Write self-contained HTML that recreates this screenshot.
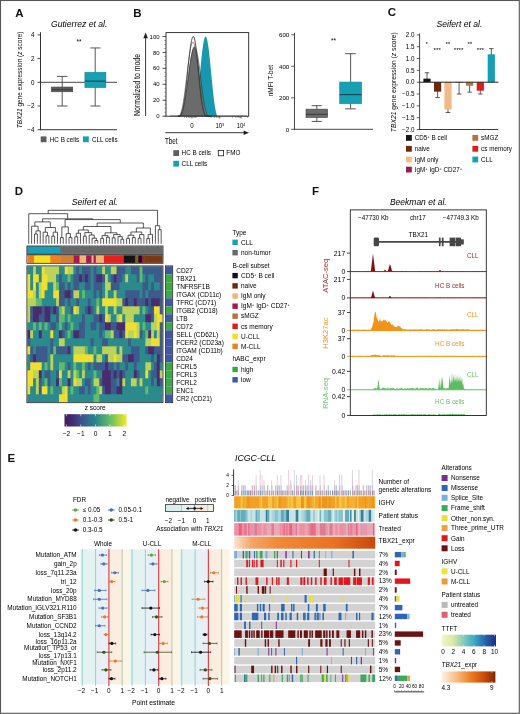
<!DOCTYPE html>
<html><head><meta charset="utf-8"><style>
html,body{margin:0;padding:0;background:#fff;}
body{width:520px;height:714px;overflow:hidden;}
svg{display:block;font-family:"Liberation Sans", sans-serif;will-change:transform;}
</style></head><body>
<svg width="520" height="714" viewBox="0 0 520 714">
<rect x="0" y="0" width="520" height="714" fill="#fff"/>
<text x="15.2" y="16.6" font-size="11.5" font-weight="bold" fill="#111">A</text>
<text x="79.2" y="27.1" font-size="8.6" text-anchor="middle" font-style="italic">Gutierrez et al.</text>
<line x1="40.5" y1="32.3" x2="40.5" y2="130.2" stroke="#333" stroke-width="1"/>
<line x1="40" y1="129.7" x2="117" y2="129.7" stroke="#333" stroke-width="1"/>
<line x1="37.6" y1="34.9" x2="40.5" y2="34.9" stroke="#333" stroke-width="0.9"/>
<text x="34.4" y="37.1" font-size="6.3" text-anchor="end">4</text>
<line x1="37.6" y1="58.6" x2="40.5" y2="58.6" stroke="#333" stroke-width="0.9"/>
<text x="34.4" y="60.8" font-size="6.3" text-anchor="end">2</text>
<line x1="37.6" y1="82.3" x2="40.5" y2="82.3" stroke="#333" stroke-width="0.9"/>
<text x="34.4" y="84.5" font-size="6.3" text-anchor="end">0</text>
<line x1="37.6" y1="106" x2="40.5" y2="106" stroke="#333" stroke-width="0.9"/>
<text x="34.4" y="108.2" font-size="6.3" text-anchor="end">−2</text>
<line x1="37.6" y1="129.7" x2="40.5" y2="129.7" stroke="#333" stroke-width="0.9"/>
<text x="34.4" y="131.9" font-size="6.3" text-anchor="end">−4</text>
<line x1="40.5" y1="82.3" x2="117" y2="82.3" stroke="#333" stroke-width="0.9"/>
<line x1="62.2" y1="76.38" x2="62.2" y2="106" stroke="#444" stroke-width="0.9"/>
<line x1="57" y1="76.38" x2="67.5" y2="76.38" stroke="#444" stroke-width="0.9"/>
<line x1="57" y1="106" x2="67.5" y2="106" stroke="#444" stroke-width="0.9"/>
<rect x="51.5" y="87.04" width="21.2" height="4.74" fill="#5e5e5e" stroke="#444" stroke-width="0.6"/>
<line x1="51.5" y1="89.65" x2="72.7" y2="89.65" stroke="#333" stroke-width="0.8"/>
<line x1="95.2" y1="47.94" x2="95.2" y2="106" stroke="#444" stroke-width="0.9"/>
<line x1="90.4" y1="47.94" x2="100.5" y2="47.94" stroke="#444" stroke-width="0.9"/>
<line x1="90.4" y1="106" x2="100.5" y2="106" stroke="#444" stroke-width="0.9"/>
<rect x="84.9" y="72.23" width="21" height="15.41" fill="#17a0b4" stroke="#148c9c" stroke-width="0.6"/>
<line x1="84.9" y1="81.11" x2="105.9" y2="81.11" stroke="#163c44" stroke-width="1"/>
<text x="79" y="43.5" font-size="6.5" text-anchor="middle">**</text>
<text x="22.5" y="79.9" font-size="6.9" text-anchor="middle" transform="rotate(-90 22.5 79.9)" textLength="96.7" lengthAdjust="spacingAndGlyphs"><tspan font-style="italic">TBX21</tspan> gene expression (<tspan font-style="italic">z</tspan> score)</text>
<rect x="40.7" y="136.4" width="5.8" height="5.8" fill="#5e5e5e"/>
<text x="49.8" y="141.6" font-size="6.3">HC B cells</text>
<rect x="83" y="136.4" width="5.8" height="5.8" fill="#17a0b4"/>
<text x="92" y="141.6" font-size="6.3">CLL cells</text>
<text x="133.2" y="16.6" font-size="11.5" font-weight="bold" fill="#111">B</text>
<path d="M188,116.2 L188.3,116.2 L188.6,116.2 L188.9,116.2 L189.2,116.2 L189.5,116.2 L189.8,116.2 L190.1,116.2 L190.4,116.2 L190.7,116.2 L191,116.2 L191.3,116.2 L191.6,116.2 L191.9,116.2 L192.2,116.2 L192.5,116.2 L192.8,116.2 L193.1,116.2 L193.4,116.2 L193.7,116.2 L194,116.2 L194.3,115.64 L194.6,114.69 L194.9,113.6 L195.2,112.35 L195.5,110.95 L195.8,109.38 L196.1,107.66 L196.4,105.77 L196.7,103.72 L197,101.52 L197.3,99.16 L197.6,96.66 L197.9,94.03 L198.2,91.29 L198.5,88.43 L198.8,85.48 L199.1,82.46 L199.4,79.39 L199.7,76.28 L200,73.16 L200.3,70.04 L200.6,66.95 L200.9,63.91 L201.2,60.94 L201.5,58.07 L201.8,55.3 L202.1,52.66 L202.4,50.18 L202.7,47.86 L203,45.72 L203.3,43.78 L203.6,42.05 L203.9,40.53 L204.2,39.25 L204.5,38.2 L204.8,37.4 L205.1,36.85 L205.4,36.56 L205.7,36.51 L206,36.73 L206.3,37.19 L206.6,37.91 L206.9,38.87 L207.2,40.08 L207.5,41.52 L207.8,43.18 L208.1,45.05 L208.4,47.12 L208.7,49.39 L209,51.82 L209.3,54.41 L209.6,57.13 L209.9,59.97 L210.2,62.91 L210.5,65.93 L210.8,69.01 L211.1,72.12 L211.4,75.24 L211.7,78.36 L212,81.44 L212.3,84.48 L212.6,87.46 L212.9,90.34 L213.2,93.13 L213.5,95.8 L213.8,98.34 L214.1,100.75 L214.4,103 L214.7,105.1 L215,107.05 L215.3,108.83 L215.6,110.44 L215.9,111.9 L216.2,113.2 L216.5,114.34 L216.8,115.34 L217.1,116.2 L217.4,116.2 L217.7,116.2 L218,116.2 L218.3,116.2 L218.6,116.2 L218.9,116.2 L219.2,116.2 L219.5,116.2 L219.8,116.2 L220.1,116.2 L220.4,116.2 L220.7,116.2 L221,116.2 L221.3,116.2 L221.6,116.2 L221.9,116.2 L222.2,116.2 L222.5,116.2 L222.8,116.2 L223.1,116.2 L223.4,116.2 L223.7,116.2 L224,116.2 L224,116.2 L188,116.2 Z" fill="#1798ae"/>
<path d="M176,116.2 L176.3,116.2 L176.6,116.2 L176.9,116.2 L177.2,116.2 L177.5,116.2 L177.8,116.2 L178.1,116.2 L178.4,116.2 L178.7,116.2 L179,116.2 L179.3,116.2 L179.6,116.04 L179.9,115.68 L180.2,115.25 L180.5,114.77 L180.8,114.21 L181.1,113.58 L181.4,112.87 L181.7,112.08 L182,111.2 L182.3,110.24 L182.6,109.18 L182.9,108.03 L183.2,106.79 L183.5,105.46 L183.8,104.03 L184.1,102.51 L184.4,100.91 L184.7,99.21 L185,97.43 L185.3,95.57 L185.6,93.64 L185.9,91.64 L186.2,89.58 L186.5,87.46 L186.8,85.31 L187.1,83.12 L187.4,80.9 L187.7,78.67 L188,76.43 L188.3,74.2 L188.6,71.99 L188.9,69.81 L189.2,67.67 L189.5,65.58 L189.8,63.55 L190.1,61.59 L190.4,59.72 L190.7,57.95 L191,56.28 L191.3,54.72 L191.6,53.28 L191.9,51.97 L192.2,50.8 L192.5,49.77 L192.8,48.89 L193.1,48.17 L193.4,47.6 L193.7,47.19 L194,46.94 L194.3,46.86 L194.6,46.96 L194.9,47.26 L195.2,47.75 L195.5,48.44 L195.8,49.31 L196.1,50.37 L196.4,51.61 L196.7,53.01 L197,54.57 L197.3,56.28 L197.6,58.12 L197.9,60.09 L198.2,62.17 L198.5,64.35 L198.8,66.61 L199.1,68.95 L199.4,71.33 L199.7,73.76 L200,76.21 L200.3,78.67 L200.6,81.12 L200.9,83.56 L201.2,85.96 L201.5,88.31 L201.8,90.61 L202.1,92.84 L202.4,95 L202.7,97.06 L203,99.03 L203.3,100.91 L203.6,102.67 L203.9,104.33 L204.2,105.87 L204.5,107.3 L204.8,108.62 L205.1,109.83 L205.4,110.92 L205.7,111.91 L206,112.79 L206.3,113.58 L206.6,114.27 L206.9,114.87 L207.2,115.39 L207.5,115.83 L207.8,116.2 L208.1,116.2 L208.4,116.2 L208.7,116.2 L209,116.2 L209.3,116.2 L209.6,116.2 L209.9,116.2 L210.2,116.2 L210.5,116.2 L210.8,116.2 L211.1,116.2 L211.4,116.2 L211.7,116.2 L212,116.2 L212,116.2 L176,116.2 Z" fill="#6b6b6b"/>
<path d="M178,116.2 L178.27,116.2 L178.53,116.2 L178.8,116.2 L179.07,116.2 L179.33,116.2 L179.6,116.15 L179.87,115.88 L180.13,115.56 L180.4,115.18 L180.67,114.73 L180.93,114.22 L181.2,113.63 L181.47,112.97 L181.73,112.22 L182,111.39 L182.27,110.46 L182.53,109.44 L182.8,108.31 L183.07,107.09 L183.33,105.76 L183.6,104.33 L183.87,102.79 L184.13,101.14 L184.4,99.39 L184.67,97.54 L184.93,95.58 L185.2,93.54 L185.47,91.4 L185.73,89.18 L186,86.88 L186.27,84.51 L186.53,82.08 L186.8,79.61 L187.07,77.09 L187.33,74.54 L187.6,71.98 L187.87,69.42 L188.13,66.86 L188.4,64.33 L188.67,61.83 L188.93,59.38 L189.2,56.99 L189.47,54.68 L189.73,52.46 L190,50.34 L190.27,48.33 L190.53,46.45 L190.8,44.71 L191.07,43.11 L191.33,41.66 L191.6,40.38 L191.87,39.28 L192.13,38.35 L192.4,37.6 L192.67,37.05 L192.93,36.68 L193.2,36.51 L193.47,36.55 L193.73,36.81 L194,37.31 L194.27,38.04 L194.53,38.99 L194.8,40.16 L195.07,41.55 L195.33,43.13 L195.6,44.9 L195.87,46.84 L196.13,48.95 L196.4,51.2 L196.67,53.59 L196.93,56.09 L197.2,58.69 L197.47,61.37 L197.73,64.11 L198,66.89 L198.27,69.71 L198.53,72.53 L198.8,75.34 L199.07,78.13 L199.33,80.88 L199.6,83.58 L199.87,86.2 L200.13,88.75 L200.4,91.21 L200.67,93.56 L200.93,95.81 L201.2,97.94 L201.47,99.95 L201.73,101.83 L202,103.59 L202.27,105.22 L202.53,106.72 L202.8,108.09 L203.07,109.34 L203.33,110.47 L203.6,111.48 L203.87,112.39 L204.13,113.18 L204.4,113.88 L204.67,114.49 L204.93,115.01 L205.2,115.45 L205.47,115.83 L205.73,116.13 L206,116.2 L206.27,116.2 L206.53,116.2 L206.8,116.2 L207.07,116.2 L207.33,116.2 L207.6,116.2 L207.87,116.2 L208.13,116.2 L208.4,116.2 L208.67,116.2 L208.93,116.2 L209.2,116.2 L209.47,116.2 L209.73,116.2 L210,116.2" fill="none" stroke="#2a2a2a" stroke-width="0.85"/>
<path d="M177,116.2 L177.29,116.2 L177.58,116.2 L177.88,116.2 L178.17,116.2 L178.46,116.2 L178.75,116.2 L179.04,116.2 L179.33,116.2 L179.62,116.2 L179.92,116.2 L180.21,116.2 L180.5,116.1 L180.79,115.67 L181.08,115.18 L181.38,114.61 L181.67,113.97 L181.96,113.25 L182.25,112.44 L182.54,111.55 L182.83,110.57 L183.12,109.5 L183.42,108.33 L183.71,107.07 L184,105.72 L184.29,104.28 L184.58,102.74 L184.88,101.12 L185.17,99.41 L185.46,97.61 L185.75,95.74 L186.04,93.8 L186.33,91.79 L186.62,89.73 L186.92,87.62 L187.21,85.46 L187.5,83.27 L187.79,81.06 L188.08,78.83 L188.38,76.61 L188.67,74.39 L188.96,72.19 L189.25,70.02 L189.54,67.89 L189.83,65.81 L190.12,63.79 L190.42,61.85 L190.71,59.99 L191,58.22 L191.29,56.55 L191.58,54.99 L191.88,53.55 L192.17,52.24 L192.46,51.05 L192.75,50.01 L193.04,49.1 L193.33,48.35 L193.62,47.75 L193.92,47.3 L194.21,47 L194.5,46.87 L194.79,46.9 L195.08,47.1 L195.38,47.48 L195.67,48.03 L195.96,48.74 L196.25,49.63 L196.54,50.67 L196.83,51.86 L197.12,53.21 L197.42,54.69 L197.71,56.31 L198,58.04 L198.29,59.89 L198.58,61.84 L198.88,63.89 L199.17,66.01 L199.46,68.2 L199.75,70.44 L200.04,72.73 L200.33,75.04 L200.62,77.38 L200.92,79.72 L201.21,82.05 L201.5,84.36 L201.79,86.64 L202.08,88.88 L202.38,91.07 L202.67,93.2 L202.96,95.26 L203.25,97.24 L203.54,99.14 L203.83,100.95 L204.12,102.66 L204.42,104.27 L204.71,105.79 L205,107.2 L205.29,108.51 L205.58,109.71 L205.88,110.82 L206.17,111.82 L206.46,112.73 L206.75,113.54 L207.04,114.26 L207.33,114.9 L207.62,115.46 L207.92,115.94 L208.21,116.2 L208.5,116.2 L208.79,116.2 L209.08,116.2 L209.38,116.2 L209.67,116.2 L209.96,116.2 L210.25,116.2 L210.54,116.2 L210.83,116.2 L211.12,116.2 L211.42,116.2 L211.71,116.2 L212,116.2" fill="none" stroke="#3c3c3c" stroke-width="0.7"/>
<path d="M178,116.2 L178.27,116.2 L178.53,116.2 L178.8,116.2 L179.07,116.2 L179.33,116.09 L179.6,115.68 L179.87,115.22 L180.13,114.69 L180.4,114.09 L180.67,113.41 L180.93,112.66 L181.2,111.83 L181.47,110.91 L181.73,109.91 L182,108.82 L182.27,107.64 L182.53,106.37 L182.8,105.02 L183.07,103.57 L183.33,102.03 L183.6,100.41 L183.87,98.7 L184.13,96.91 L184.4,95.05 L184.67,93.11 L184.93,91.11 L185.2,89.05 L185.47,86.93 L185.73,84.77 L186,82.57 L186.27,80.34 L186.53,78.09 L186.8,75.83 L187.07,73.57 L187.33,71.32 L187.6,69.08 L187.87,66.87 L188.13,64.71 L188.4,62.59 L188.67,60.52 L188.93,58.53 L189.2,56.61 L189.47,54.78 L189.73,53.05 L190,51.42 L190.27,49.9 L190.53,48.5 L190.8,47.22 L191.07,46.07 L191.33,45.06 L191.6,44.19 L191.87,43.47 L192.13,42.89 L192.4,42.47 L192.67,42.2 L192.93,42.08 L193.2,42.13 L193.47,42.37 L193.73,42.79 L194,43.39 L194.27,44.17 L194.53,45.13 L194.8,46.26 L195.07,47.56 L195.33,49.01 L195.6,50.61 L195.87,52.34 L196.13,54.21 L196.4,56.19 L196.67,58.29 L196.93,60.47 L197.2,62.74 L197.47,65.08 L197.73,67.48 L198,69.92 L198.27,72.39 L198.53,74.87 L198.8,77.36 L199.07,79.84 L199.33,82.3 L199.6,84.72 L199.87,87.09 L200.13,89.41 L200.4,91.67 L200.67,93.85 L200.93,95.95 L201.2,97.95 L201.47,99.86 L201.73,101.67 L202,103.38 L202.27,104.98 L202.53,106.47 L202.8,107.85 L203.07,109.13 L203.33,110.29 L203.6,111.36 L203.87,112.31 L204.13,113.17 L204.4,113.94 L204.67,114.61 L204.93,115.2 L205.2,115.71 L205.47,116.15 L205.73,116.2 L206,116.2 L206.27,116.2 L206.53,116.2 L206.8,116.2 L207.07,116.2 L207.33,116.2 L207.6,116.2 L207.87,116.2 L208.13,116.2 L208.4,116.2 L208.67,116.2 L208.93,116.2 L209.2,116.2 L209.47,116.2 L209.73,116.2 L210,116.2" fill="none" stroke="#4a4a4a" stroke-width="0.6"/>
<line x1="170" y1="115.9" x2="247" y2="115.9" stroke="#444" stroke-width="0.6"/>
<rect x="166" y="32.6" width="82.7" height="83.6" fill="none" stroke="#222" stroke-width="0.9"/>
<line x1="162.4" y1="116.2" x2="166" y2="116.2" stroke="#333" stroke-width="0.8"/>
<text x="159.6" y="118.3" font-size="6" text-anchor="end">0</text>
<line x1="162.4" y1="100.26" x2="166" y2="100.26" stroke="#333" stroke-width="0.8"/>
<text x="159.6" y="102.36" font-size="6" text-anchor="end">20</text>
<line x1="162.4" y1="84.32" x2="166" y2="84.32" stroke="#333" stroke-width="0.8"/>
<text x="159.6" y="86.42" font-size="6" text-anchor="end">40</text>
<line x1="162.4" y1="68.38" x2="166" y2="68.38" stroke="#333" stroke-width="0.8"/>
<text x="159.6" y="70.48" font-size="6" text-anchor="end">60</text>
<line x1="162.4" y1="52.44" x2="166" y2="52.44" stroke="#333" stroke-width="0.8"/>
<text x="159.6" y="54.54" font-size="6" text-anchor="end">80</text>
<line x1="162.4" y1="36.5" x2="166" y2="36.5" stroke="#333" stroke-width="0.8"/>
<text x="159.6" y="38.6" font-size="6" text-anchor="end">100</text>
<line x1="164.4" y1="116.2" x2="166" y2="116.2" stroke="#333" stroke-width="0.5"/>
<line x1="164.4" y1="112.22" x2="166" y2="112.22" stroke="#333" stroke-width="0.5"/>
<line x1="164.4" y1="108.23" x2="166" y2="108.23" stroke="#333" stroke-width="0.5"/>
<line x1="164.4" y1="104.25" x2="166" y2="104.25" stroke="#333" stroke-width="0.5"/>
<line x1="164.4" y1="100.26" x2="166" y2="100.26" stroke="#333" stroke-width="0.5"/>
<line x1="164.4" y1="96.28" x2="166" y2="96.28" stroke="#333" stroke-width="0.5"/>
<line x1="164.4" y1="92.29" x2="166" y2="92.29" stroke="#333" stroke-width="0.5"/>
<line x1="164.4" y1="88.31" x2="166" y2="88.31" stroke="#333" stroke-width="0.5"/>
<line x1="164.4" y1="84.32" x2="166" y2="84.32" stroke="#333" stroke-width="0.5"/>
<line x1="164.4" y1="80.34" x2="166" y2="80.34" stroke="#333" stroke-width="0.5"/>
<line x1="164.4" y1="76.35" x2="166" y2="76.35" stroke="#333" stroke-width="0.5"/>
<line x1="164.4" y1="72.37" x2="166" y2="72.37" stroke="#333" stroke-width="0.5"/>
<line x1="164.4" y1="68.38" x2="166" y2="68.38" stroke="#333" stroke-width="0.5"/>
<line x1="164.4" y1="64.4" x2="166" y2="64.4" stroke="#333" stroke-width="0.5"/>
<line x1="164.4" y1="60.41" x2="166" y2="60.41" stroke="#333" stroke-width="0.5"/>
<line x1="164.4" y1="56.42" x2="166" y2="56.42" stroke="#333" stroke-width="0.5"/>
<line x1="164.4" y1="52.44" x2="166" y2="52.44" stroke="#333" stroke-width="0.5"/>
<line x1="164.4" y1="48.45" x2="166" y2="48.45" stroke="#333" stroke-width="0.5"/>
<line x1="164.4" y1="44.47" x2="166" y2="44.47" stroke="#333" stroke-width="0.5"/>
<line x1="164.4" y1="40.48" x2="166" y2="40.48" stroke="#333" stroke-width="0.5"/>
<line x1="164.4" y1="36.5" x2="166" y2="36.5" stroke="#333" stroke-width="0.5"/>
<line x1="191.9" y1="116.2" x2="191.9" y2="118.5" stroke="#333" stroke-width="0.7"/>
<line x1="219.8" y1="116.2" x2="219.8" y2="118.5" stroke="#333" stroke-width="0.7"/>
<line x1="241" y1="116.2" x2="241" y2="118.5" stroke="#333" stroke-width="0.7"/>
<line x1="184.3" y1="116.2" x2="184.3" y2="117.8" stroke="#333" stroke-width="0.5"/>
<line x1="186.5" y1="116.2" x2="186.5" y2="117.8" stroke="#333" stroke-width="0.5"/>
<line x1="188.2" y1="116.2" x2="188.2" y2="117.8" stroke="#333" stroke-width="0.5"/>
<line x1="189.6" y1="116.2" x2="189.6" y2="117.8" stroke="#333" stroke-width="0.5"/>
<line x1="190.8" y1="116.2" x2="190.8" y2="117.8" stroke="#333" stroke-width="0.5"/>
<line x1="193" y1="116.2" x2="193" y2="117.8" stroke="#333" stroke-width="0.5"/>
<line x1="194.3" y1="116.2" x2="194.3" y2="117.8" stroke="#333" stroke-width="0.5"/>
<line x1="195.4" y1="116.2" x2="195.4" y2="117.8" stroke="#333" stroke-width="0.5"/>
<line x1="196.2" y1="116.2" x2="196.2" y2="117.8" stroke="#333" stroke-width="0.5"/>
<line x1="211" y1="116.2" x2="211" y2="117.8" stroke="#333" stroke-width="0.5"/>
<line x1="214.6" y1="116.2" x2="214.6" y2="117.8" stroke="#333" stroke-width="0.5"/>
<line x1="216.7" y1="116.2" x2="216.7" y2="117.8" stroke="#333" stroke-width="0.5"/>
<line x1="218.2" y1="116.2" x2="218.2" y2="117.8" stroke="#333" stroke-width="0.5"/>
<line x1="219" y1="116.2" x2="219" y2="117.8" stroke="#333" stroke-width="0.5"/>
<line x1="232.4" y1="116.2" x2="232.4" y2="117.8" stroke="#333" stroke-width="0.5"/>
<line x1="235.8" y1="116.2" x2="235.8" y2="117.8" stroke="#333" stroke-width="0.5"/>
<line x1="237.8" y1="116.2" x2="237.8" y2="117.8" stroke="#333" stroke-width="0.5"/>
<line x1="239.2" y1="116.2" x2="239.2" y2="117.8" stroke="#333" stroke-width="0.5"/>
<line x1="240.2" y1="116.2" x2="240.2" y2="117.8" stroke="#333" stroke-width="0.5"/>
<line x1="247.5" y1="116.2" x2="247.5" y2="117.8" stroke="#333" stroke-width="0.5"/>
<text x="191.9" y="128.2" font-size="7" text-anchor="middle" textLength="3.4" lengthAdjust="spacingAndGlyphs">0</text>
<text x="219.8" y="128.2" font-size="7" text-anchor="middle" textLength="8.6" lengthAdjust="spacingAndGlyphs">10<tspan font-size="4.4" dy="-2.6">3</tspan></text>
<text x="241" y="128.2" font-size="7" text-anchor="middle" textLength="8.6" lengthAdjust="spacingAndGlyphs">10<tspan font-size="4.4" dy="-2.6">4</tspan></text>
<line x1="145.6" y1="116" x2="145.6" y2="36" stroke="#222" stroke-width="0.9"/>
<path d="M145.6,32.6 L143.3,38.2 L147.9,38.2 Z" fill="#222"/>
<line x1="165.3" y1="132.7" x2="245" y2="132.7" stroke="#222" stroke-width="0.9"/>
<path d="M249.0,132.7 L243.6,130.5 L243.6,134.9 Z" fill="#222"/>
<text x="140.4" y="85" font-size="8.6" text-anchor="middle" transform="rotate(-90 140.4 85)" textLength="62" lengthAdjust="spacingAndGlyphs">Normalized to mode</text>
<text x="165" y="143.7" font-size="8.6" textLength="12.6" lengthAdjust="spacingAndGlyphs">Tbet</text>
<rect x="173.3" y="150.2" width="5.8" height="5.8" fill="#5e5e5e"/>
<text x="181.6" y="155.4" font-size="6.3">HC B cells</text>
<rect x="218.3" y="150.5" width="5.3" height="5.3" fill="#fff" stroke="#222" stroke-width="0.8"/>
<text x="226.3" y="155.4" font-size="6.3">FMO</text>
<rect x="173.3" y="160.8" width="5.8" height="5.8" fill="#17a0b4"/>
<text x="181.6" y="166" font-size="6.3">CLL cells</text>
<line x1="294.5" y1="32.8" x2="294.5" y2="129.8" stroke="#333" stroke-width="0.9"/>
<line x1="294" y1="129.3" x2="373" y2="129.3" stroke="#333" stroke-width="0.9"/>
<line x1="291.2" y1="129.3" x2="294.5" y2="129.3" stroke="#333" stroke-width="0.8"/>
<text x="289.3" y="131.5" font-size="6.2" text-anchor="end">0</text>
<line x1="291.2" y1="97.8" x2="294.5" y2="97.8" stroke="#333" stroke-width="0.8"/>
<text x="289.3" y="100" font-size="6.2" text-anchor="end">200</text>
<line x1="291.2" y1="66.3" x2="294.5" y2="66.3" stroke="#333" stroke-width="0.8"/>
<text x="289.3" y="68.5" font-size="6.2" text-anchor="end">400</text>
<line x1="291.2" y1="34.8" x2="294.5" y2="34.8" stroke="#333" stroke-width="0.8"/>
<text x="289.3" y="37" font-size="6.2" text-anchor="end">600</text>
<line x1="316.8" y1="105.68" x2="316.8" y2="121.43" stroke="#444" stroke-width="0.9"/>
<line x1="311.7" y1="105.68" x2="321.8" y2="105.68" stroke="#444" stroke-width="0.9"/>
<line x1="311.7" y1="121.43" x2="321.8" y2="121.43" stroke="#444" stroke-width="0.9"/>
<rect x="306" y="109.14" width="21.6" height="8.35" fill="#6b6b6b" stroke="#444" stroke-width="0.6"/>
<line x1="306" y1="114.34" x2="327.6" y2="114.34" stroke="#333" stroke-width="0.9"/>
<line x1="350.6" y1="53.7" x2="350.6" y2="108.83" stroke="#444" stroke-width="0.9"/>
<line x1="345.2" y1="53.7" x2="355.8" y2="53.7" stroke="#444" stroke-width="0.9"/>
<line x1="345.2" y1="108.83" x2="355.8" y2="108.83" stroke="#444" stroke-width="0.9"/>
<rect x="339.7" y="82.05" width="21.9" height="21.73" fill="#17a0b4" stroke="#148c9c" stroke-width="0.6"/>
<line x1="339.7" y1="94.65" x2="361.6" y2="94.65" stroke="#163c44" stroke-width="1"/>
<text x="333.6" y="42.5" font-size="6.5" text-anchor="middle">**</text>
<text x="273.3" y="80.6" font-size="6.5" text-anchor="middle" transform="rotate(-90 273.3 80.6)">nMFI T-bet</text>
<text x="387.8" y="16.4" font-size="11.5" font-weight="bold" fill="#111">C</text>
<text x="459.4" y="27.3" font-size="8.6" text-anchor="middle" font-style="italic">Seifert et al.</text>
<line x1="419.6" y1="33.5" x2="419.6" y2="129.9" stroke="#333" stroke-width="0.9"/>
<line x1="416.8" y1="34.9" x2="419.6" y2="34.9" stroke="#333" stroke-width="0.8"/>
<text x="414.4" y="37.1" font-size="6.3" text-anchor="end">2.0</text>
<line x1="416.8" y1="46.73" x2="419.6" y2="46.73" stroke="#333" stroke-width="0.8"/>
<text x="414.4" y="48.93" font-size="6.3" text-anchor="end">1.5</text>
<line x1="416.8" y1="58.55" x2="419.6" y2="58.55" stroke="#333" stroke-width="0.8"/>
<text x="414.4" y="60.75" font-size="6.3" text-anchor="end">1.0</text>
<line x1="416.8" y1="70.38" x2="419.6" y2="70.38" stroke="#333" stroke-width="0.8"/>
<text x="414.4" y="72.58" font-size="6.3" text-anchor="end">0.5</text>
<line x1="416.8" y1="82.2" x2="419.6" y2="82.2" stroke="#333" stroke-width="0.8"/>
<text x="414.4" y="84.4" font-size="6.3" text-anchor="end">0.0</text>
<line x1="416.8" y1="94.03" x2="419.6" y2="94.03" stroke="#333" stroke-width="0.8"/>
<text x="414.4" y="96.23" font-size="6.3" text-anchor="end">−0.5</text>
<line x1="416.8" y1="105.85" x2="419.6" y2="105.85" stroke="#333" stroke-width="0.8"/>
<text x="414.4" y="108.05" font-size="6.3" text-anchor="end">−1.0</text>
<line x1="416.8" y1="117.67" x2="419.6" y2="117.67" stroke="#333" stroke-width="0.8"/>
<text x="414.4" y="119.88" font-size="6.3" text-anchor="end">−1.5</text>
<line x1="416.8" y1="129.5" x2="419.6" y2="129.5" stroke="#333" stroke-width="0.8"/>
<text x="414.4" y="131.7" font-size="6.3" text-anchor="end">−2.0</text>
<line x1="427" y1="82.2" x2="427" y2="72.74" stroke="#333" stroke-width="0.8"/>
<line x1="424.7" y1="72.74" x2="429.3" y2="72.74" stroke="#333" stroke-width="0.8"/>
<rect x="423.4" y="78.65" width="7.2" height="3.55" fill="#151515"/>
<line x1="437.6" y1="82.2" x2="437.6" y2="97.57" stroke="#333" stroke-width="0.8"/>
<line x1="435.3" y1="97.57" x2="439.9" y2="97.57" stroke="#333" stroke-width="0.8"/>
<rect x="434" y="82.2" width="7.2" height="9.46" fill="#6b2a0c"/>
<line x1="448" y1="82.2" x2="448" y2="112.47" stroke="#333" stroke-width="0.8"/>
<line x1="445.7" y1="112.47" x2="450.3" y2="112.47" stroke="#333" stroke-width="0.8"/>
<rect x="444.4" y="82.2" width="7.2" height="27.2" fill="#f4b984"/>
<line x1="459.1" y1="82.2" x2="459.1" y2="94.03" stroke="#333" stroke-width="0.8"/>
<line x1="456.8" y1="94.03" x2="461.4" y2="94.03" stroke="#333" stroke-width="0.8"/>
<rect x="455.5" y="82.2" width="7.2" height="0.47" fill="#9b1b4b"/>
<line x1="469.6" y1="82.2" x2="469.6" y2="92.13" stroke="#333" stroke-width="0.8"/>
<line x1="467.3" y1="92.13" x2="471.9" y2="92.13" stroke="#333" stroke-width="0.8"/>
<rect x="466" y="82.2" width="7.2" height="3.55" fill="#b8733c"/>
<line x1="480.3" y1="82.2" x2="480.3" y2="94.03" stroke="#333" stroke-width="0.8"/>
<line x1="478" y1="94.03" x2="482.6" y2="94.03" stroke="#333" stroke-width="0.8"/>
<rect x="476.7" y="82.2" width="7.2" height="8.51" fill="#e31a1c"/>
<line x1="491.3" y1="82.2" x2="491.3" y2="48.62" stroke="#333" stroke-width="0.8"/>
<line x1="489" y1="48.62" x2="493.6" y2="48.62" stroke="#333" stroke-width="0.8"/>
<rect x="487.7" y="54.29" width="7.2" height="27.91" fill="#17a0b4"/>
<line x1="419.6" y1="82.2" x2="498.4" y2="82.2" stroke="#222" stroke-width="1"/>
<line x1="419.1" y1="129.5" x2="498.2" y2="129.5" stroke="#222" stroke-width="0.9"/>
<text x="426.8" y="46" font-size="6.2" text-anchor="middle">*</text>
<text x="437.2" y="52" font-size="6.2" text-anchor="middle">***</text>
<text x="447.8" y="46" font-size="6.2" text-anchor="middle">**</text>
<text x="458.6" y="52" font-size="6.2" text-anchor="middle">****</text>
<text x="469.8" y="46" font-size="6.2" text-anchor="middle">**</text>
<text x="480.4" y="52" font-size="6.2" text-anchor="middle">***</text>
<text x="396" y="82.2" font-size="7" text-anchor="middle" transform="rotate(-90 396 82.2)" textLength="100" lengthAdjust="spacingAndGlyphs"><tspan font-style="italic">TBX21</tspan> gene expression (<tspan font-style="italic">z</tspan> score)</text>
<rect x="406" y="135" width="5.8" height="5.8" fill="#151515"/>
<text x="414.7" y="140.1" font-size="6.3">CD5<tspan font-size="4.3" dy="-2.3">+</tspan><tspan dy="2.3"> B cell</tspan></text>
<rect x="406" y="145.9" width="5.8" height="5.8" fill="#6b2a0c"/>
<text x="414.7" y="151" font-size="6.3">naive</text>
<rect x="406" y="156.6" width="5.8" height="5.8" fill="#f4b984"/>
<text x="414.7" y="161.7" font-size="6.3">IgM only</text>
<rect x="406" y="166.7" width="5.8" height="5.8" fill="#9b1b4b"/>
<text x="414.7" y="171.8" font-size="6.3">IgM<tspan font-size="4.3" dy="-2.3">+</tspan><tspan dy="2.3"> IgD</tspan><tspan font-size="4.3" dy="-2.3">+</tspan><tspan dy="2.3"> CD27</tspan><tspan font-size="4.3" dy="-2.3">+</tspan></text>
<rect x="472.4" y="135" width="5.8" height="5.8" fill="#b8733c"/>
<text x="481.1" y="140.1" font-size="6.3">sMGZ</text>
<rect x="472.4" y="145.9" width="5.8" height="5.8" fill="#e31a1c"/>
<text x="481.1" y="151" font-size="6.3">cs memory</text>
<rect x="472.4" y="156.6" width="5.8" height="5.8" fill="#17a0b4"/>
<text x="481.1" y="161.7" font-size="6.3">CLL</text>
<text x="14.8" y="195.2" font-size="11.5" font-weight="bold" fill="#111">D</text>
<text x="94.8" y="204.8" font-size="8.6" text-anchor="middle" font-style="italic">Seifert et al.</text>
<path d="M34.5,243.8V234H37.38V243.8M35.94,234V230.9H40.25V243.8M31.62,243.8V226.2H38.1V230.9M46.01,243.8V235.8H48.89V243.8M43.13,243.8V232.2H47.45V235.8M51.77,243.8V236.2H54.65V243.8M53.21,236.2V232.2H57.53V243.8M45.29,232.2V227.5H55.37V232.2M34.86,226.2V221.9H50.33V227.5M60.41,243.8V237.6H63.28V243.8M69.04,243.8V237.4H71.92V243.8M66.16,243.8V233.6H70.48V237.4M61.84,237.6V226.9H68.32V233.6M74.8,243.8V236.8H77.68V243.8M76.24,236.8V233.2H80.56V243.8M83.44,243.8V236.2H86.31V243.8M94.95,243.8V240.5H97.83V243.8M92.07,243.8V238.2H96.39V240.5M89.19,243.8V235H94.23V238.2M84.87,236.2V232.6H91.71V235M78.4,233.2V230H88.29V232.6M100.71,243.8V238.4H103.59V243.8M106.46,243.8V237.2H109.34V243.8M102.15,238.4V235.6H107.9V237.2M112.22,243.8V237.8H115.1V243.8M120.86,243.8V239.2H123.74V243.8M117.98,243.8V236.6H122.3V239.2M113.66,237.8V234.6H120.14V236.6M105.03,235.6V232.8H116.9V234.6M83.35,230V226.5H110.96V232.8M126.62,243.8V238.4H129.49V243.8M132.37,243.8V237.6H135.25V243.8M128.06,238.4V235.2H133.81V237.6M138.13,243.8V238.2H141.01V243.8M139.57,238.2V234.6H143.89V243.8M130.93,235.2V232H141.73V234.6M146.77,243.8V238.6H149.65V243.8M148.21,238.6V234.4H152.52V243.8M136.33,232V228H150.37V234.4M97.15,226.5V223H143.35V228M65.08,226.9V219.6H120.25V223M42.59,221.9V218.8H92.67V219.6M28.74,243.8V213.7H67.63V218.8M158.28,243.8V229.7H161.16V243.8M155.4,243.8V225.7H159.72V229.7M48.18,213.7V210.3H157.56V225.7" fill="none" stroke="#222" stroke-width="0.75"/>
<rect x="27.3" y="246.4" width="135.3" height="7.4" fill="#686868"/>
<rect x="27.3" y="246.4" width="33" height="7.4" fill="#1aa0b6"/>
<rect x="26.9" y="246" width="136.1" height="8.2" fill="none" stroke="#222" stroke-width="0.8"/>
<rect x="27.7" y="255.3" width="7" height="7.6" fill="#f07a20"/>
<rect x="34.2" y="255.3" width="16.6" height="7.6" fill="#f4e01e"/>
<rect x="50.3" y="255.3" width="10.5" height="7.6" fill="#f2801a"/>
<rect x="60.3" y="255.3" width="13.9" height="7.6" fill="#d37f32"/>
<rect x="73.7" y="255.3" width="6.3" height="7.6" fill="#a8174e"/>
<rect x="79.5" y="255.3" width="7.1" height="7.6" fill="#f6b374"/>
<rect x="86.1" y="255.3" width="5.9" height="7.6" fill="#a8174e"/>
<rect x="91.5" y="255.3" width="2.6" height="7.6" fill="#f6b374"/>
<rect x="93.6" y="255.3" width="2.7" height="7.6" fill="#a8174e"/>
<rect x="95.8" y="255.3" width="8.6" height="7.6" fill="#f6b374"/>
<rect x="103.9" y="255.3" width="20.5" height="7.6" fill="#e6211c"/>
<rect x="123.9" y="255.3" width="11.9" height="7.6" fill="#141414"/>
<rect x="135.3" y="255.3" width="3.4" height="7.6" fill="#8a5a22"/>
<rect x="138.2" y="255.3" width="4.2" height="7.6" fill="#141414"/>
<rect x="141.9" y="255.3" width="2.7" height="7.6" fill="#a8174e"/>
<rect x="144.1" y="255.3" width="18.5" height="7.6" fill="#7b3a12"/>
<rect x="26.9" y="254.9" width="136.1" height="8.4" fill="none" stroke="#222" stroke-width="0.8"/>
<rect x="27.3" y="266.3" width="6.76" height="9" fill="#2b8b8c"/>
<rect x="33.06" y="266.3" width="3.88" height="9" fill="#bad35a"/>
<rect x="35.94" y="266.3" width="6.76" height="9" fill="#2b8b8c"/>
<rect x="41.69" y="266.3" width="3.88" height="9" fill="#efdf30"/>
<rect x="44.57" y="266.3" width="15.39" height="9" fill="#bad35a"/>
<rect x="58.97" y="266.3" width="6.76" height="9" fill="#2b8b8c"/>
<rect x="64.72" y="266.3" width="3.88" height="9" fill="#efdf30"/>
<rect x="67.6" y="266.3" width="6.76" height="9" fill="#bad35a"/>
<rect x="73.36" y="266.3" width="3.88" height="9" fill="#2b8b8c"/>
<rect x="76.24" y="266.3" width="3.88" height="9" fill="#3d5a8c"/>
<rect x="79.12" y="266.3" width="3.88" height="9" fill="#2b8b8c"/>
<rect x="82" y="266.3" width="9.64" height="9" fill="#3d5a8c"/>
<rect x="90.63" y="266.3" width="3.88" height="9" fill="#2b8b8c"/>
<rect x="93.51" y="266.3" width="3.88" height="9" fill="#3d5a8c"/>
<rect x="96.39" y="266.3" width="6.76" height="9" fill="#2b8b8c"/>
<rect x="102.15" y="266.3" width="3.88" height="9" fill="#bad35a"/>
<rect x="105.03" y="266.3" width="6.76" height="9" fill="#2b8b8c"/>
<rect x="110.78" y="266.3" width="6.76" height="9" fill="#bad35a"/>
<rect x="116.54" y="266.3" width="9.64" height="9" fill="#3d5a8c"/>
<rect x="125.18" y="266.3" width="6.76" height="9" fill="#2b8b8c"/>
<rect x="130.93" y="266.3" width="9.64" height="9" fill="#3d5a8c"/>
<rect x="139.57" y="266.3" width="3.88" height="9" fill="#62bb6c"/>
<rect x="142.45" y="266.3" width="20.15" height="9" fill="#3d5a8c"/>
<rect x="27.3" y="274.3" width="3.88" height="9" fill="#efdf30"/>
<rect x="30.18" y="274.3" width="3.88" height="9" fill="#2b8b8c"/>
<rect x="33.06" y="274.3" width="6.76" height="9" fill="#efdf30"/>
<rect x="38.81" y="274.3" width="3.88" height="9" fill="#2b8b8c"/>
<rect x="41.69" y="274.3" width="6.76" height="9" fill="#efdf30"/>
<rect x="47.45" y="274.3" width="9.64" height="9" fill="#bad35a"/>
<rect x="56.09" y="274.3" width="3.88" height="9" fill="#2b8b8c"/>
<rect x="58.97" y="274.3" width="3.88" height="9" fill="#3d5a8c"/>
<rect x="61.84" y="274.3" width="6.76" height="9" fill="#2b8b8c"/>
<rect x="67.6" y="274.3" width="3.88" height="9" fill="#62bb6c"/>
<rect x="70.48" y="274.3" width="3.88" height="9" fill="#2b8b8c"/>
<rect x="73.36" y="274.3" width="6.76" height="9" fill="#3d5a8c"/>
<rect x="79.12" y="274.3" width="3.88" height="9" fill="#472d6e"/>
<rect x="82" y="274.3" width="3.88" height="9" fill="#3d5a8c"/>
<rect x="84.87" y="274.3" width="3.88" height="9" fill="#472d6e"/>
<rect x="87.75" y="274.3" width="3.88" height="9" fill="#3d5a8c"/>
<rect x="90.63" y="274.3" width="3.88" height="9" fill="#2b8b8c"/>
<rect x="93.51" y="274.3" width="3.88" height="9" fill="#3d5a8c"/>
<rect x="96.39" y="274.3" width="6.76" height="9" fill="#472d6e"/>
<rect x="102.15" y="274.3" width="3.88" height="9" fill="#3d5a8c"/>
<rect x="105.03" y="274.3" width="3.88" height="9" fill="#bad35a"/>
<rect x="107.9" y="274.3" width="3.88" height="9" fill="#2b8b8c"/>
<rect x="110.78" y="274.3" width="3.88" height="9" fill="#3d5a8c"/>
<rect x="113.66" y="274.3" width="3.88" height="9" fill="#472d6e"/>
<rect x="116.54" y="274.3" width="6.76" height="9" fill="#3d5a8c"/>
<rect x="122.3" y="274.3" width="3.88" height="9" fill="#2b8b8c"/>
<rect x="125.18" y="274.3" width="3.88" height="9" fill="#bad35a"/>
<rect x="128.06" y="274.3" width="9.64" height="9" fill="#2b8b8c"/>
<rect x="136.69" y="274.3" width="3.88" height="9" fill="#3d5a8c"/>
<rect x="139.57" y="274.3" width="3.88" height="9" fill="#62bb6c"/>
<rect x="142.45" y="274.3" width="3.88" height="9" fill="#2b8b8c"/>
<rect x="145.33" y="274.3" width="3.88" height="9" fill="#3d5a8c"/>
<rect x="148.21" y="274.3" width="6.76" height="9" fill="#2b8b8c"/>
<rect x="153.96" y="274.3" width="8.64" height="9" fill="#3d5a8c"/>
<rect x="27.3" y="282.3" width="3.88" height="9" fill="#efdf30"/>
<rect x="30.18" y="282.3" width="3.88" height="9" fill="#2b8b8c"/>
<rect x="33.06" y="282.3" width="3.88" height="9" fill="#efdf30"/>
<rect x="35.94" y="282.3" width="3.88" height="9" fill="#2b8b8c"/>
<rect x="38.81" y="282.3" width="3.88" height="9" fill="#bad35a"/>
<rect x="41.69" y="282.3" width="6.76" height="9" fill="#efdf30"/>
<rect x="47.45" y="282.3" width="6.76" height="9" fill="#2b8b8c"/>
<rect x="53.21" y="282.3" width="3.88" height="9" fill="#bad35a"/>
<rect x="56.09" y="282.3" width="3.88" height="9" fill="#62bb6c"/>
<rect x="58.97" y="282.3" width="6.76" height="9" fill="#3d5a8c"/>
<rect x="64.72" y="282.3" width="3.88" height="9" fill="#2b8b8c"/>
<rect x="67.6" y="282.3" width="3.88" height="9" fill="#3d5a8c"/>
<rect x="70.48" y="282.3" width="3.88" height="9" fill="#2b8b8c"/>
<rect x="73.36" y="282.3" width="6.76" height="9" fill="#3d5a8c"/>
<rect x="79.12" y="282.3" width="6.76" height="9" fill="#2b8b8c"/>
<rect x="84.87" y="282.3" width="6.76" height="9" fill="#3d5a8c"/>
<rect x="90.63" y="282.3" width="3.88" height="9" fill="#2b8b8c"/>
<rect x="93.51" y="282.3" width="9.64" height="9" fill="#3d5a8c"/>
<rect x="102.15" y="282.3" width="3.88" height="9" fill="#2b8b8c"/>
<rect x="105.03" y="282.3" width="6.76" height="9" fill="#bad35a"/>
<rect x="110.78" y="282.3" width="9.64" height="9" fill="#3d5a8c"/>
<rect x="119.42" y="282.3" width="24.03" height="9" fill="#2b8b8c"/>
<rect x="142.45" y="282.3" width="6.76" height="9" fill="#3d5a8c"/>
<rect x="148.21" y="282.3" width="3.88" height="9" fill="#2b8b8c"/>
<rect x="151.09" y="282.3" width="3.88" height="9" fill="#3d5a8c"/>
<rect x="153.96" y="282.3" width="6.76" height="9" fill="#2b8b8c"/>
<rect x="159.72" y="282.3" width="2.88" height="9" fill="#3d5a8c"/>
<rect x="27.3" y="290.3" width="6.76" height="9" fill="#efdf30"/>
<rect x="33.06" y="290.3" width="3.88" height="9" fill="#bad35a"/>
<rect x="35.94" y="290.3" width="3.88" height="9" fill="#2b8b8c"/>
<rect x="38.81" y="290.3" width="3.88" height="9" fill="#bad35a"/>
<rect x="41.69" y="290.3" width="3.88" height="9" fill="#efdf30"/>
<rect x="44.57" y="290.3" width="9.64" height="9" fill="#2b8b8c"/>
<rect x="53.21" y="290.3" width="6.76" height="9" fill="#efdf30"/>
<rect x="58.97" y="290.3" width="6.76" height="9" fill="#3d5a8c"/>
<rect x="64.72" y="290.3" width="6.76" height="9" fill="#472d6e"/>
<rect x="70.48" y="290.3" width="3.88" height="9" fill="#3d5a8c"/>
<rect x="73.36" y="290.3" width="6.76" height="9" fill="#bad35a"/>
<rect x="79.12" y="290.3" width="3.88" height="9" fill="#2b8b8c"/>
<rect x="82" y="290.3" width="3.88" height="9" fill="#62bb6c"/>
<rect x="84.87" y="290.3" width="9.64" height="9" fill="#2b8b8c"/>
<rect x="93.51" y="290.3" width="3.88" height="9" fill="#3d5a8c"/>
<rect x="96.39" y="290.3" width="3.88" height="9" fill="#2b8b8c"/>
<rect x="99.27" y="290.3" width="3.88" height="9" fill="#3d5a8c"/>
<rect x="102.15" y="290.3" width="3.88" height="9" fill="#2b8b8c"/>
<rect x="105.03" y="290.3" width="3.88" height="9" fill="#bad35a"/>
<rect x="107.9" y="290.3" width="6.76" height="9" fill="#2b8b8c"/>
<rect x="113.66" y="290.3" width="3.88" height="9" fill="#bad35a"/>
<rect x="116.54" y="290.3" width="9.64" height="9" fill="#2b8b8c"/>
<rect x="125.18" y="290.3" width="15.39" height="9" fill="#3d5a8c"/>
<rect x="139.57" y="290.3" width="3.88" height="9" fill="#2b8b8c"/>
<rect x="142.45" y="290.3" width="3.88" height="9" fill="#3d5a8c"/>
<rect x="145.33" y="290.3" width="3.88" height="9" fill="#2b8b8c"/>
<rect x="148.21" y="290.3" width="14.39" height="9" fill="#3d5a8c"/>
<rect x="27.3" y="298.3" width="9.64" height="9" fill="#bad35a"/>
<rect x="35.94" y="298.3" width="6.76" height="9" fill="#62bb6c"/>
<rect x="41.69" y="298.3" width="15.39" height="9" fill="#2b8b8c"/>
<rect x="56.09" y="298.3" width="3.88" height="9" fill="#bad35a"/>
<rect x="58.97" y="298.3" width="6.76" height="9" fill="#3d5a8c"/>
<rect x="64.72" y="298.3" width="3.88" height="9" fill="#2b8b8c"/>
<rect x="67.6" y="298.3" width="3.88" height="9" fill="#3d5a8c"/>
<rect x="70.48" y="298.3" width="6.76" height="9" fill="#2b8b8c"/>
<rect x="76.24" y="298.3" width="3.88" height="9" fill="#3d5a8c"/>
<rect x="79.12" y="298.3" width="9.64" height="9" fill="#2b8b8c"/>
<rect x="87.75" y="298.3" width="3.88" height="9" fill="#3d5a8c"/>
<rect x="90.63" y="298.3" width="6.76" height="9" fill="#2b8b8c"/>
<rect x="96.39" y="298.3" width="3.88" height="9" fill="#62bb6c"/>
<rect x="99.27" y="298.3" width="3.88" height="9" fill="#2b8b8c"/>
<rect x="102.15" y="298.3" width="15.39" height="9" fill="#efdf30"/>
<rect x="116.54" y="298.3" width="6.76" height="9" fill="#bad35a"/>
<rect x="122.3" y="298.3" width="3.88" height="9" fill="#3d5a8c"/>
<rect x="125.18" y="298.3" width="3.88" height="9" fill="#472d6e"/>
<rect x="128.06" y="298.3" width="6.76" height="9" fill="#3d5a8c"/>
<rect x="133.81" y="298.3" width="3.88" height="9" fill="#472d6e"/>
<rect x="136.69" y="298.3" width="9.64" height="9" fill="#3d5a8c"/>
<rect x="145.33" y="298.3" width="3.88" height="9" fill="#472d6e"/>
<rect x="148.21" y="298.3" width="3.88" height="9" fill="#3d5a8c"/>
<rect x="151.09" y="298.3" width="9.64" height="9" fill="#472d6e"/>
<rect x="159.72" y="298.3" width="2.88" height="9" fill="#3d5a8c"/>
<rect x="27.3" y="306.3" width="3.88" height="9" fill="#bad35a"/>
<rect x="30.18" y="306.3" width="3.88" height="9" fill="#3d5a8c"/>
<rect x="33.06" y="306.3" width="9.64" height="9" fill="#472d6e"/>
<rect x="41.69" y="306.3" width="3.88" height="9" fill="#3d5a8c"/>
<rect x="44.57" y="306.3" width="6.76" height="9" fill="#472d6e"/>
<rect x="50.33" y="306.3" width="3.88" height="9" fill="#3d5a8c"/>
<rect x="53.21" y="306.3" width="3.88" height="9" fill="#472d6e"/>
<rect x="56.09" y="306.3" width="3.88" height="9" fill="#3d5a8c"/>
<rect x="58.97" y="306.3" width="3.88" height="9" fill="#62bb6c"/>
<rect x="61.84" y="306.3" width="3.88" height="9" fill="#bad35a"/>
<rect x="64.72" y="306.3" width="6.76" height="9" fill="#2b8b8c"/>
<rect x="70.48" y="306.3" width="3.88" height="9" fill="#3d5a8c"/>
<rect x="73.36" y="306.3" width="3.88" height="9" fill="#efdf30"/>
<rect x="76.24" y="306.3" width="3.88" height="9" fill="#bad35a"/>
<rect x="79.12" y="306.3" width="6.76" height="9" fill="#2b8b8c"/>
<rect x="84.87" y="306.3" width="3.88" height="9" fill="#3d5a8c"/>
<rect x="87.75" y="306.3" width="3.88" height="9" fill="#472d6e"/>
<rect x="90.63" y="306.3" width="3.88" height="9" fill="#3d5a8c"/>
<rect x="93.51" y="306.3" width="3.88" height="9" fill="#2b8b8c"/>
<rect x="96.39" y="306.3" width="3.88" height="9" fill="#bad35a"/>
<rect x="99.27" y="306.3" width="6.76" height="9" fill="#2b8b8c"/>
<rect x="105.03" y="306.3" width="3.88" height="9" fill="#bad35a"/>
<rect x="107.9" y="306.3" width="6.76" height="9" fill="#2b8b8c"/>
<rect x="113.66" y="306.3" width="3.88" height="9" fill="#bad35a"/>
<rect x="116.54" y="306.3" width="6.76" height="9" fill="#2b8b8c"/>
<rect x="122.3" y="306.3" width="18.27" height="9" fill="#bad35a"/>
<rect x="139.57" y="306.3" width="3.88" height="9" fill="#2b8b8c"/>
<rect x="142.45" y="306.3" width="3.88" height="9" fill="#62bb6c"/>
<rect x="145.33" y="306.3" width="3.88" height="9" fill="#2b8b8c"/>
<rect x="148.21" y="306.3" width="6.76" height="9" fill="#3d5a8c"/>
<rect x="153.96" y="306.3" width="6.76" height="9" fill="#efdf30"/>
<rect x="159.72" y="306.3" width="2.88" height="9" fill="#3d5a8c"/>
<rect x="27.3" y="314.3" width="3.88" height="9" fill="#bad35a"/>
<rect x="30.18" y="314.3" width="3.88" height="9" fill="#3d5a8c"/>
<rect x="33.06" y="314.3" width="6.76" height="9" fill="#472d6e"/>
<rect x="38.81" y="314.3" width="6.76" height="9" fill="#3d5a8c"/>
<rect x="44.57" y="314.3" width="6.76" height="9" fill="#472d6e"/>
<rect x="50.33" y="314.3" width="6.76" height="9" fill="#2b8b8c"/>
<rect x="56.09" y="314.3" width="3.88" height="9" fill="#3d5a8c"/>
<rect x="58.97" y="314.3" width="6.76" height="9" fill="#62bb6c"/>
<rect x="64.72" y="314.3" width="3.88" height="9" fill="#2b8b8c"/>
<rect x="67.6" y="314.3" width="3.88" height="9" fill="#62bb6c"/>
<rect x="70.48" y="314.3" width="12.51" height="9" fill="#2b8b8c"/>
<rect x="82" y="314.3" width="3.88" height="9" fill="#3d5a8c"/>
<rect x="84.87" y="314.3" width="9.64" height="9" fill="#2b8b8c"/>
<rect x="93.51" y="314.3" width="6.76" height="9" fill="#3d5a8c"/>
<rect x="99.27" y="314.3" width="3.88" height="9" fill="#472d6e"/>
<rect x="102.15" y="314.3" width="3.88" height="9" fill="#3d5a8c"/>
<rect x="105.03" y="314.3" width="3.88" height="9" fill="#efdf30"/>
<rect x="107.9" y="314.3" width="3.88" height="9" fill="#bad35a"/>
<rect x="110.78" y="314.3" width="6.76" height="9" fill="#2b8b8c"/>
<rect x="116.54" y="314.3" width="3.88" height="9" fill="#bad35a"/>
<rect x="119.42" y="314.3" width="3.88" height="9" fill="#efdf30"/>
<rect x="122.3" y="314.3" width="3.88" height="9" fill="#2b8b8c"/>
<rect x="125.18" y="314.3" width="9.64" height="9" fill="#bad35a"/>
<rect x="133.81" y="314.3" width="12.51" height="9" fill="#2b8b8c"/>
<rect x="145.33" y="314.3" width="6.76" height="9" fill="#472d6e"/>
<rect x="151.09" y="314.3" width="3.88" height="9" fill="#3d5a8c"/>
<rect x="153.96" y="314.3" width="3.88" height="9" fill="#bad35a"/>
<rect x="156.84" y="314.3" width="5.76" height="9" fill="#efdf30"/>
<rect x="27.3" y="322.3" width="6.76" height="9" fill="#2b8b8c"/>
<rect x="33.06" y="322.3" width="3.88" height="9" fill="#62bb6c"/>
<rect x="35.94" y="322.3" width="3.88" height="9" fill="#2b8b8c"/>
<rect x="38.81" y="322.3" width="3.88" height="9" fill="#62bb6c"/>
<rect x="41.69" y="322.3" width="3.88" height="9" fill="#2b8b8c"/>
<rect x="44.57" y="322.3" width="3.88" height="9" fill="#62bb6c"/>
<rect x="47.45" y="322.3" width="3.88" height="9" fill="#2b8b8c"/>
<rect x="50.33" y="322.3" width="6.76" height="9" fill="#3d5a8c"/>
<rect x="56.09" y="322.3" width="3.88" height="9" fill="#2b8b8c"/>
<rect x="58.97" y="322.3" width="3.88" height="9" fill="#62bb6c"/>
<rect x="61.84" y="322.3" width="3.88" height="9" fill="#2b8b8c"/>
<rect x="64.72" y="322.3" width="3.88" height="9" fill="#3d5a8c"/>
<rect x="67.6" y="322.3" width="3.88" height="9" fill="#2b8b8c"/>
<rect x="70.48" y="322.3" width="3.88" height="9" fill="#62bb6c"/>
<rect x="73.36" y="322.3" width="6.76" height="9" fill="#2b8b8c"/>
<rect x="79.12" y="322.3" width="6.76" height="9" fill="#3d5a8c"/>
<rect x="84.87" y="322.3" width="6.76" height="9" fill="#2b8b8c"/>
<rect x="90.63" y="322.3" width="6.76" height="9" fill="#3d5a8c"/>
<rect x="96.39" y="322.3" width="3.88" height="9" fill="#2b8b8c"/>
<rect x="99.27" y="322.3" width="6.76" height="9" fill="#3d5a8c"/>
<rect x="105.03" y="322.3" width="6.76" height="9" fill="#472d6e"/>
<rect x="110.78" y="322.3" width="6.76" height="9" fill="#3d5a8c"/>
<rect x="116.54" y="322.3" width="9.64" height="9" fill="#472d6e"/>
<rect x="125.18" y="322.3" width="12.51" height="9" fill="#efdf30"/>
<rect x="136.69" y="322.3" width="3.88" height="9" fill="#bad35a"/>
<rect x="139.57" y="322.3" width="3.88" height="9" fill="#2b8b8c"/>
<rect x="142.45" y="322.3" width="3.88" height="9" fill="#62bb6c"/>
<rect x="145.33" y="322.3" width="6.76" height="9" fill="#2b8b8c"/>
<rect x="151.09" y="322.3" width="6.76" height="9" fill="#bad35a"/>
<rect x="156.84" y="322.3" width="3.88" height="9" fill="#efdf30"/>
<rect x="159.72" y="322.3" width="2.88" height="9" fill="#3d5a8c"/>
<rect x="27.3" y="330.3" width="3.88" height="9" fill="#472d6e"/>
<rect x="30.18" y="330.3" width="3.88" height="9" fill="#bad35a"/>
<rect x="33.06" y="330.3" width="6.76" height="9" fill="#2b8b8c"/>
<rect x="38.81" y="330.3" width="3.88" height="9" fill="#472d6e"/>
<rect x="41.69" y="330.3" width="9.64" height="9" fill="#2b8b8c"/>
<rect x="50.33" y="330.3" width="3.88" height="9" fill="#efdf30"/>
<rect x="53.21" y="330.3" width="6.76" height="9" fill="#2b8b8c"/>
<rect x="58.97" y="330.3" width="3.88" height="9" fill="#472d6e"/>
<rect x="61.84" y="330.3" width="3.88" height="9" fill="#3d5a8c"/>
<rect x="64.72" y="330.3" width="3.88" height="9" fill="#2b8b8c"/>
<rect x="67.6" y="330.3" width="3.88" height="9" fill="#62bb6c"/>
<rect x="70.48" y="330.3" width="3.88" height="9" fill="#2b8b8c"/>
<rect x="73.36" y="330.3" width="6.76" height="9" fill="#472d6e"/>
<rect x="79.12" y="330.3" width="6.76" height="9" fill="#3d5a8c"/>
<rect x="84.87" y="330.3" width="15.39" height="9" fill="#2b8b8c"/>
<rect x="99.27" y="330.3" width="3.88" height="9" fill="#3d5a8c"/>
<rect x="102.15" y="330.3" width="3.88" height="9" fill="#2b8b8c"/>
<rect x="105.03" y="330.3" width="6.76" height="9" fill="#62bb6c"/>
<rect x="110.78" y="330.3" width="3.88" height="9" fill="#bad35a"/>
<rect x="113.66" y="330.3" width="6.76" height="9" fill="#3d5a8c"/>
<rect x="119.42" y="330.3" width="3.88" height="9" fill="#472d6e"/>
<rect x="122.3" y="330.3" width="3.88" height="9" fill="#3d5a8c"/>
<rect x="125.18" y="330.3" width="3.88" height="9" fill="#efdf30"/>
<rect x="128.06" y="330.3" width="6.76" height="9" fill="#bad35a"/>
<rect x="133.81" y="330.3" width="3.88" height="9" fill="#efdf30"/>
<rect x="136.69" y="330.3" width="3.88" height="9" fill="#bad35a"/>
<rect x="139.57" y="330.3" width="3.88" height="9" fill="#3d5a8c"/>
<rect x="142.45" y="330.3" width="3.88" height="9" fill="#2b8b8c"/>
<rect x="145.33" y="330.3" width="3.88" height="9" fill="#62bb6c"/>
<rect x="148.21" y="330.3" width="3.88" height="9" fill="#472d6e"/>
<rect x="151.09" y="330.3" width="3.88" height="9" fill="#bad35a"/>
<rect x="153.96" y="330.3" width="3.88" height="9" fill="#2b8b8c"/>
<rect x="156.84" y="330.3" width="3.88" height="9" fill="#bad35a"/>
<rect x="159.72" y="330.3" width="2.88" height="9" fill="#3d5a8c"/>
<rect x="27.3" y="338.3" width="3.88" height="9" fill="#3d5a8c"/>
<rect x="30.18" y="338.3" width="21.15" height="9" fill="#2b8b8c"/>
<rect x="50.33" y="338.3" width="3.88" height="9" fill="#3d5a8c"/>
<rect x="53.21" y="338.3" width="6.76" height="9" fill="#2b8b8c"/>
<rect x="58.97" y="338.3" width="6.76" height="9" fill="#bad35a"/>
<rect x="64.72" y="338.3" width="26.91" height="9" fill="#2b8b8c"/>
<rect x="90.63" y="338.3" width="3.88" height="9" fill="#3d5a8c"/>
<rect x="93.51" y="338.3" width="9.64" height="9" fill="#2b8b8c"/>
<rect x="102.15" y="338.3" width="6.76" height="9" fill="#3d5a8c"/>
<rect x="107.9" y="338.3" width="21.15" height="9" fill="#2b8b8c"/>
<rect x="128.06" y="338.3" width="3.88" height="9" fill="#3d5a8c"/>
<rect x="130.93" y="338.3" width="15.39" height="9" fill="#2b8b8c"/>
<rect x="145.33" y="338.3" width="6.76" height="9" fill="#bad35a"/>
<rect x="151.09" y="338.3" width="9.64" height="9" fill="#efdf30"/>
<rect x="159.72" y="338.3" width="2.88" height="9" fill="#3d5a8c"/>
<rect x="27.3" y="346.3" width="3.88" height="9" fill="#efdf30"/>
<rect x="30.18" y="346.3" width="3.88" height="9" fill="#3d5a8c"/>
<rect x="33.06" y="346.3" width="3.88" height="9" fill="#2b8b8c"/>
<rect x="35.94" y="346.3" width="12.51" height="9" fill="#3d5a8c"/>
<rect x="47.45" y="346.3" width="3.88" height="9" fill="#2b8b8c"/>
<rect x="50.33" y="346.3" width="3.88" height="9" fill="#3d5a8c"/>
<rect x="53.21" y="346.3" width="3.88" height="9" fill="#62bb6c"/>
<rect x="56.09" y="346.3" width="12.51" height="9" fill="#3d5a8c"/>
<rect x="67.6" y="346.3" width="3.88" height="9" fill="#472d6e"/>
<rect x="70.48" y="346.3" width="3.88" height="9" fill="#2b8b8c"/>
<rect x="73.36" y="346.3" width="12.51" height="9" fill="#bad35a"/>
<rect x="84.87" y="346.3" width="3.88" height="9" fill="#62bb6c"/>
<rect x="87.75" y="346.3" width="6.76" height="9" fill="#2b8b8c"/>
<rect x="93.51" y="346.3" width="3.88" height="9" fill="#62bb6c"/>
<rect x="96.39" y="346.3" width="6.76" height="9" fill="#2b8b8c"/>
<rect x="102.15" y="346.3" width="15.39" height="9" fill="#bad35a"/>
<rect x="116.54" y="346.3" width="3.88" height="9" fill="#2b8b8c"/>
<rect x="119.42" y="346.3" width="3.88" height="9" fill="#bad35a"/>
<rect x="122.3" y="346.3" width="9.64" height="9" fill="#2b8b8c"/>
<rect x="130.93" y="346.3" width="9.64" height="9" fill="#3d5a8c"/>
<rect x="139.57" y="346.3" width="6.76" height="9" fill="#2b8b8c"/>
<rect x="145.33" y="346.3" width="3.88" height="9" fill="#3d5a8c"/>
<rect x="148.21" y="346.3" width="6.76" height="9" fill="#472d6e"/>
<rect x="153.96" y="346.3" width="8.64" height="9" fill="#3d5a8c"/>
<rect x="27.3" y="354.3" width="3.88" height="9" fill="#2b8b8c"/>
<rect x="30.18" y="354.3" width="3.88" height="9" fill="#3d5a8c"/>
<rect x="33.06" y="354.3" width="3.88" height="9" fill="#472d6e"/>
<rect x="35.94" y="354.3" width="12.51" height="9" fill="#3d5a8c"/>
<rect x="47.45" y="354.3" width="3.88" height="9" fill="#2b8b8c"/>
<rect x="50.33" y="354.3" width="3.88" height="9" fill="#bad35a"/>
<rect x="53.21" y="354.3" width="21.15" height="9" fill="#2b8b8c"/>
<rect x="73.36" y="354.3" width="21.15" height="9" fill="#efdf30"/>
<rect x="93.51" y="354.3" width="3.88" height="9" fill="#2b8b8c"/>
<rect x="96.39" y="354.3" width="6.76" height="9" fill="#bad35a"/>
<rect x="102.15" y="354.3" width="3.88" height="9" fill="#2b8b8c"/>
<rect x="105.03" y="354.3" width="3.88" height="9" fill="#3d5a8c"/>
<rect x="107.9" y="354.3" width="6.76" height="9" fill="#bad35a"/>
<rect x="113.66" y="354.3" width="3.88" height="9" fill="#efdf30"/>
<rect x="116.54" y="354.3" width="6.76" height="9" fill="#bad35a"/>
<rect x="122.3" y="354.3" width="6.76" height="9" fill="#3d5a8c"/>
<rect x="128.06" y="354.3" width="6.76" height="9" fill="#472d6e"/>
<rect x="133.81" y="354.3" width="6.76" height="9" fill="#3d5a8c"/>
<rect x="139.57" y="354.3" width="12.51" height="9" fill="#2b8b8c"/>
<rect x="151.09" y="354.3" width="3.88" height="9" fill="#3d5a8c"/>
<rect x="153.96" y="354.3" width="3.88" height="9" fill="#2b8b8c"/>
<rect x="156.84" y="354.3" width="3.88" height="9" fill="#472d6e"/>
<rect x="159.72" y="354.3" width="2.88" height="9" fill="#3d5a8c"/>
<rect x="27.3" y="362.3" width="3.88" height="9" fill="#2b8b8c"/>
<rect x="30.18" y="362.3" width="12.51" height="9" fill="#efdf30"/>
<rect x="41.69" y="362.3" width="3.88" height="9" fill="#2b8b8c"/>
<rect x="44.57" y="362.3" width="3.88" height="9" fill="#62bb6c"/>
<rect x="47.45" y="362.3" width="3.88" height="9" fill="#2b8b8c"/>
<rect x="50.33" y="362.3" width="3.88" height="9" fill="#bad35a"/>
<rect x="53.21" y="362.3" width="6.76" height="9" fill="#2b8b8c"/>
<rect x="58.97" y="362.3" width="6.76" height="9" fill="#62bb6c"/>
<rect x="64.72" y="362.3" width="3.88" height="9" fill="#2b8b8c"/>
<rect x="67.6" y="362.3" width="3.88" height="9" fill="#3d5a8c"/>
<rect x="70.48" y="362.3" width="3.88" height="9" fill="#2b8b8c"/>
<rect x="73.36" y="362.3" width="3.88" height="9" fill="#62bb6c"/>
<rect x="76.24" y="362.3" width="6.76" height="9" fill="#2b8b8c"/>
<rect x="82" y="362.3" width="3.88" height="9" fill="#62bb6c"/>
<rect x="84.87" y="362.3" width="3.88" height="9" fill="#2b8b8c"/>
<rect x="87.75" y="362.3" width="3.88" height="9" fill="#3d5a8c"/>
<rect x="90.63" y="362.3" width="3.88" height="9" fill="#2b8b8c"/>
<rect x="93.51" y="362.3" width="12.51" height="9" fill="#3d5a8c"/>
<rect x="105.03" y="362.3" width="3.88" height="9" fill="#472d6e"/>
<rect x="107.9" y="362.3" width="6.76" height="9" fill="#3d5a8c"/>
<rect x="113.66" y="362.3" width="3.88" height="9" fill="#2b8b8c"/>
<rect x="116.54" y="362.3" width="3.88" height="9" fill="#3d5a8c"/>
<rect x="119.42" y="362.3" width="6.76" height="9" fill="#2b8b8c"/>
<rect x="125.18" y="362.3" width="3.88" height="9" fill="#3d5a8c"/>
<rect x="128.06" y="362.3" width="6.76" height="9" fill="#2b8b8c"/>
<rect x="133.81" y="362.3" width="3.88" height="9" fill="#3d5a8c"/>
<rect x="136.69" y="362.3" width="9.64" height="9" fill="#2b8b8c"/>
<rect x="145.33" y="362.3" width="6.76" height="9" fill="#bad35a"/>
<rect x="151.09" y="362.3" width="3.88" height="9" fill="#2b8b8c"/>
<rect x="153.96" y="362.3" width="3.88" height="9" fill="#3d5a8c"/>
<rect x="156.84" y="362.3" width="3.88" height="9" fill="#472d6e"/>
<rect x="159.72" y="362.3" width="2.88" height="9" fill="#2b8b8c"/>
<rect x="27.3" y="370.3" width="6.76" height="9" fill="#efdf30"/>
<rect x="33.06" y="370.3" width="6.76" height="9" fill="#bad35a"/>
<rect x="38.81" y="370.3" width="3.88" height="9" fill="#472d6e"/>
<rect x="41.69" y="370.3" width="3.88" height="9" fill="#2b8b8c"/>
<rect x="44.57" y="370.3" width="6.76" height="9" fill="#3d5a8c"/>
<rect x="50.33" y="370.3" width="6.76" height="9" fill="#2b8b8c"/>
<rect x="56.09" y="370.3" width="3.88" height="9" fill="#3d5a8c"/>
<rect x="58.97" y="370.3" width="3.88" height="9" fill="#efdf30"/>
<rect x="61.84" y="370.3" width="6.76" height="9" fill="#2b8b8c"/>
<rect x="67.6" y="370.3" width="3.88" height="9" fill="#bad35a"/>
<rect x="70.48" y="370.3" width="3.88" height="9" fill="#2b8b8c"/>
<rect x="73.36" y="370.3" width="3.88" height="9" fill="#bad35a"/>
<rect x="76.24" y="370.3" width="3.88" height="9" fill="#62bb6c"/>
<rect x="79.12" y="370.3" width="3.88" height="9" fill="#2b8b8c"/>
<rect x="82" y="370.3" width="3.88" height="9" fill="#bad35a"/>
<rect x="84.87" y="370.3" width="9.64" height="9" fill="#2b8b8c"/>
<rect x="93.51" y="370.3" width="3.88" height="9" fill="#62bb6c"/>
<rect x="96.39" y="370.3" width="6.76" height="9" fill="#2b8b8c"/>
<rect x="102.15" y="370.3" width="9.64" height="9" fill="#472d6e"/>
<rect x="110.78" y="370.3" width="3.88" height="9" fill="#3d5a8c"/>
<rect x="113.66" y="370.3" width="3.88" height="9" fill="#472d6e"/>
<rect x="116.54" y="370.3" width="3.88" height="9" fill="#3d5a8c"/>
<rect x="119.42" y="370.3" width="3.88" height="9" fill="#472d6e"/>
<rect x="122.3" y="370.3" width="3.88" height="9" fill="#3d5a8c"/>
<rect x="125.18" y="370.3" width="9.64" height="9" fill="#2b8b8c"/>
<rect x="133.81" y="370.3" width="3.88" height="9" fill="#472d6e"/>
<rect x="136.69" y="370.3" width="3.88" height="9" fill="#3d5a8c"/>
<rect x="139.57" y="370.3" width="6.76" height="9" fill="#2b8b8c"/>
<rect x="145.33" y="370.3" width="3.88" height="9" fill="#efdf30"/>
<rect x="148.21" y="370.3" width="3.88" height="9" fill="#2b8b8c"/>
<rect x="151.09" y="370.3" width="6.76" height="9" fill="#3d5a8c"/>
<rect x="156.84" y="370.3" width="3.88" height="9" fill="#472d6e"/>
<rect x="159.72" y="370.3" width="2.88" height="9" fill="#bad35a"/>
<rect x="27.3" y="378.3" width="6.76" height="9" fill="#efdf30"/>
<rect x="33.06" y="378.3" width="3.88" height="9" fill="#2b8b8c"/>
<rect x="35.94" y="378.3" width="3.88" height="9" fill="#bad35a"/>
<rect x="38.81" y="378.3" width="3.88" height="9" fill="#3d5a8c"/>
<rect x="41.69" y="378.3" width="3.88" height="9" fill="#2b8b8c"/>
<rect x="44.57" y="378.3" width="3.88" height="9" fill="#62bb6c"/>
<rect x="47.45" y="378.3" width="3.88" height="9" fill="#3d5a8c"/>
<rect x="50.33" y="378.3" width="6.76" height="9" fill="#2b8b8c"/>
<rect x="56.09" y="378.3" width="3.88" height="9" fill="#472d6e"/>
<rect x="58.97" y="378.3" width="3.88" height="9" fill="#62bb6c"/>
<rect x="61.84" y="378.3" width="6.76" height="9" fill="#2b8b8c"/>
<rect x="67.6" y="378.3" width="3.88" height="9" fill="#472d6e"/>
<rect x="70.48" y="378.3" width="3.88" height="9" fill="#2b8b8c"/>
<rect x="73.36" y="378.3" width="3.88" height="9" fill="#efdf30"/>
<rect x="76.24" y="378.3" width="6.76" height="9" fill="#bad35a"/>
<rect x="82" y="378.3" width="3.88" height="9" fill="#2b8b8c"/>
<rect x="84.87" y="378.3" width="6.76" height="9" fill="#3d5a8c"/>
<rect x="90.63" y="378.3" width="3.88" height="9" fill="#2b8b8c"/>
<rect x="93.51" y="378.3" width="6.76" height="9" fill="#bad35a"/>
<rect x="99.27" y="378.3" width="3.88" height="9" fill="#3d5a8c"/>
<rect x="102.15" y="378.3" width="9.64" height="9" fill="#472d6e"/>
<rect x="110.78" y="378.3" width="6.76" height="9" fill="#3d5a8c"/>
<rect x="116.54" y="378.3" width="3.88" height="9" fill="#2b8b8c"/>
<rect x="119.42" y="378.3" width="3.88" height="9" fill="#472d6e"/>
<rect x="122.3" y="378.3" width="3.88" height="9" fill="#bad35a"/>
<rect x="125.18" y="378.3" width="6.76" height="9" fill="#2b8b8c"/>
<rect x="130.93" y="378.3" width="6.76" height="9" fill="#bad35a"/>
<rect x="136.69" y="378.3" width="3.88" height="9" fill="#2b8b8c"/>
<rect x="139.57" y="378.3" width="3.88" height="9" fill="#bad35a"/>
<rect x="142.45" y="378.3" width="9.64" height="9" fill="#2b8b8c"/>
<rect x="151.09" y="378.3" width="3.88" height="9" fill="#3d5a8c"/>
<rect x="153.96" y="378.3" width="3.88" height="9" fill="#2b8b8c"/>
<rect x="156.84" y="378.3" width="3.88" height="9" fill="#472d6e"/>
<rect x="159.72" y="378.3" width="2.88" height="9" fill="#3d5a8c"/>
<rect x="27.3" y="386.3" width="3.88" height="9" fill="#efdf30"/>
<rect x="30.18" y="386.3" width="6.76" height="9" fill="#2b8b8c"/>
<rect x="35.94" y="386.3" width="3.88" height="9" fill="#bad35a"/>
<rect x="38.81" y="386.3" width="3.88" height="9" fill="#3d5a8c"/>
<rect x="41.69" y="386.3" width="6.76" height="9" fill="#efdf30"/>
<rect x="47.45" y="386.3" width="3.88" height="9" fill="#2b8b8c"/>
<rect x="50.33" y="386.3" width="3.88" height="9" fill="#62bb6c"/>
<rect x="53.21" y="386.3" width="9.64" height="9" fill="#2b8b8c"/>
<rect x="61.84" y="386.3" width="3.88" height="9" fill="#bad35a"/>
<rect x="64.72" y="386.3" width="3.88" height="9" fill="#efdf30"/>
<rect x="67.6" y="386.3" width="3.88" height="9" fill="#2b8b8c"/>
<rect x="70.48" y="386.3" width="3.88" height="9" fill="#62bb6c"/>
<rect x="73.36" y="386.3" width="6.76" height="9" fill="#2b8b8c"/>
<rect x="79.12" y="386.3" width="6.76" height="9" fill="#3d5a8c"/>
<rect x="84.87" y="386.3" width="3.88" height="9" fill="#2b8b8c"/>
<rect x="87.75" y="386.3" width="3.88" height="9" fill="#3d5a8c"/>
<rect x="90.63" y="386.3" width="6.76" height="9" fill="#2b8b8c"/>
<rect x="96.39" y="386.3" width="3.88" height="9" fill="#62bb6c"/>
<rect x="99.27" y="386.3" width="3.88" height="9" fill="#bad35a"/>
<rect x="102.15" y="386.3" width="3.88" height="9" fill="#3d5a8c"/>
<rect x="105.03" y="386.3" width="6.76" height="9" fill="#472d6e"/>
<rect x="110.78" y="386.3" width="6.76" height="9" fill="#3d5a8c"/>
<rect x="116.54" y="386.3" width="6.76" height="9" fill="#472d6e"/>
<rect x="122.3" y="386.3" width="24.03" height="9" fill="#2b8b8c"/>
<rect x="145.33" y="386.3" width="3.88" height="9" fill="#62bb6c"/>
<rect x="148.21" y="386.3" width="14.39" height="9" fill="#2b8b8c"/>
<rect x="27.3" y="394.3" width="32.67" height="8" fill="#2b8b8c"/>
<rect x="58.97" y="394.3" width="9.64" height="8" fill="#efdf30"/>
<rect x="67.6" y="394.3" width="26.91" height="8" fill="#2b8b8c"/>
<rect x="93.51" y="394.3" width="6.76" height="8" fill="#62bb6c"/>
<rect x="99.27" y="394.3" width="63.33" height="8" fill="#2b8b8c"/>
<rect x="26.9" y="265.9" width="136.1" height="136.8" fill="none" stroke="#222" stroke-width="0.8"/>
<rect x="165.9" y="266.3" width="6.4" height="8.05" fill="#3f55a5"/>
<rect x="165.9" y="274.3" width="6.4" height="8.05" fill="#3aa845"/>
<rect x="165.9" y="282.3" width="6.4" height="8.05" fill="#3aa845"/>
<rect x="165.9" y="290.3" width="6.4" height="8.05" fill="#3aa845"/>
<rect x="165.9" y="298.3" width="6.4" height="8.05" fill="#3f55a5"/>
<rect x="165.9" y="306.3" width="6.4" height="8.05" fill="#3aa845"/>
<rect x="165.9" y="314.3" width="6.4" height="8.05" fill="#3f55a5"/>
<rect x="165.9" y="322.3" width="6.4" height="8.05" fill="#3aa845"/>
<rect x="165.9" y="330.3" width="6.4" height="8.05" fill="#3f55a5"/>
<rect x="165.9" y="338.3" width="6.4" height="8.05" fill="#3f55a5"/>
<rect x="165.9" y="346.3" width="6.4" height="8.05" fill="#3f55a5"/>
<rect x="165.9" y="354.3" width="6.4" height="8.05" fill="#3f55a5"/>
<rect x="165.9" y="362.3" width="6.4" height="8.05" fill="#3aa845"/>
<rect x="165.9" y="370.3" width="6.4" height="8.05" fill="#3aa845"/>
<rect x="165.9" y="378.3" width="6.4" height="8.05" fill="#3aa845"/>
<rect x="165.9" y="386.3" width="6.4" height="8.05" fill="#3aa845"/>
<rect x="165.9" y="394.3" width="6.4" height="8.05" fill="#3f55a5"/>
<rect x="165.5" y="265.9" width="7.2" height="136.8" fill="none" stroke="#222" stroke-width="0.8"/>
<text x="176.2" y="272.6" font-size="6.5">CD27</text>
<text x="176.2" y="280.6" font-size="6.5">TBX21</text>
<text x="176.2" y="288.6" font-size="6.5">TNFRSF1B</text>
<text x="176.2" y="296.6" font-size="6.5">ITGAX (CD11c)</text>
<text x="176.2" y="304.6" font-size="6.5">TFRC (CD71)</text>
<text x="176.2" y="312.6" font-size="6.5">ITGB2 (CD18)</text>
<text x="176.2" y="320.6" font-size="6.5">LTB</text>
<text x="176.2" y="328.6" font-size="6.5">CD72</text>
<text x="176.2" y="336.6" font-size="6.5">SELL (CD62L)</text>
<text x="176.2" y="344.6" font-size="6.5">FCER2 (CD23a)</text>
<text x="176.2" y="352.6" font-size="6.5">ITGAM (CD11b)</text>
<text x="176.2" y="360.6" font-size="6.5">CD24</text>
<text x="176.2" y="368.6" font-size="6.5">FCRL5</text>
<text x="176.2" y="376.6" font-size="6.5">FCRL3</text>
<text x="176.2" y="384.6" font-size="6.5">FCRL2</text>
<text x="176.2" y="392.6" font-size="6.5">ENC1</text>
<text x="176.2" y="400.6" font-size="6.5">CR2 (CD21)</text>
<defs><linearGradient id="vir" x1="0" x2="1" y1="0" y2="0"><stop offset="0" stop-color="#3f1d5e"/><stop offset="0.12" stop-color="#45286e"/><stop offset="0.25" stop-color="#3e4c8a"/><stop offset="0.5" stop-color="#25878d"/><stop offset="0.75" stop-color="#6cc063"/><stop offset="1" stop-color="#f6e620"/></linearGradient></defs>
<rect x="64.5" y="414.2" width="62" height="12.3" fill="url(#vir)"/>
<line x1="66.5" y1="414.2" x2="66.5" y2="416.2" stroke="#fff" stroke-width="0.6"/>
<line x1="66.5" y1="424.5" x2="66.5" y2="426.5" stroke="#fff" stroke-width="0.6"/>
<text x="66.5" y="435.6" font-size="6.6" text-anchor="middle">−2</text>
<line x1="80.8" y1="414.2" x2="80.8" y2="416.2" stroke="#fff" stroke-width="0.6"/>
<line x1="80.8" y1="424.5" x2="80.8" y2="426.5" stroke="#fff" stroke-width="0.6"/>
<text x="80.8" y="435.6" font-size="6.6" text-anchor="middle">−1</text>
<line x1="95.5" y1="414.2" x2="95.5" y2="416.2" stroke="#fff" stroke-width="0.6"/>
<line x1="95.5" y1="424.5" x2="95.5" y2="426.5" stroke="#fff" stroke-width="0.6"/>
<text x="95.5" y="435.6" font-size="6.6" text-anchor="middle">0</text>
<line x1="109.9" y1="414.2" x2="109.9" y2="416.2" stroke="#fff" stroke-width="0.6"/>
<line x1="109.9" y1="424.5" x2="109.9" y2="426.5" stroke="#fff" stroke-width="0.6"/>
<text x="109.9" y="435.6" font-size="6.6" text-anchor="middle">1</text>
<line x1="124.4" y1="414.2" x2="124.4" y2="416.2" stroke="#fff" stroke-width="0.6"/>
<line x1="124.4" y1="424.5" x2="124.4" y2="426.5" stroke="#fff" stroke-width="0.6"/>
<text x="124.4" y="435.6" font-size="6.6" text-anchor="middle">2</text>
<text x="95.2" y="409.8" font-size="6.5" text-anchor="middle">z score</text>
<text x="232.4" y="234.8" font-size="6.5">Type</text>
<rect x="232.4" y="239.6" width="5.4" height="5.4" fill="#1aa0b6"/>
<text x="241" y="244.5" font-size="6.5">CLL</text>
<rect x="232.4" y="250" width="5.4" height="5.4" fill="#686868"/>
<text x="241" y="254.9" font-size="6.5">non-tumor</text>
<text x="232.4" y="267.8" font-size="6.5">B-cell subset</text>
<rect x="232.4" y="272.9" width="5.4" height="5.4" fill="#141414"/>
<text x="241" y="277.8" font-size="6.5">CD5<tspan font-size="4.4" dy="-2.3">+</tspan><tspan dy="2.3"> B cell</tspan></text>
<rect x="232.4" y="283.2" width="5.4" height="5.4" fill="#6b2a0c"/>
<text x="241" y="288.1" font-size="6.5">naive</text>
<rect x="232.4" y="293.4" width="5.4" height="5.4" fill="#f6b374"/>
<text x="241" y="298.3" font-size="6.5">IgM only</text>
<rect x="232.4" y="303.5" width="5.4" height="5.4" fill="#a8174e"/>
<text x="241" y="308.4" font-size="6.5">IgM<tspan font-size="4.4" dy="-2.3">+</tspan><tspan dy="2.3"> IgD</tspan><tspan font-size="4.4" dy="-2.3">+</tspan><tspan dy="2.3"> CD27</tspan><tspan font-size="4.4" dy="-2.3">+</tspan></text>
<rect x="232.4" y="313.5" width="5.4" height="5.4" fill="#b8733c"/>
<text x="241" y="318.4" font-size="6.5">sMGZ</text>
<rect x="232.4" y="323.6" width="5.4" height="5.4" fill="#e31a1c"/>
<text x="241" y="328.5" font-size="6.5">cs memory</text>
<rect x="232.4" y="333.6" width="5.4" height="5.4" fill="#f4e01e"/>
<text x="241" y="338.5" font-size="6.5">U-CLL</text>
<rect x="232.4" y="343.6" width="5.4" height="5.4" fill="#f2801a"/>
<text x="241" y="348.5" font-size="6.5">M-CLL</text>
<text x="232.4" y="361.3" font-size="6.5">hABC_expr</text>
<rect x="232.4" y="366.8" width="5.4" height="5.4" fill="#3aa845"/>
<text x="241" y="371.7" font-size="6.5">high</text>
<rect x="232.4" y="377.1" width="5.4" height="5.4" fill="#3f55a5"/>
<text x="241" y="382" font-size="6.5">low</text>
<text x="312" y="195.2" font-size="11.5" font-weight="bold" fill="#111">F</text>
<text x="418.3" y="205.4" font-size="8.5" text-anchor="middle" font-style="italic">Beekman et al.</text>
<text x="373.3" y="220.2" font-size="6.3" text-anchor="middle">−47730 Kb</text>
<text x="417.8" y="220.2" font-size="6.3" text-anchor="middle">chr17</text>
<text x="460.8" y="220.2" font-size="6.3" text-anchor="middle">−47749.3 Kb</text>
<text x="418.3" y="236.6" font-size="6.3" text-anchor="middle">TBX21</text>
<line x1="376" y1="241.8" x2="463" y2="241.8" stroke="#474747" stroke-width="1.8"/>
<rect x="373.7" y="237.6" width="5.3" height="8.6" fill="#474747" rx="1.2"/>
<rect x="438.9" y="237.6" width="1.7" height="8.6" fill="#474747"/>
<rect x="441.8" y="237.6" width="1.8" height="8.6" fill="#474747"/>
<rect x="449.6" y="237.6" width="5.6" height="8.6" fill="#474747"/>
<rect x="455.6" y="237.6" width="5.4" height="8.6" fill="#474747"/>
<rect x="461" y="239.3" width="2.8" height="5.2" fill="#474747"/>
<path d="M350.6,271.6 L352,271.35 L352.7,271.39 L353.4,271.31 L354.1,271.38 L354.8,271.34 L355.5,271.31 L356.2,271.27 L356.9,271.46 L357.6,271.27 L358.3,271.45 L359,271.37 L359.7,271.29 L360.4,271.45 L361.1,271.26 L361.8,271.39 L362.5,271.37 L363.2,271.4 L363.9,271.44 L364.6,271.29 L365.3,271.36 L366,271.27 L366.7,271.36 L367.4,271.25 L368.1,271.28 L368.8,271.23 L369.5,271.38 L370.2,271.45 L370.9,270.77 L371.6,264.98 L372.3,259.19 L373,253.4 L373.7,259.19 L374.4,264.98 L375.1,270.77 L375.8,271.28 L376.5,271.31 L377.2,271.25 L377.9,271.32 L378.6,271.26 L379.3,271.42 L380,271.27 L380.7,271.25 L381.4,271.44 L382.1,271.4 L382.8,271.31 L383.5,271.24 L384.2,270.57 L384.9,269.55 L385.6,270.28 L386.3,271.3 L387,271.36 L387.7,271.37 L388.4,269.36 L389.1,266.75 L389.8,264.15 L390.5,265.26 L391.2,267.87 L391.9,270.48 L392.6,271.24 L393.3,271.39 L394,271.37 L394.7,271.28 L395.4,271.4 L396.1,271.38 L396.8,271.25 L397.5,271.24 L398.2,271.34 L398.9,271.37 L399.6,271.24 L400.3,271.45 L401,271.23 L401.7,270.85 L402.4,271.31 L403.1,271.46 L403.8,271.27 L404.5,271.34 L405.2,271.34 L405.9,271.34 L406.6,271.33 L407.3,271.44 L408,271.25 L408.7,271.25 L409.4,271.26 L410.1,271.39 L410.8,271.39 L411.5,271.38 L412.2,271.37 L412.9,271.37 L413.6,271.38 L414.3,271.27 L415,271.43 L415.7,271.43 L416.4,271.41 L417.1,271.39 L417.8,271.31 L418.5,271.39 L419.2,271.23 L419.9,271.27 L420.6,271.3 L421.3,271.23 L422,271.29 L422.7,271.46 L423.4,271.24 L424.1,271.36 L424.8,271.31 L425.5,271.46 L426.2,271.28 L426.9,271.33 L427.6,271.43 L428.3,271.37 L429,271.27 L429.7,271.45 L430.4,271.24 L431.1,271.34 L431.8,271.42 L432.5,271.47 L433.2,271.29 L433.9,271.29 L434.6,271.34 L435.3,271.37 L436,271.4 L436.7,271.34 L437.4,271.32 L438.1,271.47 L438.8,271 L439.5,270.3 L440.2,270 L440.9,270.7 L441.6,271.35 L442.3,271.24 L443,271.33 L443.7,271.31 L444.4,271.46 L445.1,271.43 L445.8,271.46 L446.5,271.3 L447.2,271.28 L447.9,271.23 L448.6,271.47 L449.3,271.35 L450,271.45 L450.7,271.37 L451.4,271.29 L452.1,271.35 L452.8,271.37 L453.5,271.24 L454.2,271.29 L454.9,271.36 L455.6,271.43 L456.3,271.33 L457,271.46 L457.7,271.25 L458.4,271.44 L459.1,271.34 L459.8,271.44 L460.5,271.32 L461.2,271.36 L461.9,271.27 L462.6,271.33 L463.3,271.36 L464,271.3 L464.7,271.37 L465.4,271.39 L466.1,271.35 L466.8,271.46 L467.5,271.42 L468.2,271.44 L468.9,271.4 L469.6,271.34 L470.3,271.26 L471,271.47 L471.7,271.42 L472.4,271.35 L473.1,271.24 L473.8,271.38 L474.5,271.3 L475.2,271.46 L475.9,271.28 L476.6,271.3 L477.3,271.26 L478,271.28 L478.7,271.33 L479.4,271.4 L480.1,271.37 L480.8,271.43 L481.5,271.31 L482.2,271.34 L482.9,271.42 L483.6,271.44 L484.3,271.24 L485,271.3 L486,271.6 Z" fill="#8c0d0d"/>
<line x1="350.3" y1="271.6" x2="486.3" y2="271.6" stroke="#8c0d0d" stroke-width="0.9"/>
<path d="M350.6,297.9 L352,297.69 L352.7,297.65 L353.4,297.6 L354.1,297.79 L354.8,297.74 L355.5,297.78 L356.2,297.77 L356.9,297.77 L357.6,297.72 L358.3,297.71 L359,297.66 L359.7,297.72 L360.4,297.73 L361.1,297.69 L361.8,297.69 L362.5,297.65 L363.2,297.6 L363.9,297.73 L364.6,297.62 L365.3,297.75 L366,297.71 L366.7,297.67 L367.4,297.69 L368.1,297.67 L368.8,297.6 L369.5,297.65 L370.2,297.74 L370.9,297.8 L371.6,295.65 L372.3,293.03 L373,290.4 L373.7,293.02 L374.4,295.65 L375.1,297.67 L375.8,297.72 L376.5,297.69 L377.2,297.68 L377.9,297.67 L378.6,297.64 L379.3,297.65 L380,297.74 L380.7,297.7 L381.4,297.68 L382.1,297.61 L382.8,297.8 L383.5,297.74 L384.2,297.7 L384.9,297.7 L385.6,297.78 L386.3,297.71 L387,297.62 L387.7,297.72 L388.4,297.64 L389.1,296.75 L389.8,295.86 L390.5,296.24 L391.2,297.13 L391.9,297.78 L392.6,297.73 L393.3,297.76 L394,297.7 L394.7,297.76 L395.4,297.66 L396.1,297.76 L396.8,297.6 L397.5,297.73 L398.2,297.74 L398.9,297.74 L399.6,297.77 L400.3,297.79 L401,297.8 L401.7,297.64 L402.4,297.74 L403.1,297.75 L403.8,297.79 L404.5,297.72 L405.2,297.69 L405.9,297.8 L406.6,297.79 L407.3,297.75 L408,297.72 L408.7,297.76 L409.4,297.64 L410.1,297.65 L410.8,297.64 L411.5,297.62 L412.2,297.7 L412.9,297.67 L413.6,297.76 L414.3,297.65 L415,297.78 L415.7,297.7 L416.4,297.69 L417.1,297.7 L417.8,297.64 L418.5,297.62 L419.2,297.69 L419.9,297.65 L420.6,297.61 L421.3,297.67 L422,297.8 L422.7,297.62 L423.4,297.68 L424.1,297.74 L424.8,297.62 L425.5,297.77 L426.2,297.65 L426.9,297.62 L427.6,297.75 L428.3,297.8 L429,297.79 L429.7,297.68 L430.4,297.67 L431.1,297.66 L431.8,297.69 L432.5,297.7 L433.2,297.71 L433.9,297.7 L434.6,297.77 L435.3,297.69 L436,297.64 L436.7,297.62 L437.4,297.62 L438.1,297.78 L438.8,297.77 L439.5,297.43 L440.2,297.23 L440.9,297.68 L441.6,297.67 L442.3,297.69 L443,297.65 L443.7,297.75 L444.4,297.79 L445.1,297.66 L445.8,297.69 L446.5,297.78 L447.2,297.71 L447.9,297.62 L448.6,297.73 L449.3,297.74 L450,297.65 L450.7,297.69 L451.4,297.64 L452.1,297.74 L452.8,297.77 L453.5,297.79 L454.2,297.72 L454.9,297.72 L455.6,297.67 L456.3,297.72 L457,297.67 L457.7,297.63 L458.4,297.7 L459.1,297.61 L459.8,297.61 L460.5,297.77 L461.2,297.69 L461.9,297.68 L462.6,297.68 L463.3,297.77 L464,297.63 L464.7,297.75 L465.4,297.63 L466.1,297.72 L466.8,297.69 L467.5,297.73 L468.2,297.8 L468.9,297.68 L469.6,297.79 L470.3,297.8 L471,297.66 L471.7,297.78 L472.4,297.74 L473.1,297.65 L473.8,297.66 L474.5,297.63 L475.2,297.61 L475.9,297.62 L476.6,297.79 L477.3,297.74 L478,297.65 L478.7,297.61 L479.4,297.71 L480.1,297.63 L480.8,297.79 L481.5,297.79 L482.2,297.74 L482.9,297.66 L483.6,297.61 L484.3,297.66 L485,297.76 L486,297.9 Z" fill="#8c0d0d"/>
<line x1="350.3" y1="297.9" x2="486.3" y2="297.9" stroke="#8c0d0d" stroke-width="0.9"/>
<path d="M350.6,330.5 L352,329.68 L352.6,329.63 L353.2,329.61 L353.8,329.56 L354.4,329.63 L355,329.57 L355.6,329.89 L356.2,329.73 L356.8,329.56 L357.4,329.67 L358,329.58 L358.6,329.86 L359.2,329.73 L359.8,329.81 L360.4,329.7 L361,329.69 L361.6,329.9 L362.2,329.82 L362.8,329.8 L363.4,329.57 L364,329.62 L364.6,329.84 L365.2,329.61 L365.8,329.85 L366.4,329.68 L367,329.85 L367.6,329.9 L368.2,329.59 L368.8,329.82 L369.4,329.82 L370,330.5 L370.6,329.5 L371.2,328.81 L371.8,327.43 L372.4,325.89 L373,323.24 L373.6,322.09 L374.2,316.16 L374.8,312.88 L375.4,311.2 L376,313.36 L376.6,317.53 L377.2,318.42 L377.8,320.24 L378.4,321.38 L379,321.22 L379.6,319.72 L380.2,318.54 L380.8,321.65 L381.4,320.81 L382,321.62 L382.6,321.32 L383.2,319.43 L383.8,320.16 L384.4,320.39 L385,319.56 L385.6,319.67 L386.2,322.35 L386.8,320.45 L387.4,323.3 L388,321.9 L388.6,321.01 L389.2,322.63 L389.8,320.94 L390.4,323.4 L391,324.36 L391.6,325.04 L392.2,324.62 L392.8,324.71 L393.4,324.59 L394,326.86 L394.6,326.52 L395.2,326.66 L395.8,326.99 L396.4,327.33 L397,326.87 L397.6,326.19 L398.2,325.35 L398.8,326.35 L399.4,326.09 L400,326.69 L400.6,327.09 L401.2,328.22 L401.8,327.98 L402.4,328.93 L403,329.2 L403.6,329.53 L404.2,329.07 L404.8,329.59 L405.4,329.07 L406,329.41 L406.6,329.62 L407.2,329.61 L407.8,329.74 L408.4,329.83 L409,329.77 L409.6,329.28 L410.2,329 L410.8,329.75 L411.4,329.86 L412,329.01 L412.6,329.42 L413.2,329.53 L413.8,329.69 L414.4,329.37 L415,329.16 L415.6,329.49 L416.2,329.52 L416.8,329.85 L417.4,329.08 L418,329.87 L418.6,329.46 L419.2,329.15 L419.8,329.78 L420.4,329.24 L421,329.05 L421.6,329.33 L422.2,329.19 L422.8,329.8 L423.4,329.51 L424,329.77 L424.6,329.14 L425.2,329.63 L425.8,329.49 L426.4,329 L427,329.13 L427.6,329.02 L428.2,329.49 L428.8,329.46 L429.4,329.24 L430,329.47 L430.6,329.64 L431.2,329.54 L431.8,329.77 L432.4,329.56 L433,329.01 L433.6,329.04 L434.2,329.34 L434.8,329.45 L435.4,329.6 L436,329.82 L436.6,329.65 L437.2,329.2 L437.8,329.12 L438.4,329.57 L439,329.19 L439.6,329.2 L440.2,329.27 L440.8,329.3 L441.4,329.22 L442,329.57 L442.6,329.27 L443.2,329.65 L443.8,329.46 L444.4,329.21 L445,329.28 L445.6,329.64 L446.2,329.05 L446.8,329.32 L447.4,329.38 L448,329.89 L448.6,329.41 L449.2,329.67 L449.8,329.3 L450.4,329.48 L451,329.16 L451.6,329.32 L452.2,329.18 L452.8,329.59 L453.4,329.32 L454,329.24 L454.6,329.15 L455.2,329.58 L455.8,329.14 L456.4,329.12 L457,329.28 L457.6,329.02 L458.2,329.04 L458.8,329.43 L459.4,329.42 L460,329.75 L460.6,329.15 L461.2,329.06 L461.8,329.47 L462.4,329.28 L463,329.25 L463.6,329.24 L464.2,329.75 L464.8,329.2 L465.4,329.38 L466,329.3 L466.6,329.52 L467.2,329.34 L467.8,329.2 L468.4,329.33 L469,329.25 L469.6,329.88 L470.2,329.84 L470.8,329.74 L471.4,329.67 L472,329.82 L472.6,329.65 L473.2,329.67 L473.8,329.88 L474.4,329.73 L475,329.82 L475.6,329.88 L476.2,329.85 L476.8,329.79 L477.4,329.83 L478,329.83 L478.6,329.89 L479.2,329.73 L479.8,329.76 L480.4,329.68 L481,329.69 L481.6,329.81 L482.2,329.57 L482.8,329.9 L483.4,329.75 L484,329.8 L484.6,329.75 L486,330.5 Z" fill="#f39419"/>
<line x1="350.3" y1="330.5" x2="486.3" y2="330.5" stroke="#f39419" stroke-width="1"/>
<path d="M350.6,356.4 L352,356.07 L352.8,355.85 L353.6,355.99 L354.4,356.09 L355.2,355.92 L356,356.07 L356.8,355.94 L357.6,356 L358.4,355.93 L359.2,355.81 L360,355.85 L360.8,355.97 L361.6,355.86 L362.4,355.91 L363.2,355.99 L364,356.06 L364.8,355.92 L365.6,355.93 L366.4,355.81 L367.2,355.81 L368,355.92 L368.8,355.99 L369.6,355.83 L370.4,356.1 L371.2,355.34 L372,354.9 L372.8,354.85 L373.6,355.3 L374.4,354.84 L375.2,354.58 L376,355.08 L376.8,355.03 L377.6,355.22 L378.4,355.16 L379.2,354.51 L380,355.99 L380.8,355.81 L381.6,355.83 L382.4,355.92 L383.2,355.57 L384,355.09 L384.8,355.41 L385.6,355.47 L386.4,355.53 L387.2,355.09 L388,355.42 L388.8,355.55 L389.6,355.43 L390.4,355.66 L391.2,355.33 L392,355.45 L392.8,355.55 L393.6,355.22 L394.4,355.19 L395.2,355.73 L396,355.94 L396.8,356.02 L397.6,355.82 L398.4,355.87 L399.2,356.03 L400,356.02 L400.8,356.05 L401.6,355.8 L402.4,356.01 L403.2,355.92 L404,355.96 L404.8,355.91 L405.6,355.92 L406.4,355.88 L407.2,356.06 L408,355.87 L408.8,356.01 L409.6,355.94 L410.4,356 L411.2,356.01 L412,355.94 L412.8,355.96 L413.6,355.99 L414.4,355.88 L415.2,355.92 L416,356.09 L416.8,356.02 L417.6,355.96 L418.4,355.83 L419.2,355.83 L420,355.94 L420.8,356.1 L421.6,355.87 L422.4,355.97 L423.2,355.93 L424,355.89 L424.8,355.91 L425.6,355.96 L426.4,355.83 L427.2,355.98 L428,355.98 L428.8,355.84 L429.6,356.04 L430.4,356.01 L431.2,355.85 L432,356.08 L432.8,355.85 L433.6,355.89 L434.4,355.97 L435.2,356.01 L436,355.87 L436.8,355.83 L437.6,356.06 L438.4,355.96 L439.2,355.94 L440,355.95 L440.8,356 L441.6,356.05 L442.4,355.92 L443.2,355.86 L444,356.08 L444.8,356.03 L445.6,355.85 L446.4,355.86 L447.2,355.9 L448,356.09 L448.8,355.88 L449.6,355.81 L450.4,355.8 L451.2,355.89 L452,356.09 L452.8,355.85 L453.6,356.03 L454.4,355.91 L455.2,355.81 L456,355.89 L456.8,356.06 L457.6,356.01 L458.4,355.82 L459.2,356.06 L460,355.92 L460.8,355.98 L461.6,356.05 L462.4,355.91 L463.2,356.09 L464,356.07 L464.8,355.99 L465.6,356.08 L466.4,356.08 L467.2,355.93 L468,355.88 L468.8,355.84 L469.6,356.06 L470.4,355.97 L471.2,356.01 L472,355.92 L472.8,355.95 L473.6,355.82 L474.4,355.99 L475.2,356.08 L476,355.89 L476.8,356.05 L477.6,355.91 L478.4,355.95 L479.2,355.83 L480,355.93 L480.8,355.91 L481.6,356.02 L482.4,355.93 L483.2,356.02 L484,355.87 L484.8,355.94 L486,356.4 Z" fill="#f39419"/>
<line x1="350.3" y1="356.4" x2="486.3" y2="356.4" stroke="#f39419" stroke-width="1"/>
<path d="M350.6,389.8 L352,389.59 L352.35,389.64 L352.7,389.51 L353.05,389.66 L353.4,389.54 L353.75,389.58 L354.1,389.66 L354.45,389.55 L354.8,389.67 L355.15,389.57 L355.5,389.66 L355.85,389.65 L356.2,389.57 L356.55,389.47 L356.9,389.64 L357.25,389.62 L357.6,389.52 L357.95,389.44 L358.3,389.53 L358.65,389.58 L359,389.43 L359.35,389.66 L359.7,389.46 L360.05,389.6 L360.4,389.64 L360.75,389.65 L361.1,389.6 L361.45,389.47 L361.8,389.63 L362.15,389.53 L362.5,389.52 L362.85,389.58 L363.2,389.54 L363.55,389.66 L363.9,389.66 L364.25,389.62 L364.6,389.5 L364.95,389.57 L365.3,389.6 L365.65,389.53 L366,389.56 L366.35,389.6 L366.7,389.48 L367.05,389.5 L367.4,389.61 L367.75,389.53 L368.1,389.54 L368.45,389.46 L368.8,389.49 L369.15,389.6 L369.5,389.43 L369.85,389.65 L370.2,389.57 L370.55,389.49 L370.9,389.64 L371.25,389.55 L371.6,389.67 L371.95,389.51 L372.3,389.48 L372.65,389.53 L373,389.46 L373.35,389.6 L373.7,388.13 L374.05,388.27 L374.4,388.29 L374.75,388.46 L375.1,387.92 L375.45,387.78 L375.8,388.44 L376.15,388.17 L376.5,389.02 L376.85,388.12 L377.2,388.19 L377.55,387.4 L377.9,384.05 L378.25,380.7 L378.6,379.26 L378.95,382.61 L379.3,385.97 L379.65,388.45 L380,388.86 L380.35,388.94 L380.7,389.02 L381.05,388.02 L381.4,388.92 L381.75,388.75 L382.1,388.55 L382.45,387.88 L382.8,387.55 L383.15,387.36 L383.5,388.33 L383.85,387.86 L384.2,387.95 L384.55,387.89 L384.9,388.71 L385.25,388.52 L385.6,388.6 L385.95,387.86 L386.3,387.76 L386.65,388.89 L387,388.85 L387.35,388.78 L387.7,387.92 L388.05,386.99 L388.4,388.28 L388.75,388.73 L389.1,389.09 L389.45,388.51 L389.8,388.58 L390.15,388.31 L390.5,387.77 L390.85,388.13 L391.2,388.38 L391.55,388.24 L391.9,388.15 L392.25,389.02 L392.6,387.84 L392.95,387.17 L393.3,387.88 L393.65,387.98 L394,388.55 L394.35,388.54 L394.7,388.96 L395.05,388.21 L395.4,389.01 L395.75,389.01 L396.1,388.81 L396.45,388.86 L396.8,387.55 L397.15,387.36 L397.5,388.68 L397.85,388.89 L398.2,388.96 L398.55,388.59 L398.9,389.06 L399.25,387.88 L399.6,388.24 L399.95,388.89 L400.3,388.75 L400.65,388.34 L401,387.2 L401.35,388.34 L401.7,387.91 L402.05,387.71 L402.4,388.45 L402.75,388.42 L403.1,388.98 L403.45,388.96 L403.8,388.62 L404.15,388.73 L404.5,387.94 L404.85,388.87 L405.2,389.07 L405.55,387.77 L405.9,388.36 L406.25,388.89 L406.6,388.34 L406.95,389.06 L407.3,388.36 L407.65,387.73 L408,387.89 L408.35,388.13 L408.7,388.73 L409.05,388.59 L409.4,388.87 L409.75,388.02 L410.1,387.88 L410.45,388.01 L410.8,388.64 L411.15,388.79 L411.5,387.96 L411.85,387.72 L412.2,387.91 L412.55,387.97 L412.9,387.95 L413.25,388.06 L413.6,388.78 L413.95,388.38 L414.3,388.6 L414.65,389.06 L415,389.06 L415.35,388.71 L415.7,388.3 L416.05,387.55 L416.4,387.76 L416.75,388.47 L417.1,387.79 L417.45,387.72 L417.8,387.76 L418.15,388.59 L418.5,388.79 L418.85,388.78 L419.2,388.82 L419.55,388.81 L419.9,388.23 L420.25,387.84 L420.6,387.92 L420.95,388.43 L421.3,388.19 L421.65,387.98 L422,388.98 L422.35,388.18 L422.7,387.83 L423.05,387.93 L423.4,388.05 L423.75,388.43 L424.1,388.85 L424.45,388 L424.8,388.63 L425.15,387.98 L425.5,387.74 L425.85,388.55 L426.2,388.54 L426.55,387.77 L426.9,388.09 L427.25,388.86 L427.6,388.92 L427.95,388.89 L428.3,387.83 L428.65,387.97 L429,388.9 L429.35,387.94 L429.7,387.73 L430.05,388.18 L430.4,388.61 L430.75,388.33 L431.1,388.92 L431.45,389.08 L431.8,387.74 L432.15,388.19 L432.5,388.36 L432.85,387.79 L433.2,388.49 L433.55,387.88 L433.9,387.94 L434.25,388.8 L434.6,388.75 L434.95,388.69 L435.3,388.76 L435.65,388.28 L436,389.61 L436.35,389.57 L436.7,389.64 L437.05,389.45 L437.4,389.59 L437.75,389.56 L438.1,388.17 L438.45,387.69 L438.8,383.13 L439.15,378.47 L439.5,381.8 L439.85,386.47 L440.2,388.26 L440.55,385.97 L440.9,380.6 L441.25,376.77 L441.6,382.13 L441.95,385.83 L442.3,380.27 L442.65,376.29 L443,381.86 L443.35,387.42 L443.7,388.56 L444.05,388.27 L444.4,388.22 L444.75,387.87 L445.1,388.89 L445.45,388.21 L445.8,388.68 L446.15,388.63 L446.5,387.89 L446.85,388.29 L447.2,388.21 L447.55,387.91 L447.9,387.68 L448.25,388.39 L448.6,388.13 L448.95,383.27 L449.3,376.73 L449.65,375.8 L450,382.33 L450.35,385.16 L450.7,378.66 L451.05,381.44 L451.4,383.37 L451.75,375.86 L452.1,372.64 L452.45,380.15 L452.8,383.37 L453.15,375.87 L453.5,381.23 L453.85,374.55 L454.2,375.57 L454.55,382.68 L454.9,377.8 L455.25,380.8 L455.6,380.47 L455.95,373.93 L456.3,378.6 L456.65,382.8 L457,375.8 L457.35,382.8 L457.7,378.27 L458.05,373.46 L458.4,380.19 L458.75,380.8 L459.1,377.8 L459.45,383.27 L459.8,376.73 L460.15,375.8 L460.5,382.33 L460.85,379.59 L461.2,380.51 L461.55,382.4 L461.9,376.64 L462.25,379.11 L462.6,384.87 L462.95,384.66 L463.3,382.94 L463.65,386.94 L464,388.22 L464.35,388.39 L464.7,389.02 L465.05,389.59 L465.4,389.52 L465.75,389.55 L466.1,389.66 L466.45,389.43 L466.8,389.48 L467.15,389.43 L467.5,389.65 L467.85,389.61 L468.2,389.67 L468.55,389.48 L468.9,389.61 L469.25,389.64 L469.6,389.57 L469.95,389.45 L470.3,389.47 L470.65,389.61 L471,389.64 L471.35,389.45 L471.7,389.53 L472.05,389.5 L472.4,389.65 L472.75,389.66 L473.1,389.5 L473.45,389.57 L473.8,389.66 L474.15,389.44 L474.5,389.52 L474.85,389.47 L475.2,389.65 L475.55,389.46 L475.9,389.66 L476.25,389.46 L476.6,389.56 L476.95,389.59 L477.3,389.54 L477.65,389.44 L478,389.61 L478.35,389.64 L478.7,389.54 L479.05,389.62 L479.4,389.65 L479.75,389.63 L480.1,389.66 L480.45,389.62 L480.8,389.6 L481.15,389.6 L481.5,389.49 L481.85,389.6 L482.2,389.55 L482.55,389.63 L482.9,389.59 L483.25,389.67 L483.6,389.61 L483.95,389.67 L484.3,389.49 L484.65,389.54 L486,389.8 Z" fill="#5fba62"/>
<line x1="350.3" y1="389.8" x2="486.3" y2="389.8" stroke="#5fba62" stroke-width="0.9"/>
<path d="M350.6,415.4 L352,415.21 L352.6,415.23 L353.2,415.27 L353.8,415.13 L354.4,415.3 L355,415.2 L355.6,415.12 L356.2,415.28 L356.8,415.19 L357.4,415.18 L358,415.29 L358.6,415.22 L359.2,415.16 L359.8,415.21 L360.4,415.15 L361,415.27 L361.6,415.25 L362.2,415.28 L362.8,415.2 L363.4,415.12 L364,415.18 L364.6,415.15 L365.2,415.22 L365.8,415.15 L366.4,415.28 L367,415.24 L367.6,415.17 L368.2,415.15 L368.8,415.22 L369.4,415.28 L370,415.25 L370.6,415.26 L371.2,415.24 L371.8,415.14 L372.4,415.26 L373,415.12 L373.6,414.02 L374.2,414.85 L374.8,414.52 L375.4,414.41 L376,414.88 L376.6,414.48 L377.2,413.99 L377.8,414.79 L378.4,414.3 L379,414.78 L379.6,414.32 L380.2,414 L380.8,414.7 L381.4,414.89 L382,414.82 L382.6,414.36 L383.2,414.88 L383.8,414.82 L384.4,414.4 L385,413.98 L385.6,414.48 L386.2,414.5 L386.8,414.26 L387.4,414.81 L388,414.32 L388.6,414.73 L389.2,414.29 L389.8,413.94 L390.4,414.85 L391,414.34 L391.6,414.29 L392.2,414.75 L392.8,414.63 L393.4,413.91 L394,413.9 L394.6,414.78 L395.2,414.19 L395.8,413.95 L396.4,414.66 L397,414.29 L397.6,414.86 L398.2,414.53 L398.8,414.23 L399.4,414.31 L400,414.13 L400.6,414.81 L401.2,414.55 L401.8,414.04 L402.4,414.32 L403,414.45 L403.6,414.5 L404.2,413.91 L404.8,414.33 L405.4,414.88 L406,414.1 L406.6,414.57 L407.2,414.47 L407.8,414.69 L408.4,414.46 L409,414.58 L409.6,414.81 L410.2,414.27 L410.8,414.8 L411.4,414.12 L412,414.87 L412.6,414.12 L413.2,414.09 L413.8,414.4 L414.4,414.19 L415,414.65 L415.6,414.16 L416.2,414.47 L416.8,414.67 L417.4,413.94 L418,414.5 L418.6,414.53 L419.2,414.04 L419.8,414.53 L420.4,414.23 L421,414.73 L421.6,414.06 L422.2,414.64 L422.8,414.85 L423.4,413.92 L424,414.73 L424.6,413.95 L425.2,413.91 L425.8,414.29 L426.4,414.89 L427,414.84 L427.6,414.69 L428.2,414.51 L428.8,414.29 L429.4,413.93 L430,414.55 L430.6,414.76 L431.2,414.34 L431.8,414.76 L432.4,414.81 L433,414.34 L433.6,414.2 L434.2,414.83 L434.8,414.45 L435.4,414.2 L436,415.15 L436.6,415.22 L437.2,415.12 L437.8,415.27 L438.4,413.94 L439,413.87 L439.6,413.74 L440.2,414.21 L440.8,414.68 L441.4,414.74 L442,414.17 L442.6,414.59 L443.2,414.04 L443.8,414.7 L444.4,413.86 L445,414.53 L445.6,414.78 L446.2,414.59 L446.8,414.25 L447.4,414.13 L448,414.33 L448.6,414.59 L449.2,414.22 L449.8,413.66 L450.4,414.16 L451,413.67 L451.6,414.77 L452.2,413.61 L452.8,413.73 L453.4,414.15 L454,414.17 L454.6,414.16 L455.2,413.71 L455.8,414.72 L456.4,414.03 L457,414.15 L457.6,414.44 L458.2,413.93 L458.8,413.94 L459.4,414.68 L460,413.96 L460.6,414.26 L461.2,414.21 L461.8,414.04 L462.4,414.74 L463,414.08 L463.6,414.35 L464.2,413.75 L464.8,414.52 L465.4,415.14 L466,415.15 L466.6,415.18 L467.2,415.12 L467.8,415.29 L468.4,415.18 L469,415.18 L469.6,415.16 L470.2,415.22 L470.8,415.29 L471.4,415.26 L472,415.18 L472.6,415.26 L473.2,415.29 L473.8,415.23 L474.4,415.21 L475,415.19 L475.6,415.29 L476.2,415.14 L476.8,415.23 L477.4,415.14 L478,415.3 L478.6,415.11 L479.2,415.18 L479.8,415.1 L480.4,415.1 L481,415.13 L481.6,415.28 L482.2,415.23 L482.8,415.25 L483.4,415.14 L484,415.26 L484.6,415.26 L486,415.4 Z" fill="#5fba62"/>
<text x="478.6" y="258.3" font-size="6.3" text-anchor="end" fill="#9b2a2a">CLL</text>
<text x="464.5" y="288.4" font-size="6.3" text-anchor="end" fill="#9b2a2a">HC B cells</text>
<text x="478.6" y="317" font-size="6.3" text-anchor="end" fill="#f0922a">CLL</text>
<text x="464.5" y="345.9" font-size="6.3" text-anchor="end" fill="#f0922a">HC B cells</text>
<text x="478.6" y="376.6" font-size="6.3" text-anchor="end" fill="#6dbf6f">CLL</text>
<text x="464.5" y="403.6" font-size="6.3" text-anchor="end" fill="#6dbf6f">HC B cells</text>
<line x1="347" y1="253.1" x2="350.3" y2="253.1" stroke="#333" stroke-width="0.9"/>
<text x="345.2" y="255.5" font-size="6.8" text-anchor="end">217</text>
<line x1="347" y1="271.6" x2="350.3" y2="271.6" stroke="#8c0d0d" stroke-width="0.9"/>
<text x="345.2" y="274" font-size="6.8" text-anchor="end">0</text>
<line x1="347" y1="279.4" x2="350.3" y2="279.4" stroke="#333" stroke-width="0.9"/>
<text x="345.2" y="281.8" font-size="6.8" text-anchor="end">217</text>
<line x1="347" y1="297.9" x2="350.3" y2="297.9" stroke="#8c0d0d" stroke-width="0.9"/>
<text x="345.2" y="300.3" font-size="6.8" text-anchor="end">0</text>
<line x1="347" y1="312.5" x2="350.3" y2="312.5" stroke="#333" stroke-width="0.9"/>
<text x="345.2" y="314.9" font-size="6.8" text-anchor="end">37</text>
<line x1="347" y1="330.5" x2="350.3" y2="330.5" stroke="#f39419" stroke-width="0.9"/>
<text x="345.2" y="332.9" font-size="6.8" text-anchor="end">0</text>
<line x1="347" y1="338.7" x2="350.3" y2="338.7" stroke="#333" stroke-width="0.9"/>
<text x="345.2" y="341.1" font-size="6.8" text-anchor="end">37</text>
<line x1="347" y1="356.4" x2="350.3" y2="356.4" stroke="#f39419" stroke-width="0.9"/>
<text x="345.2" y="358.8" font-size="6.8" text-anchor="end">0</text>
<line x1="347" y1="371.4" x2="350.3" y2="371.4" stroke="#333" stroke-width="0.9"/>
<text x="345.2" y="373.8" font-size="6.8" text-anchor="end">0.42</text>
<line x1="347" y1="389.8" x2="350.3" y2="389.8" stroke="#5fba62" stroke-width="0.9"/>
<text x="345.2" y="392.2" font-size="6.8" text-anchor="end">0</text>
<line x1="347" y1="396.6" x2="350.3" y2="396.6" stroke="#333" stroke-width="0.9"/>
<text x="345.2" y="399" font-size="6.8" text-anchor="end">0.42</text>
<line x1="347" y1="415.4" x2="350.3" y2="415.4" stroke="#333" stroke-width="0.9"/>
<text x="345.2" y="417.8" font-size="6.8" text-anchor="end">0</text>
<rect x="350.3" y="209.9" width="136" height="205.6" fill="none" stroke="#222" stroke-width="0.9"/>
<text x="327.8" y="275.7" font-size="7.6" text-anchor="middle" fill="#9b2a2a" transform="rotate(-90 327.8 275.7)">ATAC-seq</text>
<text x="328.4" y="333.1" font-size="7.6" text-anchor="middle" fill="#f0922a" transform="rotate(-90 328.4 333.1)">H3K27ac</text>
<text x="328.4" y="393.3" font-size="7.6" text-anchor="middle" fill="#6dbf6f" transform="rotate(-90 328.4 393.3)">RNA-seq</text>
<text x="7.6" y="462.4" font-size="11.5" font-weight="bold" fill="#111">E</text>
<text x="255.5" y="460.6" font-size="8.8" text-anchor="middle" font-style="italic">ICGC-CLL</text>
<text x="72.9" y="502.3" font-size="6.4">FDR</text>
<line x1="72.2" y1="510" x2="78.8" y2="510" stroke="#5ea548" stroke-width="1"/>
<circle cx="75.5" cy="510" r="1.75" fill="#5ea548"/>
<text x="82.7" y="512.3" font-size="6.4">≤ 0.05</text>
<line x1="108" y1="510" x2="114.6" y2="510" stroke="#4572b4" stroke-width="1"/>
<circle cx="111.3" cy="510" r="1.75" fill="#4572b4"/>
<text x="118.5" y="512.3" font-size="6.4">0.05-0.1</text>
<line x1="72.2" y1="520" x2="78.8" y2="520" stroke="#e8782a" stroke-width="1"/>
<circle cx="75.5" cy="520" r="1.75" fill="#e8782a"/>
<text x="82.7" y="522.3" font-size="6.4">0.1-0.3</text>
<line x1="108" y1="520" x2="114.6" y2="520" stroke="#34501c" stroke-width="1"/>
<circle cx="111.3" cy="520" r="1.75" fill="#34501c"/>
<text x="118.5" y="522.3" font-size="6.4">0.5-1</text>
<line x1="72.2" y1="530" x2="78.8" y2="530" stroke="#111111" stroke-width="1"/>
<circle cx="75.5" cy="530" r="1.75" fill="#111111"/>
<text x="82.7" y="532.3" font-size="6.4">0.3-0.5</text>
<rect x="165.4" y="504.6" width="16.1" height="6.8" fill="#d9efed"/>
<rect x="181.5" y="504.6" width="13.1" height="6.8" fill="#e6eff5"/>
<rect x="194.6" y="504.6" width="13.1" height="6.8" fill="#f7e6dc"/>
<rect x="207.7" y="504.6" width="5.7" height="6.8" fill="#f3f1e6"/>
<line x1="181.5" y1="504.6" x2="181.5" y2="511.4" stroke="#7a9a9a" stroke-width="0.5"/>
<line x1="207.7" y1="504.6" x2="207.7" y2="511.4" stroke="#a0a890" stroke-width="0.5"/>
<line x1="194.6" y1="504.6" x2="194.6" y2="511.4" stroke="#444" stroke-width="0.6"/>
<rect x="165.4" y="504.6" width="48" height="6.8" fill="none" stroke="#333" stroke-width="0.8"/>
<line x1="187.5" y1="508.4" x2="201.8" y2="508.4" stroke="#111" stroke-width="0.8"/>
<path d="M185.8,508.4 L188.6,506.9 L188.6,509.9 Z" fill="#111"/>
<path d="M203.4,508.4 L200.6,506.9 L200.6,509.9 Z" fill="#111"/>
<circle cx="194.6" cy="508.4" r="1.3" fill="#111"/>
<text x="177.5" y="502.2" font-size="6.4" text-anchor="middle">negative</text>
<text x="205.6" y="502.2" font-size="6.4" text-anchor="middle">positive</text>
<text x="168.4" y="522.8" font-size="6.4" text-anchor="middle">−2</text>
<text x="181.5" y="522.8" font-size="6.4" text-anchor="middle">−1</text>
<text x="194.6" y="522.8" font-size="6.4" text-anchor="middle">0</text>
<text x="207.7" y="522.8" font-size="6.4" text-anchor="middle">1</text>
<text x="189.8" y="531.2" font-size="6.4" text-anchor="middle">Association with <tspan font-style="italic">TBX21</tspan></text>
<rect x="80.5" y="549.2" width="15.1" height="135.2" fill="#e4f3f2"/>
<rect x="95.6" y="549.2" width="13.3" height="135.2" fill="#e8f0f7"/>
<rect x="108.9" y="549.2" width="13.3" height="135.2" fill="#fbeee1"/>
<rect x="122.2" y="549.2" width="8.05" height="135.2" fill="#fcf5e6"/>
<line x1="82.3" y1="549.2" x2="82.3" y2="685.9" stroke="#8ec9c9" stroke-width="0.9"/>
<line x1="95.6" y1="549.2" x2="95.6" y2="685.9" stroke="#8ec9c9" stroke-width="0.9"/>
<line x1="122.2" y1="549.2" x2="122.2" y2="685.9" stroke="#a9c3a6" stroke-width="0.9"/>
<line x1="108.9" y1="549.2" x2="108.9" y2="685.9" stroke="#e0454a" stroke-width="1.2"/>
<text x="81.4" y="693.4" font-size="6.5" text-anchor="middle">−2</text>
<text x="94.7" y="693.4" font-size="6.5" text-anchor="middle">−1</text>
<text x="108.9" y="693.4" font-size="6.5" text-anchor="middle">0</text>
<text x="122.2" y="693.4" font-size="6.5" text-anchor="middle">1</text>
<text x="103.05" y="546" font-size="6.4" text-anchor="middle">Whole</text>
<rect x="130.25" y="549.2" width="15.1" height="135.2" fill="#e4f3f2"/>
<rect x="145.35" y="549.2" width="13.3" height="135.2" fill="#e8f0f7"/>
<rect x="158.65" y="549.2" width="13.3" height="135.2" fill="#fbeee1"/>
<rect x="171.95" y="549.2" width="8.05" height="135.2" fill="#fcf5e6"/>
<line x1="132.05" y1="549.2" x2="132.05" y2="685.9" stroke="#8ec9c9" stroke-width="0.9"/>
<line x1="145.35" y1="549.2" x2="145.35" y2="685.9" stroke="#8ec9c9" stroke-width="0.9"/>
<line x1="171.95" y1="549.2" x2="171.95" y2="685.9" stroke="#a9c3a6" stroke-width="0.9"/>
<line x1="158.65" y1="549.2" x2="158.65" y2="685.9" stroke="#e0454a" stroke-width="1.2"/>
<text x="131.15" y="693.4" font-size="6.5" text-anchor="middle">−2</text>
<text x="144.45" y="693.4" font-size="6.5" text-anchor="middle">−1</text>
<text x="158.65" y="693.4" font-size="6.5" text-anchor="middle">0</text>
<text x="171.95" y="693.4" font-size="6.5" text-anchor="middle">1</text>
<text x="152" y="546" font-size="6.4" text-anchor="middle">U-CLL</text>
<rect x="180" y="549.2" width="15.1" height="135.2" fill="#e4f3f2"/>
<rect x="195.1" y="549.2" width="13.3" height="135.2" fill="#e8f0f7"/>
<rect x="208.4" y="549.2" width="13.3" height="135.2" fill="#fbeee1"/>
<rect x="221.7" y="549.2" width="8.05" height="135.2" fill="#fcf5e6"/>
<line x1="181.8" y1="549.2" x2="181.8" y2="685.9" stroke="#8ec9c9" stroke-width="0.9"/>
<line x1="195.1" y1="549.2" x2="195.1" y2="685.9" stroke="#8ec9c9" stroke-width="0.9"/>
<line x1="221.7" y1="549.2" x2="221.7" y2="685.9" stroke="#a9c3a6" stroke-width="0.9"/>
<line x1="208.4" y1="549.2" x2="208.4" y2="685.9" stroke="#e0454a" stroke-width="1.2"/>
<text x="180.9" y="693.4" font-size="6.5" text-anchor="middle">−2</text>
<text x="194.2" y="693.4" font-size="6.5" text-anchor="middle">−1</text>
<text x="208.4" y="693.4" font-size="6.5" text-anchor="middle">0</text>
<text x="221.7" y="693.4" font-size="6.5" text-anchor="middle">1</text>
<text x="201.75" y="546" font-size="6.4" text-anchor="middle">M-CLL</text>
<line x1="99.3" y1="555.1" x2="106.6" y2="555.1" stroke="#4572b4" stroke-width="0.8"/>
<line x1="99.3" y1="554.1" x2="99.3" y2="556.1" stroke="#4572b4" stroke-width="0.6"/>
<line x1="106.6" y1="554.1" x2="106.6" y2="556.1" stroke="#4572b4" stroke-width="0.6"/>
<circle cx="102.4" cy="555.1" r="1.6" fill="#4572b4"/>
<line x1="148" y1="555.1" x2="155.5" y2="555.1" stroke="#5ea548" stroke-width="0.8"/>
<line x1="148" y1="554.1" x2="148" y2="556.1" stroke="#5ea548" stroke-width="0.6"/>
<line x1="155.5" y1="554.1" x2="155.5" y2="556.1" stroke="#5ea548" stroke-width="0.6"/>
<circle cx="151.4" cy="555.1" r="1.6" fill="#5ea548"/>
<line x1="100.9" y1="563.93" x2="107" y2="563.93" stroke="#4572b4" stroke-width="0.8"/>
<line x1="100.9" y1="562.93" x2="100.9" y2="564.93" stroke="#4572b4" stroke-width="0.6"/>
<line x1="107" y1="562.93" x2="107" y2="564.93" stroke="#4572b4" stroke-width="0.6"/>
<circle cx="103.8" cy="563.93" r="1.6" fill="#4572b4"/>
<line x1="150" y1="563.93" x2="157" y2="563.93" stroke="#4572b4" stroke-width="0.8"/>
<line x1="150" y1="562.93" x2="150" y2="564.93" stroke="#4572b4" stroke-width="0.6"/>
<line x1="157" y1="562.93" x2="157" y2="564.93" stroke="#4572b4" stroke-width="0.6"/>
<circle cx="152.9" cy="563.93" r="1.6" fill="#4572b4"/>
<line x1="111.6" y1="572.76" x2="118.5" y2="572.76" stroke="#4572b4" stroke-width="0.8"/>
<line x1="111.6" y1="571.76" x2="111.6" y2="573.76" stroke="#4572b4" stroke-width="0.6"/>
<line x1="118.5" y1="571.76" x2="118.5" y2="573.76" stroke="#4572b4" stroke-width="0.6"/>
<circle cx="114.9" cy="572.76" r="1.6" fill="#4572b4"/>
<line x1="210.5" y1="572.76" x2="218.5" y2="572.76" stroke="#e8782a" stroke-width="0.8"/>
<line x1="210.5" y1="571.76" x2="210.5" y2="573.76" stroke="#e8782a" stroke-width="0.6"/>
<line x1="218.5" y1="571.76" x2="218.5" y2="573.76" stroke="#e8782a" stroke-width="0.6"/>
<circle cx="213.7" cy="572.76" r="1.6" fill="#e8782a"/>
<line x1="109" y1="581.59" x2="115" y2="581.59" stroke="#e8782a" stroke-width="0.8"/>
<line x1="109" y1="580.59" x2="109" y2="582.59" stroke="#e8782a" stroke-width="0.6"/>
<line x1="115" y1="580.59" x2="115" y2="582.59" stroke="#e8782a" stroke-width="0.6"/>
<circle cx="111.7" cy="581.59" r="1.6" fill="#e8782a"/>
<line x1="161" y1="581.59" x2="168" y2="581.59" stroke="#5ea548" stroke-width="0.8"/>
<line x1="161" y1="580.59" x2="161" y2="582.59" stroke="#5ea548" stroke-width="0.6"/>
<line x1="168" y1="580.59" x2="168" y2="582.59" stroke="#5ea548" stroke-width="0.6"/>
<circle cx="164.3" cy="581.59" r="1.6" fill="#5ea548"/>
<line x1="204.5" y1="581.59" x2="213" y2="581.59" stroke="#111111" stroke-width="0.8"/>
<line x1="204.5" y1="580.59" x2="204.5" y2="582.59" stroke="#111111" stroke-width="0.6"/>
<line x1="213" y1="580.59" x2="213" y2="582.59" stroke="#111111" stroke-width="0.6"/>
<circle cx="208.3" cy="581.59" r="1.6" fill="#111111"/>
<line x1="94.5" y1="590.42" x2="106" y2="590.42" stroke="#4572b4" stroke-width="0.8"/>
<line x1="94.5" y1="589.42" x2="94.5" y2="591.42" stroke="#4572b4" stroke-width="0.6"/>
<line x1="106" y1="589.42" x2="106" y2="591.42" stroke="#4572b4" stroke-width="0.6"/>
<circle cx="99.3" cy="590.42" r="1.6" fill="#4572b4"/>
<line x1="142" y1="590.42" x2="155" y2="590.42" stroke="#4572b4" stroke-width="0.8"/>
<line x1="142" y1="589.42" x2="142" y2="591.42" stroke="#4572b4" stroke-width="0.6"/>
<line x1="155" y1="589.42" x2="155" y2="591.42" stroke="#4572b4" stroke-width="0.6"/>
<circle cx="147.9" cy="590.42" r="1.6" fill="#4572b4"/>
<line x1="93.5" y1="599.25" x2="107" y2="599.25" stroke="#4572b4" stroke-width="0.8"/>
<line x1="93.5" y1="598.25" x2="93.5" y2="600.25" stroke="#4572b4" stroke-width="0.6"/>
<line x1="107" y1="598.25" x2="107" y2="600.25" stroke="#4572b4" stroke-width="0.6"/>
<circle cx="99.3" cy="599.25" r="1.6" fill="#4572b4"/>
<line x1="192" y1="599.25" x2="205" y2="599.25" stroke="#e8782a" stroke-width="0.8"/>
<line x1="192" y1="598.25" x2="192" y2="600.25" stroke="#e8782a" stroke-width="0.6"/>
<line x1="205" y1="598.25" x2="205" y2="600.25" stroke="#e8782a" stroke-width="0.6"/>
<circle cx="198.1" cy="599.25" r="1.6" fill="#e8782a"/>
<line x1="99" y1="608.08" x2="107" y2="608.08" stroke="#4572b4" stroke-width="0.8"/>
<line x1="99" y1="607.08" x2="99" y2="609.08" stroke="#4572b4" stroke-width="0.6"/>
<line x1="107" y1="607.08" x2="107" y2="609.08" stroke="#4572b4" stroke-width="0.6"/>
<circle cx="102.7" cy="608.08" r="1.6" fill="#4572b4"/>
<line x1="142" y1="608.08" x2="159.5" y2="608.08" stroke="#111111" stroke-width="0.8"/>
<line x1="142" y1="607.08" x2="142" y2="609.08" stroke="#111111" stroke-width="0.6"/>
<line x1="159.5" y1="607.08" x2="159.5" y2="609.08" stroke="#111111" stroke-width="0.6"/>
<circle cx="150.8" cy="608.08" r="1.6" fill="#111111"/>
<line x1="199" y1="608.08" x2="207.5" y2="608.08" stroke="#e8782a" stroke-width="0.8"/>
<line x1="199" y1="607.08" x2="199" y2="609.08" stroke="#e8782a" stroke-width="0.6"/>
<line x1="207.5" y1="607.08" x2="207.5" y2="609.08" stroke="#e8782a" stroke-width="0.6"/>
<circle cx="202.4" cy="608.08" r="1.6" fill="#e8782a"/>
<line x1="101.5" y1="616.91" x2="108" y2="616.91" stroke="#e8782a" stroke-width="0.8"/>
<line x1="101.5" y1="615.91" x2="101.5" y2="617.91" stroke="#e8782a" stroke-width="0.6"/>
<line x1="108" y1="615.91" x2="108" y2="617.91" stroke="#e8782a" stroke-width="0.6"/>
<circle cx="104.6" cy="616.91" r="1.6" fill="#e8782a"/>
<line x1="152.5" y1="616.91" x2="162" y2="616.91" stroke="#34501c" stroke-width="0.8"/>
<line x1="152.5" y1="615.91" x2="152.5" y2="617.91" stroke="#34501c" stroke-width="0.6"/>
<line x1="162" y1="615.91" x2="162" y2="617.91" stroke="#34501c" stroke-width="0.6"/>
<circle cx="156.5" cy="616.91" r="1.6" fill="#34501c"/>
<line x1="197.5" y1="616.91" x2="207.5" y2="616.91" stroke="#e8782a" stroke-width="0.8"/>
<line x1="197.5" y1="615.91" x2="197.5" y2="617.91" stroke="#e8782a" stroke-width="0.6"/>
<line x1="207.5" y1="615.91" x2="207.5" y2="617.91" stroke="#e8782a" stroke-width="0.6"/>
<circle cx="201.8" cy="616.91" r="1.6" fill="#e8782a"/>
<line x1="95.5" y1="625.74" x2="105" y2="625.74" stroke="#4572b4" stroke-width="0.8"/>
<line x1="95.5" y1="624.74" x2="95.5" y2="626.74" stroke="#4572b4" stroke-width="0.6"/>
<line x1="105" y1="624.74" x2="105" y2="626.74" stroke="#4572b4" stroke-width="0.6"/>
<circle cx="99.3" cy="625.74" r="1.6" fill="#4572b4"/>
<line x1="104" y1="634.57" x2="109" y2="634.57" stroke="#e8782a" stroke-width="0.8"/>
<line x1="104" y1="633.57" x2="104" y2="635.57" stroke="#e8782a" stroke-width="0.6"/>
<line x1="109" y1="633.57" x2="109" y2="635.57" stroke="#e8782a" stroke-width="0.6"/>
<circle cx="105.9" cy="634.57" r="1.6" fill="#e8782a"/>
<line x1="151" y1="634.57" x2="159.5" y2="634.57" stroke="#111111" stroke-width="0.8"/>
<line x1="151" y1="633.57" x2="151" y2="635.57" stroke="#111111" stroke-width="0.6"/>
<line x1="159.5" y1="633.57" x2="159.5" y2="635.57" stroke="#111111" stroke-width="0.6"/>
<circle cx="154.8" cy="634.57" r="1.6" fill="#111111"/>
<line x1="203" y1="634.57" x2="207" y2="634.57" stroke="#111111" stroke-width="0.8"/>
<line x1="203" y1="633.57" x2="203" y2="635.57" stroke="#111111" stroke-width="0.6"/>
<line x1="207" y1="633.57" x2="207" y2="635.57" stroke="#111111" stroke-width="0.6"/>
<circle cx="204.9" cy="634.57" r="1.6" fill="#111111"/>
<line x1="109" y1="643.4" x2="115.7" y2="643.4" stroke="#111111" stroke-width="0.8"/>
<line x1="109" y1="642.4" x2="109" y2="644.4" stroke="#111111" stroke-width="0.6"/>
<line x1="115.7" y1="642.4" x2="115.7" y2="644.4" stroke="#111111" stroke-width="0.6"/>
<circle cx="111.9" cy="643.4" r="1.6" fill="#111111"/>
<line x1="159" y1="643.4" x2="167.5" y2="643.4" stroke="#e8782a" stroke-width="0.8"/>
<line x1="159" y1="642.4" x2="159" y2="644.4" stroke="#e8782a" stroke-width="0.6"/>
<line x1="167.5" y1="642.4" x2="167.5" y2="644.4" stroke="#e8782a" stroke-width="0.6"/>
<circle cx="163.1" cy="643.4" r="1.6" fill="#e8782a"/>
<line x1="203" y1="643.4" x2="217" y2="643.4" stroke="#34501c" stroke-width="0.8"/>
<line x1="203" y1="642.4" x2="203" y2="644.4" stroke="#34501c" stroke-width="0.6"/>
<line x1="217" y1="642.4" x2="217" y2="644.4" stroke="#34501c" stroke-width="0.6"/>
<circle cx="209.4" cy="643.4" r="1.6" fill="#34501c"/>
<line x1="97.2" y1="652.23" x2="111.8" y2="652.23" stroke="#34501c" stroke-width="0.8"/>
<line x1="97.2" y1="651.23" x2="97.2" y2="653.23" stroke="#34501c" stroke-width="0.6"/>
<line x1="111.8" y1="651.23" x2="111.8" y2="653.23" stroke="#34501c" stroke-width="0.6"/>
<circle cx="103.9" cy="652.23" r="1.6" fill="#34501c"/>
<line x1="144" y1="652.23" x2="171.6" y2="652.23" stroke="#34501c" stroke-width="0.8"/>
<line x1="144" y1="651.23" x2="144" y2="653.23" stroke="#34501c" stroke-width="0.6"/>
<line x1="171.6" y1="651.23" x2="171.6" y2="653.23" stroke="#34501c" stroke-width="0.6"/>
<circle cx="157.3" cy="652.23" r="1.6" fill="#34501c"/>
<line x1="191.5" y1="652.23" x2="210.6" y2="652.23" stroke="#111111" stroke-width="0.8"/>
<line x1="191.5" y1="651.23" x2="191.5" y2="653.23" stroke="#111111" stroke-width="0.6"/>
<line x1="210.6" y1="651.23" x2="210.6" y2="653.23" stroke="#111111" stroke-width="0.6"/>
<circle cx="200.6" cy="652.23" r="1.6" fill="#111111"/>
<line x1="109.7" y1="661.06" x2="121.7" y2="661.06" stroke="#e8782a" stroke-width="0.8"/>
<line x1="109.7" y1="660.06" x2="109.7" y2="662.06" stroke="#e8782a" stroke-width="0.6"/>
<line x1="121.7" y1="660.06" x2="121.7" y2="662.06" stroke="#e8782a" stroke-width="0.6"/>
<circle cx="115.3" cy="661.06" r="1.6" fill="#e8782a"/>
<line x1="102" y1="669.89" x2="111" y2="669.89" stroke="#34501c" stroke-width="0.8"/>
<line x1="102" y1="668.89" x2="102" y2="670.89" stroke="#34501c" stroke-width="0.6"/>
<line x1="111" y1="668.89" x2="111" y2="670.89" stroke="#34501c" stroke-width="0.6"/>
<circle cx="105.9" cy="669.89" r="1.6" fill="#34501c"/>
<line x1="150" y1="669.89" x2="158" y2="669.89" stroke="#111111" stroke-width="0.8"/>
<line x1="150" y1="668.89" x2="150" y2="670.89" stroke="#111111" stroke-width="0.6"/>
<line x1="158" y1="668.89" x2="158" y2="670.89" stroke="#111111" stroke-width="0.6"/>
<circle cx="153.9" cy="669.89" r="1.6" fill="#111111"/>
<line x1="200" y1="669.89" x2="212" y2="669.89" stroke="#34501c" stroke-width="0.8"/>
<line x1="200" y1="668.89" x2="200" y2="670.89" stroke="#34501c" stroke-width="0.6"/>
<line x1="212" y1="668.89" x2="212" y2="670.89" stroke="#34501c" stroke-width="0.6"/>
<circle cx="205.3" cy="669.89" r="1.6" fill="#34501c"/>
<line x1="109" y1="678.72" x2="115" y2="678.72" stroke="#111111" stroke-width="0.8"/>
<line x1="109" y1="677.72" x2="109" y2="679.72" stroke="#111111" stroke-width="0.6"/>
<line x1="115" y1="677.72" x2="115" y2="679.72" stroke="#111111" stroke-width="0.6"/>
<circle cx="111.5" cy="678.72" r="1.6" fill="#111111"/>
<line x1="159" y1="678.72" x2="166" y2="678.72" stroke="#111111" stroke-width="0.8"/>
<line x1="159" y1="677.72" x2="159" y2="679.72" stroke="#111111" stroke-width="0.6"/>
<line x1="166" y1="677.72" x2="166" y2="679.72" stroke="#111111" stroke-width="0.6"/>
<circle cx="161.9" cy="678.72" r="1.6" fill="#111111"/>
<line x1="203" y1="678.72" x2="217.5" y2="678.72" stroke="#34501c" stroke-width="0.8"/>
<line x1="203" y1="677.72" x2="203" y2="679.72" stroke="#34501c" stroke-width="0.6"/>
<line x1="217.5" y1="677.72" x2="217.5" y2="679.72" stroke="#34501c" stroke-width="0.6"/>
<circle cx="209.9" cy="678.72" r="1.6" fill="#34501c"/>
<text x="153.5" y="704.6" font-size="6.8" text-anchor="middle">Point estimate</text>
<text x="76.7" y="557.3" font-size="6.4" text-anchor="end">Mutation_ATM</text>
<text x="76.7" y="566.13" font-size="6.4" text-anchor="end">gain_2p</text>
<text x="76.7" y="574.96" font-size="6.4" text-anchor="end">loss_7q11.23a</text>
<text x="76.7" y="583.79" font-size="6.4" text-anchor="end">tri_12</text>
<text x="76.7" y="592.62" font-size="6.4" text-anchor="end">loss_20p</text>
<text x="76.7" y="601.45" font-size="6.4" text-anchor="end">Mutation_MYD88</text>
<text x="76.7" y="610.28" font-size="6.4" text-anchor="end">Mutation_IGLV321.R110</text>
<text x="76.7" y="619.11" font-size="6.4" text-anchor="end">Mutation_SF3B1</text>
<text x="76.7" y="627.94" font-size="6.4" text-anchor="end">Mutation_CCND2</text>
<text x="76.7" y="636.77" font-size="6.4" text-anchor="end">loss_13q14.2</text>
<text x="76.7" y="643.6" font-size="6.4" text-anchor="end">loss_16p11.2a</text>
<text x="76.7" y="650.33" font-size="6.4" text-anchor="end">Mutation_TP53_or</text>
<text x="76.7" y="658.43" font-size="6.4" text-anchor="end">_loss_17p13.1</text>
<text x="76.7" y="664.96" font-size="6.4" text-anchor="end">Mutation_NXF1</text>
<text x="76.7" y="672.09" font-size="6.4" text-anchor="end">loss_2p11.2</text>
<text x="76.7" y="680.92" font-size="6.4" text-anchor="end">Mutation_NOTCH1</text>
<rect x="234.2" y="550.9" width="141" height="7.5" fill="#d2d2d2"/>
<rect x="234.2" y="559.73" width="141" height="7.5" fill="#d2d2d2"/>
<rect x="234.2" y="568.56" width="141" height="7.5" fill="#d2d2d2"/>
<rect x="234.2" y="577.39" width="141" height="7.5" fill="#d2d2d2"/>
<rect x="234.2" y="586.22" width="141" height="7.5" fill="#d2d2d2"/>
<rect x="234.2" y="595.05" width="141" height="7.5" fill="#d2d2d2"/>
<rect x="234.2" y="603.88" width="141" height="7.5" fill="#d2d2d2"/>
<rect x="234.2" y="612.71" width="141" height="7.5" fill="#d2d2d2"/>
<rect x="234.2" y="621.54" width="141" height="7.5" fill="#d2d2d2"/>
<rect x="234.2" y="630.37" width="141" height="7.5" fill="#d2d2d2"/>
<rect x="234.2" y="639.2" width="141" height="7.5" fill="#d2d2d2"/>
<rect x="234.2" y="648.03" width="141" height="7.5" fill="#d2d2d2"/>
<rect x="234.2" y="656.86" width="141" height="7.5" fill="#d2d2d2"/>
<rect x="234.2" y="665.69" width="141" height="7.5" fill="#d2d2d2"/>
<rect x="234.2" y="674.52" width="141" height="7.5" fill="#d2d2d2"/>
<rect x="234.2" y="550.9" width="2.78" height="7.5" fill="#7aaee0"/>
<rect x="242.67" y="550.9" width="1.42" height="7.5" fill="#2d67b2"/>
<rect x="245.51" y="550.9" width="2.13" height="7.5" fill="#3caa5c"/>
<rect x="248.79" y="550.9" width="1.42" height="7.5" fill="#2d67b2"/>
<rect x="254.05" y="550.9" width="1" height="7.5" fill="#2d67b2"/>
<rect x="256.18" y="550.9" width="1.42" height="7.5" fill="#3caa5c"/>
<rect x="259.74" y="550.9" width="2.84" height="7.5" fill="#3caa5c"/>
<rect x="265.43" y="550.9" width="2.13" height="7.5" fill="#7aaee0"/>
<rect x="273.96" y="550.9" width="1.42" height="7.5" fill="#3caa5c"/>
<rect x="276.81" y="550.9" width="1" height="7.5" fill="#7b2d8e"/>
<rect x="285.34" y="550.9" width="1.42" height="7.5" fill="#7b2d8e"/>
<rect x="292.46" y="550.9" width="1" height="7.5" fill="#2d67b2"/>
<rect x="300.99" y="550.9" width="1" height="7.5" fill="#7b2d8e"/>
<rect x="308.14" y="550.9" width="1.46" height="7.5" fill="#7b2d8e"/>
<rect x="313.69" y="550.9" width="1.17" height="7.5" fill="#2d67b2"/>
<rect x="318.81" y="550.9" width="1.02" height="7.5" fill="#3caa5c"/>
<rect x="325.38" y="550.9" width="0.73" height="7.5" fill="#7aaee0"/>
<rect x="331.23" y="550.9" width="1.17" height="7.5" fill="#7aaee0"/>
<rect x="352.42" y="550.9" width="1.46" height="7.5" fill="#2d67b2"/>
<rect x="246.22" y="559.73" width="1.71" height="7.5" fill="#e3161e"/>
<rect x="248.79" y="559.73" width="1.14" height="7.5" fill="#e3161e"/>
<rect x="251.91" y="559.73" width="1.14" height="7.5" fill="#e3161e"/>
<rect x="253.62" y="559.73" width="1.14" height="7.5" fill="#e3161e"/>
<rect x="256.18" y="559.73" width="1.42" height="7.5" fill="#e3161e"/>
<rect x="260.45" y="559.73" width="3.13" height="7.5" fill="#e3161e"/>
<rect x="276.81" y="559.73" width="1" height="7.5" fill="#e3161e"/>
<rect x="280.36" y="559.73" width="1.42" height="7.5" fill="#e3161e"/>
<rect x="283.21" y="559.73" width="1.14" height="7.5" fill="#e3161e"/>
<rect x="290.32" y="559.73" width="1.14" height="7.5" fill="#e3161e"/>
<rect x="296.01" y="559.73" width="1.14" height="7.5" fill="#e3161e"/>
<rect x="318.81" y="559.73" width="1.02" height="7.5" fill="#e3161e"/>
<rect x="348.48" y="559.73" width="1.02" height="7.5" fill="#e3161e"/>
<rect x="323.63" y="568.56" width="3.22" height="7.5" fill="#6d1212"/>
<rect x="332.69" y="568.56" width="1.17" height="7.5" fill="#6d1212"/>
<rect x="353.89" y="568.56" width="1.46" height="7.5" fill="#6d1212"/>
<rect x="359" y="568.56" width="1.46" height="7.5" fill="#6d1212"/>
<rect x="236.98" y="577.39" width="1.42" height="7.5" fill="#e3161e"/>
<rect x="240.53" y="577.39" width="1.42" height="7.5" fill="#e3161e"/>
<rect x="245.51" y="577.39" width="1.42" height="7.5" fill="#e3161e"/>
<rect x="255.47" y="577.39" width="2.84" height="7.5" fill="#e3161e"/>
<rect x="266.14" y="577.39" width="1.42" height="7.5" fill="#e3161e"/>
<rect x="271.83" y="577.39" width="1.14" height="7.5" fill="#e3161e"/>
<rect x="276.1" y="577.39" width="1.42" height="7.5" fill="#e3161e"/>
<rect x="278.23" y="577.39" width="1.42" height="7.5" fill="#e3161e"/>
<rect x="286.77" y="577.39" width="2.13" height="7.5" fill="#e3161e"/>
<rect x="300.28" y="577.39" width="2.13" height="7.5" fill="#e3161e"/>
<rect x="303.83" y="577.39" width="1.42" height="7.5" fill="#e3161e"/>
<rect x="303.46" y="577.39" width="1.46" height="7.5" fill="#e3161e"/>
<rect x="307.12" y="577.39" width="1.46" height="7.5" fill="#e3161e"/>
<rect x="310.77" y="577.39" width="1.46" height="7.5" fill="#e3161e"/>
<rect x="315.15" y="577.39" width="1.46" height="7.5" fill="#e3161e"/>
<rect x="320.27" y="577.39" width="1.46" height="7.5" fill="#e3161e"/>
<rect x="323.92" y="577.39" width="2.63" height="7.5" fill="#e3161e"/>
<rect x="330.5" y="577.39" width="1.46" height="7.5" fill="#e3161e"/>
<rect x="334.15" y="577.39" width="2.63" height="7.5" fill="#e3161e"/>
<rect x="338.54" y="577.39" width="4.38" height="7.5" fill="#e3161e"/>
<rect x="343.65" y="577.39" width="6.58" height="7.5" fill="#e3161e"/>
<rect x="353.15" y="577.39" width="3.22" height="7.5" fill="#e3161e"/>
<rect x="356.81" y="577.39" width="5.12" height="7.5" fill="#e3161e"/>
<rect x="367.77" y="577.39" width="2.19" height="7.5" fill="#e3161e"/>
<rect x="371.86" y="577.39" width="1.75" height="7.5" fill="#e3161e"/>
<rect x="235.98" y="586.22" width="1" height="7.5" fill="#6d1212"/>
<rect x="246.22" y="586.22" width="1.42" height="7.5" fill="#6d1212"/>
<rect x="257.6" y="586.22" width="1.42" height="7.5" fill="#6d1212"/>
<rect x="261.87" y="586.22" width="2.13" height="7.5" fill="#6d1212"/>
<rect x="264.43" y="586.22" width="1.71" height="7.5" fill="#6d1212"/>
<rect x="269.7" y="586.22" width="1" height="7.5" fill="#6d1212"/>
<rect x="234.2" y="595.05" width="0.36" height="7.5" fill="#2d67b2"/>
<rect x="235.56" y="595.05" width="3.56" height="7.5" fill="#e6e03c"/>
<rect x="240.53" y="595.05" width="1.14" height="7.5" fill="#2d67b2"/>
<rect x="244.8" y="595.05" width="1.42" height="7.5" fill="#e6e03c"/>
<rect x="272.54" y="595.05" width="1" height="7.5" fill="#e6e03c"/>
<rect x="286.34" y="595.05" width="1.14" height="7.5" fill="#e6e03c"/>
<rect x="304.55" y="595.05" width="1.42" height="7.5" fill="#2d67b2"/>
<rect x="305.65" y="595.05" width="1.02" height="7.5" fill="#2d67b2"/>
<rect x="310.04" y="595.05" width="1.02" height="7.5" fill="#e6e03c"/>
<rect x="311.94" y="595.05" width="1.02" height="7.5" fill="#e6e03c"/>
<rect x="341.46" y="595.05" width="1.17" height="7.5" fill="#e6e03c"/>
<rect x="234.2" y="603.88" width="3.49" height="7.5" fill="#2d67b2"/>
<rect x="239.82" y="603.88" width="2.13" height="7.5" fill="#2d67b2"/>
<rect x="256.89" y="603.88" width="1.42" height="7.5" fill="#2d67b2"/>
<rect x="259.74" y="603.88" width="1.42" height="7.5" fill="#2d67b2"/>
<rect x="262.58" y="603.88" width="2.13" height="7.5" fill="#2d67b2"/>
<rect x="268.98" y="603.88" width="1.14" height="7.5" fill="#2d67b2"/>
<rect x="281.08" y="603.88" width="3.56" height="7.5" fill="#2d67b2"/>
<rect x="291.03" y="603.88" width="1.42" height="7.5" fill="#2d67b2"/>
<rect x="293.17" y="603.88" width="1.42" height="7.5" fill="#2d67b2"/>
<rect x="307.85" y="603.88" width="1.46" height="7.5" fill="#2d67b2"/>
<rect x="315.88" y="603.88" width="1.9" height="7.5" fill="#2d67b2"/>
<rect x="323.19" y="603.88" width="2.48" height="7.5" fill="#2d67b2"/>
<rect x="345.85" y="603.88" width="1.75" height="7.5" fill="#2d67b2"/>
<rect x="234.2" y="612.71" width="4.2" height="7.5" fill="#2d67b2"/>
<rect x="239.82" y="612.71" width="2.13" height="7.5" fill="#2d67b2"/>
<rect x="251.91" y="612.71" width="6.4" height="7.5" fill="#2d67b2"/>
<rect x="264.01" y="612.71" width="2.13" height="7.5" fill="#2d67b2"/>
<rect x="268.27" y="612.71" width="1.42" height="7.5" fill="#2d67b2"/>
<rect x="277.23" y="612.71" width="1.71" height="7.5" fill="#2d67b2"/>
<rect x="281.08" y="612.71" width="2.42" height="7.5" fill="#2d67b2"/>
<rect x="285.34" y="612.71" width="1.42" height="7.5" fill="#2d67b2"/>
<rect x="289.61" y="612.71" width="2.13" height="7.5" fill="#2d67b2"/>
<rect x="296.72" y="612.71" width="1.42" height="7.5" fill="#2d67b2"/>
<rect x="303.12" y="612.71" width="1.42" height="7.5" fill="#2d67b2"/>
<rect x="304.19" y="612.71" width="1.46" height="7.5" fill="#2d67b2"/>
<rect x="307.12" y="612.71" width="2.19" height="7.5" fill="#2d67b2"/>
<rect x="314.42" y="612.71" width="1.46" height="7.5" fill="#2d67b2"/>
<rect x="316.62" y="612.71" width="2.19" height="7.5" fill="#2d67b2"/>
<rect x="319.54" y="612.71" width="0.73" height="7.5" fill="#2d67b2"/>
<rect x="322.46" y="612.71" width="1.46" height="7.5" fill="#2d67b2"/>
<rect x="338.54" y="612.71" width="2.92" height="7.5" fill="#2d67b2"/>
<rect x="345.12" y="612.71" width="1.02" height="7.5" fill="#7aaee0"/>
<rect x="356.08" y="612.71" width="1.46" height="7.5" fill="#2d67b2"/>
<rect x="359" y="612.71" width="1.17" height="7.5" fill="#2d67b2"/>
<rect x="371.42" y="612.71" width="2.19" height="7.5" fill="#2d67b2"/>
<rect x="244.09" y="621.54" width="1.85" height="7.5" fill="#2d67b2"/>
<rect x="249.07" y="621.54" width="1.42" height="7.5" fill="#2d67b2"/>
<rect x="261.16" y="621.54" width="1" height="7.5" fill="#2d67b2"/>
<rect x="275.81" y="621.54" width="1" height="7.5" fill="#7b2d8e"/>
<rect x="234.2" y="630.37" width="7.47" height="7.5" fill="#6d1212"/>
<rect x="245.09" y="630.37" width="2.84" height="7.5" fill="#6d1212"/>
<rect x="248.79" y="630.37" width="1.42" height="7.5" fill="#6d1212"/>
<rect x="251.2" y="630.37" width="1.42" height="7.5" fill="#6d1212"/>
<rect x="253.34" y="630.37" width="1.42" height="7.5" fill="#6d1212"/>
<rect x="256.18" y="630.37" width="3.56" height="7.5" fill="#6d1212"/>
<rect x="261.16" y="630.37" width="1.42" height="7.5" fill="#6d1212"/>
<rect x="264.01" y="630.37" width="4.98" height="7.5" fill="#6d1212"/>
<rect x="269.7" y="630.37" width="3.56" height="7.5" fill="#6d1212"/>
<rect x="275.39" y="630.37" width="8.11" height="7.5" fill="#6d1212"/>
<rect x="288.19" y="630.37" width="7.11" height="7.5" fill="#6d1212"/>
<rect x="297.43" y="630.37" width="1.42" height="7.5" fill="#6d1212"/>
<rect x="299.99" y="630.37" width="1.99" height="7.5" fill="#6d1212"/>
<rect x="303.83" y="630.37" width="1.42" height="7.5" fill="#6d1212"/>
<rect x="304.92" y="630.37" width="2.92" height="7.5" fill="#6d1212"/>
<rect x="309.31" y="630.37" width="1.46" height="7.5" fill="#6d1212"/>
<rect x="311.5" y="630.37" width="1.46" height="7.5" fill="#6d1212"/>
<rect x="315.15" y="630.37" width="6.58" height="7.5" fill="#6d1212"/>
<rect x="323.19" y="630.37" width="2.19" height="7.5" fill="#6d1212"/>
<rect x="326.12" y="630.37" width="1.46" height="7.5" fill="#6d1212"/>
<rect x="329.04" y="630.37" width="1.46" height="7.5" fill="#6d1212"/>
<rect x="331.96" y="630.37" width="1.9" height="7.5" fill="#6d1212"/>
<rect x="336.35" y="630.37" width="2.92" height="7.5" fill="#6d1212"/>
<rect x="346.58" y="630.37" width="4.38" height="7.5" fill="#6d1212"/>
<rect x="356.08" y="630.37" width="4.09" height="7.5" fill="#6d1212"/>
<rect x="361.92" y="630.37" width="1.46" height="7.5" fill="#6d1212"/>
<rect x="364.85" y="630.37" width="1.46" height="7.5" fill="#6d1212"/>
<rect x="371.42" y="630.37" width="1.46" height="7.5" fill="#6d1212"/>
<rect x="244.8" y="639.2" width="1.42" height="7.5" fill="#6d1212"/>
<rect x="264.72" y="639.2" width="1.42" height="7.5" fill="#6d1212"/>
<rect x="267.56" y="639.2" width="1.42" height="7.5" fill="#6d1212"/>
<rect x="278.23" y="639.2" width="1.42" height="7.5" fill="#6d1212"/>
<rect x="308.14" y="639.2" width="1.9" height="7.5" fill="#6d1212"/>
<rect x="320.27" y="639.2" width="2.19" height="7.5" fill="#6d1212"/>
<rect x="325.38" y="639.2" width="2.19" height="7.5" fill="#6d1212"/>
<rect x="329.04" y="639.2" width="1.9" height="7.5" fill="#6d1212"/>
<rect x="340.73" y="639.2" width="1.02" height="7.5" fill="#6d1212"/>
<rect x="344.39" y="639.2" width="1.17" height="7.5" fill="#6d1212"/>
<rect x="348.77" y="639.2" width="1.17" height="7.5" fill="#6d1212"/>
<rect x="367.77" y="639.2" width="1.17" height="7.5" fill="#6d1212"/>
<rect x="371.86" y="639.2" width="1.02" height="7.5" fill="#6d1212"/>
<rect x="234.2" y="648.03" width="0.36" height="7.5" fill="#2d67b2"/>
<rect x="238.4" y="648.03" width="1.42" height="7.5" fill="#2d67b2"/>
<rect x="257.6" y="648.03" width="1.14" height="7.5" fill="#7aaee0"/>
<rect x="268.27" y="648.03" width="1" height="7.5" fill="#7b2d8e"/>
<rect x="271.12" y="648.03" width="1" height="7.5" fill="#2d67b2"/>
<rect x="275.39" y="648.03" width="1" height="7.5" fill="#7b2d8e"/>
<rect x="283.92" y="648.03" width="1" height="7.5" fill="#2d67b2"/>
<rect x="301.7" y="648.03" width="1.14" height="7.5" fill="#7aaee0"/>
<rect x="326.55" y="648.03" width="1.02" height="7.5" fill="#7b2d8e"/>
<rect x="342.63" y="648.03" width="1.02" height="7.5" fill="#2d67b2"/>
<rect x="365.14" y="648.03" width="0.88" height="7.5" fill="#7aaee0"/>
<rect x="372.89" y="648.03" width="1.02" height="7.5" fill="#2d67b2"/>
<rect x="296.01" y="656.86" width="1.14" height="7.5" fill="#2d67b2"/>
<rect x="331.23" y="656.86" width="0.73" height="7.5" fill="#7aaee0"/>
<rect x="350.96" y="656.86" width="1.02" height="7.5" fill="#7b2d8e"/>
<rect x="356.08" y="656.86" width="1.17" height="7.5" fill="#2d67b2"/>
<rect x="360.75" y="656.86" width="1.17" height="7.5" fill="#7b2d8e"/>
<rect x="234.56" y="665.69" width="1" height="7.5" fill="#6d1212"/>
<rect x="251.2" y="665.69" width="2.84" height="7.5" fill="#6d1212"/>
<rect x="271.12" y="665.69" width="1.42" height="7.5" fill="#6d1212"/>
<rect x="274.67" y="665.69" width="1.42" height="7.5" fill="#6d1212"/>
<rect x="277.23" y="665.69" width="1" height="7.5" fill="#6d1212"/>
<rect x="281.08" y="665.69" width="1.42" height="7.5" fill="#6d1212"/>
<rect x="290.32" y="665.69" width="1.42" height="7.5" fill="#6d1212"/>
<rect x="296.01" y="665.69" width="1.42" height="7.5" fill="#6d1212"/>
<rect x="308.14" y="665.69" width="1.17" height="7.5" fill="#6d1212"/>
<rect x="320.27" y="665.69" width="1.02" height="7.5" fill="#6d1212"/>
<rect x="326.85" y="665.69" width="1.17" height="7.5" fill="#6d1212"/>
<rect x="340.73" y="665.69" width="1.02" height="7.5" fill="#6d1212"/>
<rect x="369.96" y="665.69" width="1.46" height="7.5" fill="#6d1212"/>
<rect x="234.84" y="674.52" width="1.14" height="7.5" fill="#3caa5c"/>
<rect x="244.09" y="674.52" width="1.42" height="7.5" fill="#2d67b2"/>
<rect x="245.51" y="674.52" width="1.85" height="7.5" fill="#3caa5c"/>
<rect x="257.6" y="674.52" width="1.42" height="7.5" fill="#3caa5c"/>
<rect x="261.16" y="674.52" width="1" height="7.5" fill="#3caa5c"/>
<rect x="263.29" y="674.52" width="1.14" height="7.5" fill="#3caa5c"/>
<rect x="269.27" y="674.52" width="1.14" height="7.5" fill="#3caa5c"/>
<rect x="273.25" y="674.52" width="1.14" height="7.5" fill="#f0a040"/>
<rect x="281.79" y="674.52" width="1.14" height="7.5" fill="#3caa5c"/>
<rect x="286.77" y="674.52" width="1.42" height="7.5" fill="#3caa5c"/>
<rect x="288.9" y="674.52" width="0.71" height="7.5" fill="#3caa5c"/>
<rect x="291.74" y="674.52" width="1.42" height="7.5" fill="#2d67b2"/>
<rect x="300.28" y="674.52" width="1.42" height="7.5" fill="#3caa5c"/>
<rect x="302" y="674.52" width="0.73" height="7.5" fill="#3caa5c"/>
<rect x="307.55" y="674.52" width="1.02" height="7.5" fill="#3caa5c"/>
<rect x="321.73" y="674.52" width="2.19" height="7.5" fill="#3caa5c"/>
<rect x="323.92" y="674.52" width="2.19" height="7.5" fill="#e6e03c"/>
<rect x="326.12" y="674.52" width="1.46" height="7.5" fill="#3caa5c"/>
<rect x="330.5" y="674.52" width="0.73" height="7.5" fill="#3caa5c"/>
<rect x="334.89" y="674.52" width="1.02" height="7.5" fill="#3caa5c"/>
<rect x="342.19" y="674.52" width="1.02" height="7.5" fill="#7b2d8e"/>
<rect x="345.12" y="674.52" width="1.46" height="7.5" fill="#3caa5c"/>
<rect x="346.58" y="674.52" width="1.46" height="7.5" fill="#f0a040"/>
<rect x="348.04" y="674.52" width="1.46" height="7.5" fill="#e6e03c"/>
<rect x="360.46" y="674.52" width="5.85" height="7.5" fill="#3caa5c"/>
<rect x="368.5" y="674.52" width="1.46" height="7.5" fill="#3caa5c"/>
<rect x="372.15" y="674.52" width="2.92" height="7.5" fill="#3caa5c"/>
<rect x="234.6" y="490.4" width="1.25" height="5.1" fill="#9a7f98" opacity="0.9"/>
<rect x="234.6" y="485.3" width="1.25" height="5.1" fill="#9fa8c0" opacity="0.8"/>
<rect x="236.27" y="490.4" width="1.25" height="5.1" fill="#a0a0a8" opacity="0.9"/>
<rect x="237.8" y="490.4" width="1.25" height="5.1" fill="#b59ab2" opacity="0.9"/>
<rect x="237.8" y="485.3" width="1.25" height="5.1" fill="#c9a0b4" opacity="0.8"/>
<rect x="237.8" y="480.2" width="0.9" height="5.1" fill="#b7c9de" opacity="0.8"/>
<rect x="241.21" y="490.4" width="1.25" height="5.1" fill="#9a7f98" opacity="0.9"/>
<rect x="241.21" y="485.3" width="1.25" height="5.1" fill="#c8a8b8" opacity="0.8"/>
<rect x="242.82" y="490.4" width="1.25" height="5.1" fill="#b59ab2" opacity="0.9"/>
<rect x="242.82" y="485.3" width="1.25" height="5.1" fill="#a8b8d0" opacity="0.8"/>
<rect x="244.45" y="490.4" width="1.25" height="5.1" fill="#5f8fc0" opacity="0.9"/>
<rect x="244.45" y="485.3" width="1.25" height="5.1" fill="#c9a0b4" opacity="0.8"/>
<rect x="246.51" y="490.4" width="1.25" height="5.1" fill="#6f8fbf" opacity="0.9"/>
<rect x="248.23" y="490.4" width="1.25" height="5.1" fill="#5f8fc0" opacity="0.9"/>
<rect x="249.95" y="490.4" width="1.25" height="5.1" fill="#9a7f98" opacity="0.9"/>
<rect x="251.69" y="490.4" width="1.25" height="5.1" fill="#c48a9c" opacity="0.9"/>
<rect x="251.69" y="485.3" width="1.25" height="5.1" fill="#c9a0b4" opacity="0.8"/>
<rect x="253.72" y="490.4" width="1.25" height="5.1" fill="#6f8fbf" opacity="0.9"/>
<rect x="253.72" y="485.3" width="1.25" height="5.1" fill="#c9a0b4" opacity="0.8"/>
<rect x="255.61" y="490.4" width="1.25" height="5.1" fill="#b59ab2" opacity="0.9"/>
<rect x="255.61" y="485.3" width="1.25" height="5.1" fill="#d8a4b4" opacity="0.8"/>
<rect x="255.61" y="480.2" width="0.9" height="5.1" fill="#b7c9de" opacity="0.8"/>
<rect x="255.61" y="475.1" width="0.9" height="5.1" fill="#d9c3cf" opacity="0.8"/>
<rect x="257.62" y="490.4" width="1.25" height="5.1" fill="#8f93ad" opacity="0.9"/>
<rect x="259.69" y="490.4" width="1.25" height="5.1" fill="#5f8fc0" opacity="0.9"/>
<rect x="259.69" y="485.3" width="1.25" height="5.1" fill="#b8b0c8" opacity="0.8"/>
<rect x="259.69" y="480.2" width="0.9" height="5.1" fill="#e9b3bd" opacity="0.8"/>
<rect x="259.69" y="475.1" width="0.9" height="5.1" fill="#c9bccb" opacity="0.8"/>
<rect x="259.69" y="470" width="0.9" height="5.1" fill="#efc0c6" opacity="0.8"/>
<rect x="261.51" y="490.4" width="1.25" height="5.1" fill="#8f93ad" opacity="0.9"/>
<rect x="261.51" y="485.3" width="1.25" height="5.1" fill="#d8a4b4" opacity="0.8"/>
<rect x="261.51" y="480.2" width="0.9" height="5.1" fill="#efc0c6" opacity="0.8"/>
<rect x="261.51" y="475.1" width="0.9" height="5.1" fill="#d9c3cf" opacity="0.8"/>
<rect x="263.49" y="490.4" width="1.25" height="5.1" fill="#a0a0a8" opacity="0.9"/>
<rect x="263.49" y="485.3" width="1.25" height="5.1" fill="#9fa8c0" opacity="0.8"/>
<rect x="263.49" y="480.2" width="0.9" height="5.1" fill="#e9b3bd" opacity="0.8"/>
<rect x="265.43" y="490.4" width="1.25" height="5.1" fill="#a0a0a8" opacity="0.9"/>
<rect x="267.08" y="490.4" width="1.25" height="5.1" fill="#c48a9c" opacity="0.9"/>
<rect x="267.08" y="485.3" width="1.25" height="5.1" fill="#9fa8c0" opacity="0.8"/>
<rect x="269.08" y="490.4" width="1.25" height="5.1" fill="#c48a9c" opacity="0.9"/>
<rect x="271.2" y="490.4" width="1.25" height="5.1" fill="#8f93ad" opacity="0.9"/>
<rect x="271.2" y="485.3" width="1.25" height="5.1" fill="#c9a0b4" opacity="0.8"/>
<rect x="271.2" y="480.2" width="0.9" height="5.1" fill="#efc0c6" opacity="0.8"/>
<rect x="272.97" y="490.4" width="1.25" height="5.1" fill="#b59ab2" opacity="0.9"/>
<rect x="275.12" y="490.4" width="1.25" height="5.1" fill="#a0a0a8" opacity="0.9"/>
<rect x="275.12" y="485.3" width="1.25" height="5.1" fill="#a8b8d0" opacity="0.8"/>
<rect x="276.89" y="490.4" width="1.25" height="5.1" fill="#6f8fbf" opacity="0.9"/>
<rect x="276.89" y="485.3" width="1.25" height="5.1" fill="#b8b0c8" opacity="0.8"/>
<rect x="276.89" y="480.2" width="0.9" height="5.1" fill="#efc0c6" opacity="0.8"/>
<rect x="276.89" y="475.1" width="0.9" height="5.1" fill="#d9c3cf" opacity="0.8"/>
<rect x="278.54" y="490.4" width="1.25" height="5.1" fill="#c48a9c" opacity="0.9"/>
<rect x="278.54" y="485.3" width="1.25" height="5.1" fill="#9fa8c0" opacity="0.8"/>
<rect x="280.45" y="490.4" width="1.25" height="5.1" fill="#6f8fbf" opacity="0.9"/>
<rect x="280.45" y="485.3" width="1.25" height="5.1" fill="#d8a4b4" opacity="0.8"/>
<rect x="280.45" y="480.2" width="0.9" height="5.1" fill="#d9c3cf" opacity="0.8"/>
<rect x="280.45" y="475.1" width="0.9" height="5.1" fill="#d9c3cf" opacity="0.8"/>
<rect x="282.31" y="490.4" width="1.25" height="5.1" fill="#9a7f98" opacity="0.9"/>
<rect x="284.45" y="490.4" width="1.25" height="5.1" fill="#8f93ad" opacity="0.9"/>
<rect x="286.53" y="490.4" width="1.25" height="5.1" fill="#9a7f98" opacity="0.9"/>
<rect x="286.53" y="485.3" width="1.25" height="5.1" fill="#a8b8d0" opacity="0.8"/>
<rect x="288.29" y="490.4" width="1.25" height="5.1" fill="#b59ab2" opacity="0.9"/>
<rect x="288.29" y="485.3" width="1.25" height="5.1" fill="#d8a4b4" opacity="0.8"/>
<rect x="288.29" y="480.2" width="0.9" height="5.1" fill="#b7c9de" opacity="0.8"/>
<rect x="288.29" y="475.1" width="0.9" height="5.1" fill="#e9b3bd" opacity="0.8"/>
<rect x="288.29" y="470" width="0.9" height="5.1" fill="#e7a7b3" opacity="0.8"/>
<rect x="290.32" y="490.4" width="1.25" height="5.1" fill="#b59ab2" opacity="0.9"/>
<rect x="290.32" y="485.3" width="1.25" height="5.1" fill="#d8a4b4" opacity="0.8"/>
<rect x="290.32" y="480.2" width="0.9" height="5.1" fill="#e7a7b3" opacity="0.8"/>
<rect x="292.04" y="490.4" width="1.25" height="5.1" fill="#8f93ad" opacity="0.9"/>
<rect x="293.85" y="490.4" width="1.25" height="5.1" fill="#a0a0a8" opacity="0.9"/>
<rect x="293.85" y="485.3" width="1.25" height="5.1" fill="#d8a4b4" opacity="0.8"/>
<rect x="293.85" y="480.2" width="0.9" height="5.1" fill="#b7c9de" opacity="0.8"/>
<rect x="293.85" y="475.1" width="0.9" height="5.1" fill="#d9c3cf" opacity="0.8"/>
<rect x="293.85" y="470" width="0.9" height="5.1" fill="#b7c9de" opacity="0.8"/>
<rect x="296.03" y="490.4" width="1.25" height="5.1" fill="#c48a9c" opacity="0.9"/>
<rect x="296.03" y="485.3" width="1.25" height="5.1" fill="#9fa8c0" opacity="0.8"/>
<rect x="296.03" y="480.2" width="0.9" height="5.1" fill="#b7c9de" opacity="0.8"/>
<rect x="296.03" y="475.1" width="0.9" height="5.1" fill="#b7c9de" opacity="0.8"/>
<rect x="297.64" y="490.4" width="1.25" height="5.1" fill="#8f93ad" opacity="0.9"/>
<rect x="297.64" y="485.3" width="1.25" height="5.1" fill="#c8a8b8" opacity="0.8"/>
<rect x="299.85" y="490.4" width="1.25" height="5.1" fill="#9a7f98" opacity="0.9"/>
<rect x="299.85" y="485.3" width="1.25" height="5.1" fill="#c8a8b8" opacity="0.8"/>
<rect x="299.85" y="480.2" width="0.9" height="5.1" fill="#efc0c6" opacity="0.8"/>
<rect x="299.85" y="475.1" width="0.9" height="5.1" fill="#c9bccb" opacity="0.8"/>
<rect x="301.32" y="490.4" width="1.25" height="5.1" fill="#5f8fc0" opacity="0.9"/>
<rect x="301.32" y="485.3" width="1.25" height="5.1" fill="#d8a4b4" opacity="0.8"/>
<rect x="301.32" y="480.2" width="0.9" height="5.1" fill="#d9c3cf" opacity="0.8"/>
<rect x="301.32" y="475.1" width="0.9" height="5.1" fill="#e9b3bd" opacity="0.8"/>
<rect x="302.96" y="490.4" width="1.25" height="5.1" fill="#9a7f98" opacity="0.9"/>
<rect x="302.96" y="485.3" width="1.25" height="5.1" fill="#c9a0b4" opacity="0.8"/>
<rect x="305" y="490.4" width="1.25" height="5.1" fill="#5f8fc0" opacity="0.9"/>
<rect x="305" y="485.3" width="1.25" height="5.1" fill="#c8a8b8" opacity="0.8"/>
<rect x="305" y="480.2" width="0.9" height="5.1" fill="#d9c3cf" opacity="0.8"/>
<rect x="306.55" y="490.4" width="1.25" height="5.1" fill="#b59ab2" opacity="0.9"/>
<rect x="306.55" y="485.3" width="1.25" height="5.1" fill="#b8b0c8" opacity="0.8"/>
<rect x="308.21" y="490.4" width="1.25" height="5.1" fill="#6f8fbf" opacity="0.9"/>
<rect x="308.21" y="485.3" width="1.25" height="5.1" fill="#b8b0c8" opacity="0.8"/>
<rect x="308.21" y="480.2" width="0.9" height="5.1" fill="#b7c9de" opacity="0.8"/>
<rect x="308.21" y="475.1" width="0.9" height="5.1" fill="#e7a7b3" opacity="0.8"/>
<rect x="310.21" y="490.4" width="1.25" height="5.1" fill="#6f8fbf" opacity="0.9"/>
<rect x="310.21" y="485.3" width="1.25" height="5.1" fill="#9fa8c0" opacity="0.8"/>
<rect x="310.21" y="480.2" width="0.9" height="5.1" fill="#e7a7b3" opacity="0.8"/>
<rect x="311.96" y="490.4" width="1.25" height="5.1" fill="#6f8fbf" opacity="0.9"/>
<rect x="311.96" y="485.3" width="1.25" height="5.1" fill="#c9a0b4" opacity="0.8"/>
<rect x="311.96" y="480.2" width="0.9" height="5.1" fill="#d9c3cf" opacity="0.8"/>
<rect x="311.96" y="475.1" width="0.9" height="5.1" fill="#d9c3cf" opacity="0.8"/>
<rect x="315.36" y="490.4" width="1.25" height="5.1" fill="#9a7f98" opacity="0.9"/>
<rect x="315.36" y="485.3" width="1.25" height="5.1" fill="#c9a0b4" opacity="0.8"/>
<rect x="317.37" y="490.4" width="1.25" height="5.1" fill="#9a7f98" opacity="0.9"/>
<rect x="319.55" y="490.4" width="1.25" height="5.1" fill="#9a7f98" opacity="0.9"/>
<rect x="319.55" y="485.3" width="1.25" height="5.1" fill="#c8a8b8" opacity="0.8"/>
<rect x="319.55" y="480.2" width="0.9" height="5.1" fill="#d9c3cf" opacity="0.8"/>
<rect x="319.55" y="475.1" width="0.9" height="5.1" fill="#efc0c6" opacity="0.8"/>
<rect x="321.53" y="490.4" width="1.25" height="5.1" fill="#8f93ad" opacity="0.9"/>
<rect x="323.56" y="490.4" width="1.25" height="5.1" fill="#b59ab2" opacity="0.9"/>
<rect x="323.56" y="485.3" width="1.25" height="5.1" fill="#a8b8d0" opacity="0.8"/>
<rect x="323.56" y="480.2" width="0.9" height="5.1" fill="#d9c3cf" opacity="0.8"/>
<rect x="323.56" y="475.1" width="0.9" height="5.1" fill="#c9bccb" opacity="0.8"/>
<rect x="325.66" y="490.4" width="1.25" height="5.1" fill="#9a7f98" opacity="0.9"/>
<rect x="327.63" y="490.4" width="1.25" height="5.1" fill="#6f8fbf" opacity="0.9"/>
<rect x="327.63" y="485.3" width="1.25" height="5.1" fill="#a8b8d0" opacity="0.8"/>
<rect x="329.77" y="490.4" width="1.25" height="5.1" fill="#a0a0a8" opacity="0.9"/>
<rect x="332.01" y="490.4" width="1.25" height="5.1" fill="#6f8fbf" opacity="0.9"/>
<rect x="334.04" y="490.4" width="1.25" height="5.1" fill="#9a7f98" opacity="0.9"/>
<rect x="334.04" y="485.3" width="1.25" height="5.1" fill="#b8b0c8" opacity="0.8"/>
<rect x="334.04" y="480.2" width="0.9" height="5.1" fill="#d9c3cf" opacity="0.8"/>
<rect x="335.65" y="490.4" width="1.25" height="5.1" fill="#6f8fbf" opacity="0.9"/>
<rect x="335.65" y="485.3" width="1.25" height="5.1" fill="#b8b0c8" opacity="0.8"/>
<rect x="337.32" y="490.4" width="1.25" height="5.1" fill="#9a7f98" opacity="0.9"/>
<rect x="339.12" y="490.4" width="1.25" height="5.1" fill="#b59ab2" opacity="0.9"/>
<rect x="339.12" y="485.3" width="1.25" height="5.1" fill="#c9a0b4" opacity="0.8"/>
<rect x="339.12" y="480.2" width="0.9" height="5.1" fill="#e9b3bd" opacity="0.8"/>
<rect x="339.12" y="475.1" width="0.9" height="5.1" fill="#e7a7b3" opacity="0.8"/>
<rect x="341.37" y="490.4" width="1.25" height="5.1" fill="#9a7f98" opacity="0.9"/>
<rect x="341.37" y="485.3" width="1.25" height="5.1" fill="#b8b0c8" opacity="0.8"/>
<rect x="341.37" y="480.2" width="0.9" height="5.1" fill="#d9c3cf" opacity="0.8"/>
<rect x="341.37" y="475.1" width="0.9" height="5.1" fill="#c9bccb" opacity="0.8"/>
<rect x="343.21" y="490.4" width="1.25" height="5.1" fill="#6f8fbf" opacity="0.9"/>
<rect x="345.38" y="490.4" width="1.25" height="5.1" fill="#9a7f98" opacity="0.9"/>
<rect x="347.62" y="490.4" width="1.25" height="5.1" fill="#5f8fc0" opacity="0.9"/>
<rect x="349.7" y="490.4" width="1.25" height="5.1" fill="#a0a0a8" opacity="0.9"/>
<rect x="351.92" y="490.4" width="1.25" height="5.1" fill="#b59ab2" opacity="0.9"/>
<rect x="351.92" y="485.3" width="1.25" height="5.1" fill="#9fa8c0" opacity="0.8"/>
<rect x="351.92" y="480.2" width="0.9" height="5.1" fill="#e7a7b3" opacity="0.8"/>
<rect x="351.92" y="475.1" width="0.9" height="5.1" fill="#c9bccb" opacity="0.8"/>
<rect x="351.92" y="470" width="0.9" height="5.1" fill="#d9c3cf" opacity="0.8"/>
<rect x="353.52" y="490.4" width="1.25" height="5.1" fill="#9a7f98" opacity="0.9"/>
<rect x="355.43" y="490.4" width="1.25" height="5.1" fill="#a0a0a8" opacity="0.9"/>
<rect x="355.43" y="485.3" width="1.25" height="5.1" fill="#d8a4b4" opacity="0.8"/>
<rect x="356.93" y="490.4" width="1.25" height="5.1" fill="#b59ab2" opacity="0.9"/>
<rect x="356.93" y="485.3" width="1.25" height="5.1" fill="#c8a8b8" opacity="0.8"/>
<rect x="358.5" y="490.4" width="1.25" height="5.1" fill="#9a7f98" opacity="0.9"/>
<rect x="358.5" y="485.3" width="1.25" height="5.1" fill="#b8b0c8" opacity="0.8"/>
<rect x="358.5" y="480.2" width="0.9" height="5.1" fill="#e9b3bd" opacity="0.8"/>
<rect x="358.5" y="475.1" width="0.9" height="5.1" fill="#b7c9de" opacity="0.8"/>
<rect x="358.5" y="470" width="0.9" height="5.1" fill="#e9b3bd" opacity="0.8"/>
<rect x="360.49" y="490.4" width="1.25" height="5.1" fill="#9a7f98" opacity="0.9"/>
<rect x="362.7" y="490.4" width="1.25" height="5.1" fill="#b59ab2" opacity="0.9"/>
<rect x="362.7" y="485.3" width="1.25" height="5.1" fill="#c8a8b8" opacity="0.8"/>
<rect x="364.18" y="490.4" width="1.25" height="5.1" fill="#a0a0a8" opacity="0.9"/>
<rect x="366.1" y="490.4" width="1.25" height="5.1" fill="#c48a9c" opacity="0.9"/>
<rect x="366.1" y="485.3" width="1.25" height="5.1" fill="#b8b0c8" opacity="0.8"/>
<rect x="368.08" y="490.4" width="1.25" height="5.1" fill="#c48a9c" opacity="0.9"/>
<rect x="368.08" y="485.3" width="1.25" height="5.1" fill="#a8b8d0" opacity="0.8"/>
<rect x="369.64" y="490.4" width="1.25" height="5.1" fill="#6f8fbf" opacity="0.9"/>
<rect x="369.64" y="485.3" width="1.25" height="5.1" fill="#d8a4b4" opacity="0.8"/>
<rect x="371.83" y="490.4" width="1.25" height="5.1" fill="#9a7f98" opacity="0.9"/>
<rect x="371.83" y="485.3" width="1.25" height="5.1" fill="#a8b8d0" opacity="0.8"/>
<rect x="371.83" y="480.2" width="0.9" height="5.1" fill="#b7c9de" opacity="0.8"/>
<rect x="371.83" y="475.1" width="0.9" height="5.1" fill="#b7c9de" opacity="0.8"/>
<rect x="371.83" y="470" width="0.9" height="5.1" fill="#e9b3bd" opacity="0.8"/>
<rect x="373.34" y="490.4" width="1.25" height="5.1" fill="#c48a9c" opacity="0.9"/>
<line x1="233.6" y1="469.4" x2="233.6" y2="495.6" stroke="#222" stroke-width="0.9"/>
<line x1="231.6" y1="475.3" x2="233.6" y2="475.3" stroke="#222" stroke-width="0.7"/>
<text x="227.6" y="477" font-size="4.8" text-anchor="middle">4</text>
<line x1="231.6" y1="485.5" x2="233.6" y2="485.5" stroke="#222" stroke-width="0.7"/>
<text x="227.6" y="487.2" font-size="4.8" text-anchor="middle">2</text>
<line x1="231.6" y1="495.5" x2="233.6" y2="495.5" stroke="#222" stroke-width="0.7"/>
<text x="227.6" y="497.2" font-size="4.8" text-anchor="middle">0</text>
<rect x="234.2" y="496.3" width="2.31" height="12.1" fill="#f2a124"/>
<rect x="235.91" y="496.3" width="3.03" height="12.1" fill="#f2a124"/>
<rect x="238.34" y="496.3" width="2.78" height="12.1" fill="#f2a124"/>
<rect x="240.52" y="496.3" width="1.73" height="12.1" fill="#f6c440"/>
<rect x="241.65" y="496.3" width="1.68" height="12.1" fill="#f6c440"/>
<rect x="242.73" y="496.3" width="1.75" height="12.1" fill="#f2a124"/>
<rect x="243.89" y="496.3" width="2.53" height="12.1" fill="#f4b030"/>
<rect x="245.82" y="496.3" width="1.87" height="12.1" fill="#f2a124"/>
<rect x="247.09" y="496.3" width="2.98" height="12.1" fill="#ef9418"/>
<rect x="249.47" y="496.3" width="2.87" height="12.1" fill="#f2a124"/>
<rect x="251.74" y="496.3" width="3.75" height="12.1" fill="#f2a124"/>
<rect x="254.89" y="496.3" width="3.49" height="12.1" fill="#f2a124"/>
<rect x="257.78" y="496.3" width="1.92" height="12.1" fill="#f2a124"/>
<rect x="259.1" y="496.3" width="2.28" height="12.1" fill="#f4b030"/>
<rect x="260.78" y="496.3" width="2" height="12.1" fill="#f6c440"/>
<rect x="262.17" y="496.3" width="3.01" height="12.1" fill="#f2a124"/>
<rect x="264.58" y="496.3" width="2.81" height="12.1" fill="#f2a124"/>
<rect x="266.78" y="496.3" width="1.73" height="12.1" fill="#f2a124"/>
<rect x="267.92" y="496.3" width="3.1" height="12.1" fill="#f6c440"/>
<rect x="270.41" y="496.3" width="2.29" height="12.1" fill="#f6c440"/>
<rect x="272.1" y="496.3" width="2.6" height="12.1" fill="#f2a124"/>
<rect x="274.1" y="496.3" width="3.35" height="12.1" fill="#f4b030"/>
<rect x="276.85" y="496.3" width="2.14" height="12.1" fill="#f6c440"/>
<rect x="278.38" y="496.3" width="2.76" height="12.1" fill="#ef9418"/>
<rect x="280.54" y="496.3" width="3.2" height="12.1" fill="#f2a124"/>
<rect x="283.15" y="496.3" width="3.76" height="12.1" fill="#f2a124"/>
<rect x="286.3" y="496.3" width="2.52" height="12.1" fill="#f4b030"/>
<rect x="288.22" y="496.3" width="1.93" height="12.1" fill="#f6c440"/>
<rect x="289.56" y="496.3" width="1.69" height="12.1" fill="#f4b030"/>
<rect x="290.64" y="496.3" width="3.28" height="12.1" fill="#f6c440"/>
<rect x="293.32" y="496.3" width="3.53" height="12.1" fill="#f2a124"/>
<rect x="296.25" y="496.3" width="3.13" height="12.1" fill="#f6c440"/>
<rect x="298.78" y="496.3" width="2.88" height="12.1" fill="#f6c440"/>
<rect x="301.06" y="496.3" width="3.45" height="12.1" fill="#ef9418"/>
<rect x="303.9" y="496.3" width="2.64" height="12.1" fill="#f6c440"/>
<rect x="305.95" y="496.3" width="1.73" height="12.1" fill="#f4b030"/>
<rect x="307.08" y="496.3" width="3.02" height="12.1" fill="#ef9418"/>
<rect x="309.5" y="496.3" width="3.41" height="12.1" fill="#f2a124"/>
<rect x="312.31" y="496.3" width="2.45" height="12.1" fill="#f4b030"/>
<rect x="314.16" y="496.3" width="1.65" height="12.1" fill="#f6c440"/>
<rect x="315.21" y="496.3" width="1.97" height="12.1" fill="#f2a124"/>
<rect x="316.58" y="496.3" width="1.73" height="12.1" fill="#f4b030"/>
<rect x="317.71" y="496.3" width="1.88" height="12.1" fill="#f2a124"/>
<rect x="318.99" y="496.3" width="2.46" height="12.1" fill="#ef9418"/>
<rect x="320.85" y="496.3" width="1.78" height="12.1" fill="#f6c440"/>
<rect x="322.03" y="496.3" width="2.81" height="12.1" fill="#ef9418"/>
<rect x="324.24" y="496.3" width="3.4" height="12.1" fill="#ef9418"/>
<rect x="327.04" y="496.3" width="2.21" height="12.1" fill="#f2a124"/>
<rect x="328.66" y="496.3" width="2.39" height="12.1" fill="#ef9418"/>
<rect x="330.44" y="496.3" width="3.71" height="12.1" fill="#f2a124"/>
<rect x="333.55" y="496.3" width="1.99" height="12.1" fill="#f2a124"/>
<rect x="334.94" y="496.3" width="2.11" height="12.1" fill="#f6c440"/>
<rect x="336.45" y="496.3" width="2.9" height="12.1" fill="#f2a124"/>
<rect x="338.75" y="496.3" width="1.61" height="12.1" fill="#f6c440"/>
<rect x="339.76" y="496.3" width="2.41" height="12.1" fill="#f6c440"/>
<rect x="341.57" y="496.3" width="3.7" height="12.1" fill="#f4b030"/>
<rect x="344.67" y="496.3" width="2.73" height="12.1" fill="#f6c440"/>
<rect x="346.8" y="496.3" width="3.09" height="12.1" fill="#f2a124"/>
<rect x="349.29" y="496.3" width="3.58" height="12.1" fill="#f4b030"/>
<rect x="352.27" y="496.3" width="3.52" height="12.1" fill="#f4b030"/>
<rect x="355.19" y="496.3" width="2.46" height="12.1" fill="#f2a124"/>
<rect x="357.05" y="496.3" width="1.83" height="12.1" fill="#f6c440"/>
<rect x="358.28" y="496.3" width="1.74" height="12.1" fill="#f2a124"/>
<rect x="359.42" y="496.3" width="2.06" height="12.1" fill="#f2a124"/>
<rect x="360.88" y="496.3" width="2.35" height="12.1" fill="#f2a124"/>
<rect x="362.63" y="496.3" width="1.6" height="12.1" fill="#f2a124"/>
<rect x="363.63" y="496.3" width="1.82" height="12.1" fill="#f2a124"/>
<rect x="364.85" y="496.3" width="1.66" height="12.1" fill="#ef9418"/>
<rect x="365.91" y="496.3" width="2.95" height="12.1" fill="#f2a124"/>
<rect x="368.26" y="496.3" width="2.15" height="12.1" fill="#f2a124"/>
<rect x="369.81" y="496.3" width="2.4" height="12.1" fill="#f2a124"/>
<rect x="371.61" y="496.3" width="3.47" height="12.1" fill="#ef9418"/>
<rect x="374.48" y="496.3" width="0.72" height="12.1" fill="#f6c440"/>
<rect x="234.2" y="509.8" width="1.79" height="12" fill="#5fadbe"/>
<rect x="235.39" y="509.8" width="2.35" height="12" fill="#a8d5de"/>
<rect x="237.14" y="509.8" width="3.42" height="12" fill="#5fadbe"/>
<rect x="239.97" y="509.8" width="1.65" height="12" fill="#86c3cd"/>
<rect x="241.02" y="509.8" width="2.76" height="12" fill="#5fadbe"/>
<rect x="243.18" y="509.8" width="2.79" height="12" fill="#5fadbe"/>
<rect x="245.37" y="509.8" width="2.76" height="12" fill="#86c3cd"/>
<rect x="247.54" y="509.8" width="3.5" height="12" fill="#c6e3e6"/>
<rect x="250.44" y="509.8" width="2.17" height="12" fill="#a8d5de"/>
<rect x="252.01" y="509.8" width="1.97" height="12" fill="#c6e3e6"/>
<rect x="253.38" y="509.8" width="2.77" height="12" fill="#c6e3e6"/>
<rect x="255.55" y="509.8" width="2.33" height="12" fill="#5fadbe"/>
<rect x="257.27" y="509.8" width="3.39" height="12" fill="#86c3cd"/>
<rect x="260.06" y="509.8" width="3.48" height="12" fill="#c6e3e6"/>
<rect x="262.94" y="509.8" width="3.4" height="12" fill="#c6e3e6"/>
<rect x="265.74" y="509.8" width="2.1" height="12" fill="#3a7f98"/>
<rect x="267.23" y="509.8" width="2.38" height="12" fill="#5fadbe"/>
<rect x="269.02" y="509.8" width="1.66" height="12" fill="#a8d5de"/>
<rect x="270.08" y="509.8" width="2.17" height="12" fill="#c6e3e6"/>
<rect x="271.65" y="509.8" width="3.7" height="12" fill="#a8d5de"/>
<rect x="274.75" y="509.8" width="3.66" height="12" fill="#86c3cd"/>
<rect x="277.81" y="509.8" width="3.7" height="12" fill="#a8d5de"/>
<rect x="280.92" y="509.8" width="2.09" height="12" fill="#5fadbe"/>
<rect x="282.4" y="509.8" width="2.03" height="12" fill="#5fadbe"/>
<rect x="283.83" y="509.8" width="2.97" height="12" fill="#86c3cd"/>
<rect x="286.21" y="509.8" width="3.45" height="12" fill="#3a7f98"/>
<rect x="289.05" y="509.8" width="3.04" height="12" fill="#c6e3e6"/>
<rect x="291.49" y="509.8" width="1.79" height="12" fill="#c6e3e6"/>
<rect x="292.68" y="509.8" width="3.6" height="12" fill="#c6e3e6"/>
<rect x="295.68" y="509.8" width="3.25" height="12" fill="#3a7f98"/>
<rect x="298.33" y="509.8" width="1.99" height="12" fill="#c6e3e6"/>
<rect x="299.72" y="509.8" width="2.33" height="12" fill="#c6e3e6"/>
<rect x="301.45" y="509.8" width="3.74" height="12" fill="#a8d5de"/>
<rect x="304.59" y="509.8" width="2.48" height="12" fill="#86c3cd"/>
<rect x="306.47" y="509.8" width="3.19" height="12" fill="#5fadbe"/>
<rect x="309.07" y="509.8" width="1.88" height="12" fill="#5fadbe"/>
<rect x="310.35" y="509.8" width="3.59" height="12" fill="#c6e3e6"/>
<rect x="313.34" y="509.8" width="1.92" height="12" fill="#86c3cd"/>
<rect x="314.66" y="509.8" width="3.76" height="12" fill="#c6e3e6"/>
<rect x="317.82" y="509.8" width="2.37" height="12" fill="#e8eedf"/>
<rect x="319.59" y="509.8" width="1.89" height="12" fill="#5fadbe"/>
<rect x="320.88" y="509.8" width="3.74" height="12" fill="#c6e3e6"/>
<rect x="324.01" y="509.8" width="2.76" height="12" fill="#86c3cd"/>
<rect x="326.17" y="509.8" width="2.55" height="12" fill="#86c3cd"/>
<rect x="328.13" y="509.8" width="3.42" height="12" fill="#5fadbe"/>
<rect x="330.94" y="509.8" width="2.15" height="12" fill="#a8d5de"/>
<rect x="332.5" y="509.8" width="2.13" height="12" fill="#e8eedf"/>
<rect x="334.03" y="509.8" width="2.17" height="12" fill="#a8d5de"/>
<rect x="335.6" y="509.8" width="1.89" height="12" fill="#86c3cd"/>
<rect x="336.89" y="509.8" width="2.38" height="12" fill="#a8d5de"/>
<rect x="338.66" y="509.8" width="2.88" height="12" fill="#86c3cd"/>
<rect x="340.95" y="509.8" width="2.53" height="12" fill="#86c3cd"/>
<rect x="342.87" y="509.8" width="2.7" height="12" fill="#e8eedf"/>
<rect x="344.98" y="509.8" width="2.75" height="12" fill="#5fadbe"/>
<rect x="347.13" y="509.8" width="2.57" height="12" fill="#5fadbe"/>
<rect x="349.1" y="509.8" width="1.61" height="12" fill="#c6e3e6"/>
<rect x="350.1" y="509.8" width="1.98" height="12" fill="#3a7f98"/>
<rect x="351.48" y="509.8" width="3.2" height="12" fill="#e8eedf"/>
<rect x="354.08" y="509.8" width="2.32" height="12" fill="#3a7f98"/>
<rect x="355.8" y="509.8" width="2.82" height="12" fill="#c6e3e6"/>
<rect x="358.02" y="509.8" width="1.83" height="12" fill="#e8eedf"/>
<rect x="359.25" y="509.8" width="2.15" height="12" fill="#a8d5de"/>
<rect x="360.8" y="509.8" width="3.3" height="12" fill="#3a7f98"/>
<rect x="363.5" y="509.8" width="2.84" height="12" fill="#c6e3e6"/>
<rect x="365.73" y="509.8" width="3.61" height="12" fill="#a8d5de"/>
<rect x="368.74" y="509.8" width="2.95" height="12" fill="#3a7f98"/>
<rect x="371.09" y="509.8" width="2.73" height="12" fill="#c6e3e6"/>
<rect x="373.22" y="509.8" width="1.98" height="12" fill="#e8eedf"/>
<rect x="234.2" y="523.2" width="2.65" height="12.4" fill="#ec8fa4"/>
<rect x="236.25" y="523.2" width="3.14" height="12.4" fill="#ec8fa4"/>
<rect x="238.79" y="523.2" width="3.67" height="12.4" fill="#ee5f80"/>
<rect x="241.86" y="523.2" width="2.83" height="12.4" fill="#ec8fa4"/>
<rect x="244.09" y="523.2" width="3.45" height="12.4" fill="#e07a92"/>
<rect x="246.94" y="523.2" width="1.87" height="12.4" fill="#e9a7b6"/>
<rect x="248.21" y="523.2" width="1.76" height="12.4" fill="#ee5f80"/>
<rect x="249.37" y="523.2" width="1.76" height="12.4" fill="#dc9cb2"/>
<rect x="250.53" y="523.2" width="3.32" height="12.4" fill="#ec8fa4"/>
<rect x="253.25" y="523.2" width="1.94" height="12.4" fill="#dc9cb2"/>
<rect x="254.59" y="523.2" width="3.05" height="12.4" fill="#e07a92"/>
<rect x="257.05" y="523.2" width="3.54" height="12.4" fill="#ec8fa4"/>
<rect x="259.99" y="523.2" width="2.08" height="12.4" fill="#ec8fa4"/>
<rect x="261.47" y="523.2" width="2.48" height="12.4" fill="#e9a7b6"/>
<rect x="263.35" y="523.2" width="3.78" height="12.4" fill="#ec8fa4"/>
<rect x="266.53" y="523.2" width="1.96" height="12.4" fill="#e9a7b6"/>
<rect x="267.88" y="523.2" width="2.73" height="12.4" fill="#e9a7b6"/>
<rect x="270.02" y="523.2" width="2.03" height="12.4" fill="#e9a7b6"/>
<rect x="271.45" y="523.2" width="3.19" height="12.4" fill="#e07a92"/>
<rect x="274.03" y="523.2" width="2.82" height="12.4" fill="#e9a7b6"/>
<rect x="276.25" y="523.2" width="1.64" height="12.4" fill="#e9a7b6"/>
<rect x="277.29" y="523.2" width="2.97" height="12.4" fill="#e9a7b6"/>
<rect x="279.67" y="523.2" width="1.74" height="12.4" fill="#ec8fa4"/>
<rect x="280.81" y="523.2" width="3.33" height="12.4" fill="#ec8fa4"/>
<rect x="283.54" y="523.2" width="1.83" height="12.4" fill="#ee5f80"/>
<rect x="284.77" y="523.2" width="1.69" height="12.4" fill="#dc9cb2"/>
<rect x="285.86" y="523.2" width="2.19" height="12.4" fill="#e07a92"/>
<rect x="287.45" y="523.2" width="2.53" height="12.4" fill="#ec8fa4"/>
<rect x="289.38" y="523.2" width="3.4" height="12.4" fill="#ee5f80"/>
<rect x="292.19" y="523.2" width="1.93" height="12.4" fill="#ec8fa4"/>
<rect x="293.51" y="523.2" width="2.86" height="12.4" fill="#dc9cb2"/>
<rect x="295.77" y="523.2" width="1.8" height="12.4" fill="#e07a92"/>
<rect x="296.97" y="523.2" width="3.11" height="12.4" fill="#e9a7b6"/>
<rect x="299.48" y="523.2" width="1.76" height="12.4" fill="#ec8fa4"/>
<rect x="300.64" y="523.2" width="3" height="12.4" fill="#ec8fa4"/>
<rect x="303.04" y="523.2" width="1.78" height="12.4" fill="#ec8fa4"/>
<rect x="304.22" y="523.2" width="1.75" height="12.4" fill="#ec8fa4"/>
<rect x="305.37" y="523.2" width="2.6" height="12.4" fill="#e9a7b6"/>
<rect x="307.36" y="523.2" width="2.82" height="12.4" fill="#ec8fa4"/>
<rect x="309.58" y="523.2" width="2.19" height="12.4" fill="#e07a92"/>
<rect x="311.17" y="523.2" width="2.76" height="12.4" fill="#ee5f80"/>
<rect x="313.33" y="523.2" width="1.84" height="12.4" fill="#e07a92"/>
<rect x="314.57" y="523.2" width="1.71" height="12.4" fill="#ee5f80"/>
<rect x="315.68" y="523.2" width="2.29" height="12.4" fill="#e9a7b6"/>
<rect x="317.37" y="523.2" width="3.27" height="12.4" fill="#e9a7b6"/>
<rect x="320.04" y="523.2" width="2.7" height="12.4" fill="#e07a92"/>
<rect x="322.14" y="523.2" width="2.36" height="12.4" fill="#e07a92"/>
<rect x="323.9" y="523.2" width="2.15" height="12.4" fill="#e07a92"/>
<rect x="325.45" y="523.2" width="3.21" height="12.4" fill="#dc9cb2"/>
<rect x="328.07" y="523.2" width="2.02" height="12.4" fill="#e9a7b6"/>
<rect x="329.48" y="523.2" width="3.66" height="12.4" fill="#e07a92"/>
<rect x="332.54" y="523.2" width="3.4" height="12.4" fill="#e9a7b6"/>
<rect x="335.34" y="523.2" width="2.69" height="12.4" fill="#ec8fa4"/>
<rect x="337.43" y="523.2" width="2.46" height="12.4" fill="#e9a7b6"/>
<rect x="339.29" y="523.2" width="3.11" height="12.4" fill="#ec8fa4"/>
<rect x="341.81" y="523.2" width="2.35" height="12.4" fill="#ec8fa4"/>
<rect x="343.56" y="523.2" width="3.15" height="12.4" fill="#dc9cb2"/>
<rect x="346.12" y="523.2" width="2.49" height="12.4" fill="#e9a7b6"/>
<rect x="348.01" y="523.2" width="1.72" height="12.4" fill="#e07a92"/>
<rect x="349.13" y="523.2" width="1.76" height="12.4" fill="#dc9cb2"/>
<rect x="350.28" y="523.2" width="2.16" height="12.4" fill="#e07a92"/>
<rect x="351.84" y="523.2" width="1.79" height="12.4" fill="#ec8fa4"/>
<rect x="353.03" y="523.2" width="3.52" height="12.4" fill="#dc9cb2"/>
<rect x="355.94" y="523.2" width="2.22" height="12.4" fill="#ee5f80"/>
<rect x="357.57" y="523.2" width="2.24" height="12.4" fill="#e9a7b6"/>
<rect x="359.21" y="523.2" width="1.95" height="12.4" fill="#e9a7b6"/>
<rect x="360.56" y="523.2" width="2.18" height="12.4" fill="#ec8fa4"/>
<rect x="362.14" y="523.2" width="3.74" height="12.4" fill="#dc9cb2"/>
<rect x="365.28" y="523.2" width="2.14" height="12.4" fill="#ec8fa4"/>
<rect x="366.81" y="523.2" width="2.28" height="12.4" fill="#e9a7b6"/>
<rect x="368.49" y="523.2" width="1.6" height="12.4" fill="#e9a7b6"/>
<rect x="369.5" y="523.2" width="2.64" height="12.4" fill="#e9a7b6"/>
<rect x="371.54" y="523.2" width="2.04" height="12.4" fill="#e9a7b6"/>
<rect x="372.98" y="523.2" width="1.61" height="12.4" fill="#ee5f80"/>
<rect x="373.99" y="523.2" width="1.21" height="12.4" fill="#e9a7b6"/>
<rect x="375.19" y="523.2" width="0.01" height="12.4" fill="#e07a92"/>
<defs><linearGradient id="tbx" x1="0" x2="1" y1="0" y2="0"><stop offset="0" stop-color="#fde3cc"/><stop offset="0.12" stop-color="#f6a66a"/><stop offset="0.3" stop-color="#f08a3a"/><stop offset="0.7" stop-color="#ea7224"/><stop offset="1" stop-color="#c9480c"/></linearGradient></defs>
<rect x="234.2" y="536.7" width="141" height="12" fill="url(#tbx)"/>
<text x="378.6" y="483.7" font-size="6.5">Number of</text>
<text x="378.6" y="491.6" font-size="6.5">genetic alterations</text>
<text x="378.6" y="504.5" font-size="6.5">IGHV</text>
<text x="378.6" y="517.9" font-size="6.5">Patient status</text>
<text x="378.6" y="530.9" font-size="6.5">Treated</text>
<text x="378.6" y="543.4" font-size="6.5">TBX21_expr</text>
<text x="378.7" y="556.95" font-size="6.5">7%</text>
<rect x="394.8" y="551.95" width="6.5" height="5.4" fill="#2d67b2"/>
<rect x="401.3" y="551.95" width="2.9" height="5.4" fill="#7aaee0"/>
<rect x="404.2" y="551.95" width="1.4" height="5.4" fill="#3caa5c"/>
<text x="378.7" y="565.78" font-size="6.5">4%</text>
<rect x="394.8" y="560.78" width="4.9" height="5.4" fill="#e3161e"/>
<text x="378.7" y="574.61" font-size="6.5">2%</text>
<rect x="394.8" y="569.61" width="1.9" height="5.4" fill="#6d1212"/>
<text x="378.7" y="583.44" font-size="6.5">13%</text>
<rect x="394.8" y="578.44" width="15.4" height="5.4" fill="#e3161e"/>
<text x="378.7" y="592.27" font-size="6.5">2%</text>
<rect x="394.8" y="587.27" width="1.9" height="5.4" fill="#6d1212"/>
<text x="378.7" y="601.1" font-size="6.5">4%</text>
<rect x="394.8" y="596.1" width="1.4" height="5.4" fill="#2d67b2"/>
<rect x="396.2" y="596.1" width="3.3" height="5.4" fill="#e6e03c"/>
<text x="378.7" y="609.93" font-size="6.5">7%</text>
<rect x="394.8" y="604.93" width="7.6" height="5.4" fill="#2d67b2"/>
<text x="378.7" y="618.76" font-size="6.5">12%</text>
<rect x="394.8" y="613.76" width="12.4" height="5.4" fill="#2d67b2"/>
<rect x="407.2" y="613.76" width="2.4" height="5.4" fill="#7aaee0"/>
<text x="378.7" y="627.59" font-size="6.5">1%</text>
<rect x="394.8" y="622.59" width="1.4" height="5.4" fill="#2d67b2"/>
<text x="378.7" y="636.42" font-size="6.5">23%</text>
<rect x="394.8" y="631.42" width="28.3" height="5.4" fill="#6d1212"/>
<text x="378.7" y="645.25" font-size="6.5">5%</text>
<rect x="394.8" y="640.25" width="5.9" height="5.4" fill="#6d1212"/>
<text x="378.7" y="654.08" font-size="6.5">4%</text>
<rect x="394.8" y="649.08" width="4.1" height="5.4" fill="#2d67b2"/>
<rect x="398.9" y="649.08" width="1.2" height="5.4" fill="#7b2d8e"/>
<text x="378.7" y="662.91" font-size="6.5">1%</text>
<rect x="394.8" y="657.91" width="1.4" height="5.4" fill="#7b2d8e"/>
<text x="378.7" y="671.74" font-size="6.5">5%</text>
<rect x="394.8" y="666.74" width="5.3" height="5.4" fill="#6d1212"/>
<text x="378.7" y="680.57" font-size="6.5">12%</text>
<rect x="394.8" y="675.57" width="3" height="5.4" fill="#2d67b2"/>
<rect x="397.8" y="675.57" width="9.4" height="5.4" fill="#3caa5c"/>
<rect x="407.2" y="675.57" width="2.9" height="5.4" fill="#f0a040"/>
<text x="394.6" y="688.3" font-size="4.6" text-anchor="middle">0</text>
<text x="401.6" y="688.3" font-size="4.6" text-anchor="middle">20</text>
<text x="408.2" y="688.3" font-size="4.6" text-anchor="middle">40</text>
<text x="414.6" y="688.3" font-size="4.6" text-anchor="middle">60</text>
<text x="421.4" y="688.3" font-size="4.6" text-anchor="middle">80</text>
<line x1="394.6" y1="691.9" x2="424.2" y2="691.9" stroke="#222" stroke-width="0.8"/>
<line x1="394.6" y1="691.9" x2="394.6" y2="690.3" stroke="#222" stroke-width="0.5"/>
<line x1="396.3" y1="691.9" x2="396.3" y2="690.9" stroke="#222" stroke-width="0.5"/>
<line x1="398" y1="691.9" x2="398" y2="690.3" stroke="#222" stroke-width="0.5"/>
<line x1="399.7" y1="691.9" x2="399.7" y2="690.9" stroke="#222" stroke-width="0.5"/>
<line x1="401.4" y1="691.9" x2="401.4" y2="690.3" stroke="#222" stroke-width="0.5"/>
<line x1="403.1" y1="691.9" x2="403.1" y2="690.9" stroke="#222" stroke-width="0.5"/>
<line x1="404.8" y1="691.9" x2="404.8" y2="690.3" stroke="#222" stroke-width="0.5"/>
<line x1="406.5" y1="691.9" x2="406.5" y2="690.9" stroke="#222" stroke-width="0.5"/>
<line x1="408.2" y1="691.9" x2="408.2" y2="690.3" stroke="#222" stroke-width="0.5"/>
<line x1="409.9" y1="691.9" x2="409.9" y2="690.9" stroke="#222" stroke-width="0.5"/>
<line x1="411.6" y1="691.9" x2="411.6" y2="690.3" stroke="#222" stroke-width="0.5"/>
<line x1="413.3" y1="691.9" x2="413.3" y2="690.9" stroke="#222" stroke-width="0.5"/>
<line x1="415" y1="691.9" x2="415" y2="690.3" stroke="#222" stroke-width="0.5"/>
<line x1="416.7" y1="691.9" x2="416.7" y2="690.9" stroke="#222" stroke-width="0.5"/>
<line x1="418.4" y1="691.9" x2="418.4" y2="690.3" stroke="#222" stroke-width="0.5"/>
<line x1="420.1" y1="691.9" x2="420.1" y2="690.9" stroke="#222" stroke-width="0.5"/>
<line x1="421.8" y1="691.9" x2="421.8" y2="690.3" stroke="#222" stroke-width="0.5"/>
<text x="441.6" y="470" font-size="6.4">Alterations</text>
<rect x="441.6" y="475" width="6" height="6" fill="#7b2d8e"/>
<text x="451" y="480.3" font-size="6.4">Nonsense</text>
<rect x="441.6" y="485" width="6" height="6" fill="#2d67b2"/>
<text x="451" y="490.3" font-size="6.4">Missense</text>
<rect x="441.6" y="494.8" width="6" height="6" fill="#7aaee0"/>
<text x="451" y="500.1" font-size="6.4">Splice_Site</text>
<rect x="441.6" y="505.1" width="6" height="6" fill="#3caa5c"/>
<text x="451" y="510.4" font-size="6.4">Frame_shift</text>
<rect x="441.6" y="515.2" width="6" height="6" fill="#e6e03c"/>
<text x="451" y="520.5" font-size="6.4">Other_non.syn.</text>
<rect x="441.6" y="525.1" width="6" height="6" fill="#f0a040"/>
<text x="451" y="530.4" font-size="6.4">Three_prime_UTR</text>
<rect x="441.6" y="535.2" width="6" height="6" fill="#e3161e"/>
<text x="451" y="540.5" font-size="6.4">Gain</text>
<rect x="441.6" y="545.3" width="6" height="6" fill="#6d1212"/>
<text x="451" y="550.6" font-size="6.4">Loss</text>
<text x="441.6" y="563.8" font-size="6.4">IGHV</text>
<rect x="441.6" y="568.3" width="6" height="6" fill="#ebe43e"/>
<text x="451" y="573.6" font-size="6.4">U-CLL</text>
<rect x="441.6" y="578.5" width="6" height="6" fill="#ee9a3c"/>
<text x="451" y="583.8" font-size="6.4">M-CLL</text>
<text x="441.6" y="597" font-size="6.4">Patient status</text>
<rect x="441.6" y="601.9" width="6" height="6" fill="#b9b9b9"/>
<text x="451" y="607.2" font-size="6.4">untreated</text>
<rect x="441.6" y="611.8" width="6" height="6" fill="#e0606f"/>
<text x="451" y="617.1" font-size="6.4">treated</text>
<text x="441.6" y="630.6" font-size="6.4">TTFT</text>
<defs><linearGradient id="ttft" x1="0" x2="1" y1="0" y2="0"><stop offset="0" stop-color="#f6f6c6"/><stop offset="0.2" stop-color="#d9eaa6"/><stop offset="0.4" stop-color="#86cbbb"/><stop offset="0.6" stop-color="#3da8c4"/><stop offset="0.8" stop-color="#2566ab"/><stop offset="1" stop-color="#1e2d85"/></linearGradient><linearGradient id="tbx2" x1="0" x2="1" y1="0" y2="0"><stop offset="0" stop-color="#fff1e3"/><stop offset="0.3" stop-color="#f9b77a"/><stop offset="0.55" stop-color="#ef7a1e"/><stop offset="0.8" stop-color="#c84a08"/><stop offset="1" stop-color="#7f2704"/></linearGradient></defs>
<rect x="441.7" y="634.7" width="54.3" height="11.7" fill="url(#ttft)"/>
<line x1="443" y1="634.7" x2="443" y2="636.2" stroke="#fff" stroke-width="0.5"/>
<line x1="443" y1="644.9" x2="443" y2="646.4" stroke="#fff" stroke-width="0.5"/>
<text x="443" y="654.2" font-size="6.4" text-anchor="middle">0</text>
<line x1="453.3" y1="634.7" x2="453.3" y2="636.2" stroke="#fff" stroke-width="0.5"/>
<line x1="453.3" y1="644.9" x2="453.3" y2="646.4" stroke="#fff" stroke-width="0.5"/>
<text x="453.3" y="654.2" font-size="6.4" text-anchor="middle">2</text>
<line x1="463.6" y1="634.7" x2="463.6" y2="636.2" stroke="#fff" stroke-width="0.5"/>
<line x1="463.6" y1="644.9" x2="463.6" y2="646.4" stroke="#fff" stroke-width="0.5"/>
<text x="463.6" y="654.2" font-size="6.4" text-anchor="middle">4</text>
<line x1="473.9" y1="634.7" x2="473.9" y2="636.2" stroke="#fff" stroke-width="0.5"/>
<line x1="473.9" y1="644.9" x2="473.9" y2="646.4" stroke="#fff" stroke-width="0.5"/>
<text x="473.9" y="654.2" font-size="6.4" text-anchor="middle">6</text>
<line x1="484.2" y1="634.7" x2="484.2" y2="636.2" stroke="#fff" stroke-width="0.5"/>
<line x1="484.2" y1="644.9" x2="484.2" y2="646.4" stroke="#fff" stroke-width="0.5"/>
<text x="484.2" y="654.2" font-size="6.4" text-anchor="middle">8</text>
<line x1="494.5" y1="634.7" x2="494.5" y2="636.2" stroke="#fff" stroke-width="0.5"/>
<line x1="494.5" y1="644.9" x2="494.5" y2="646.4" stroke="#fff" stroke-width="0.5"/>
<text x="494.5" y="654.2" font-size="6.4" text-anchor="middle">10</text>
<text x="441.6" y="666.7" font-size="6.4"><tspan font-style="italic">TBX21</tspan>_expr</text>
<rect x="441.7" y="671.4" width="53.7" height="11.2" fill="url(#tbx2)"/>
<line x1="491.8" y1="671.4" x2="491.8" y2="672.9" stroke="#fff" stroke-width="0.5"/>
<line x1="491.8" y1="681.1" x2="491.8" y2="682.6" stroke="#fff" stroke-width="0.5"/>
<text x="441.4" y="690.3" font-size="6.4">4.3</text>
<text x="491.8" y="690.3" font-size="6.4" text-anchor="middle">9</text>
<rect x="0.5" y="0.5" width="518.8" height="712.8" fill="none" stroke="#555" stroke-width="1.1"/>
</svg></body></html>
